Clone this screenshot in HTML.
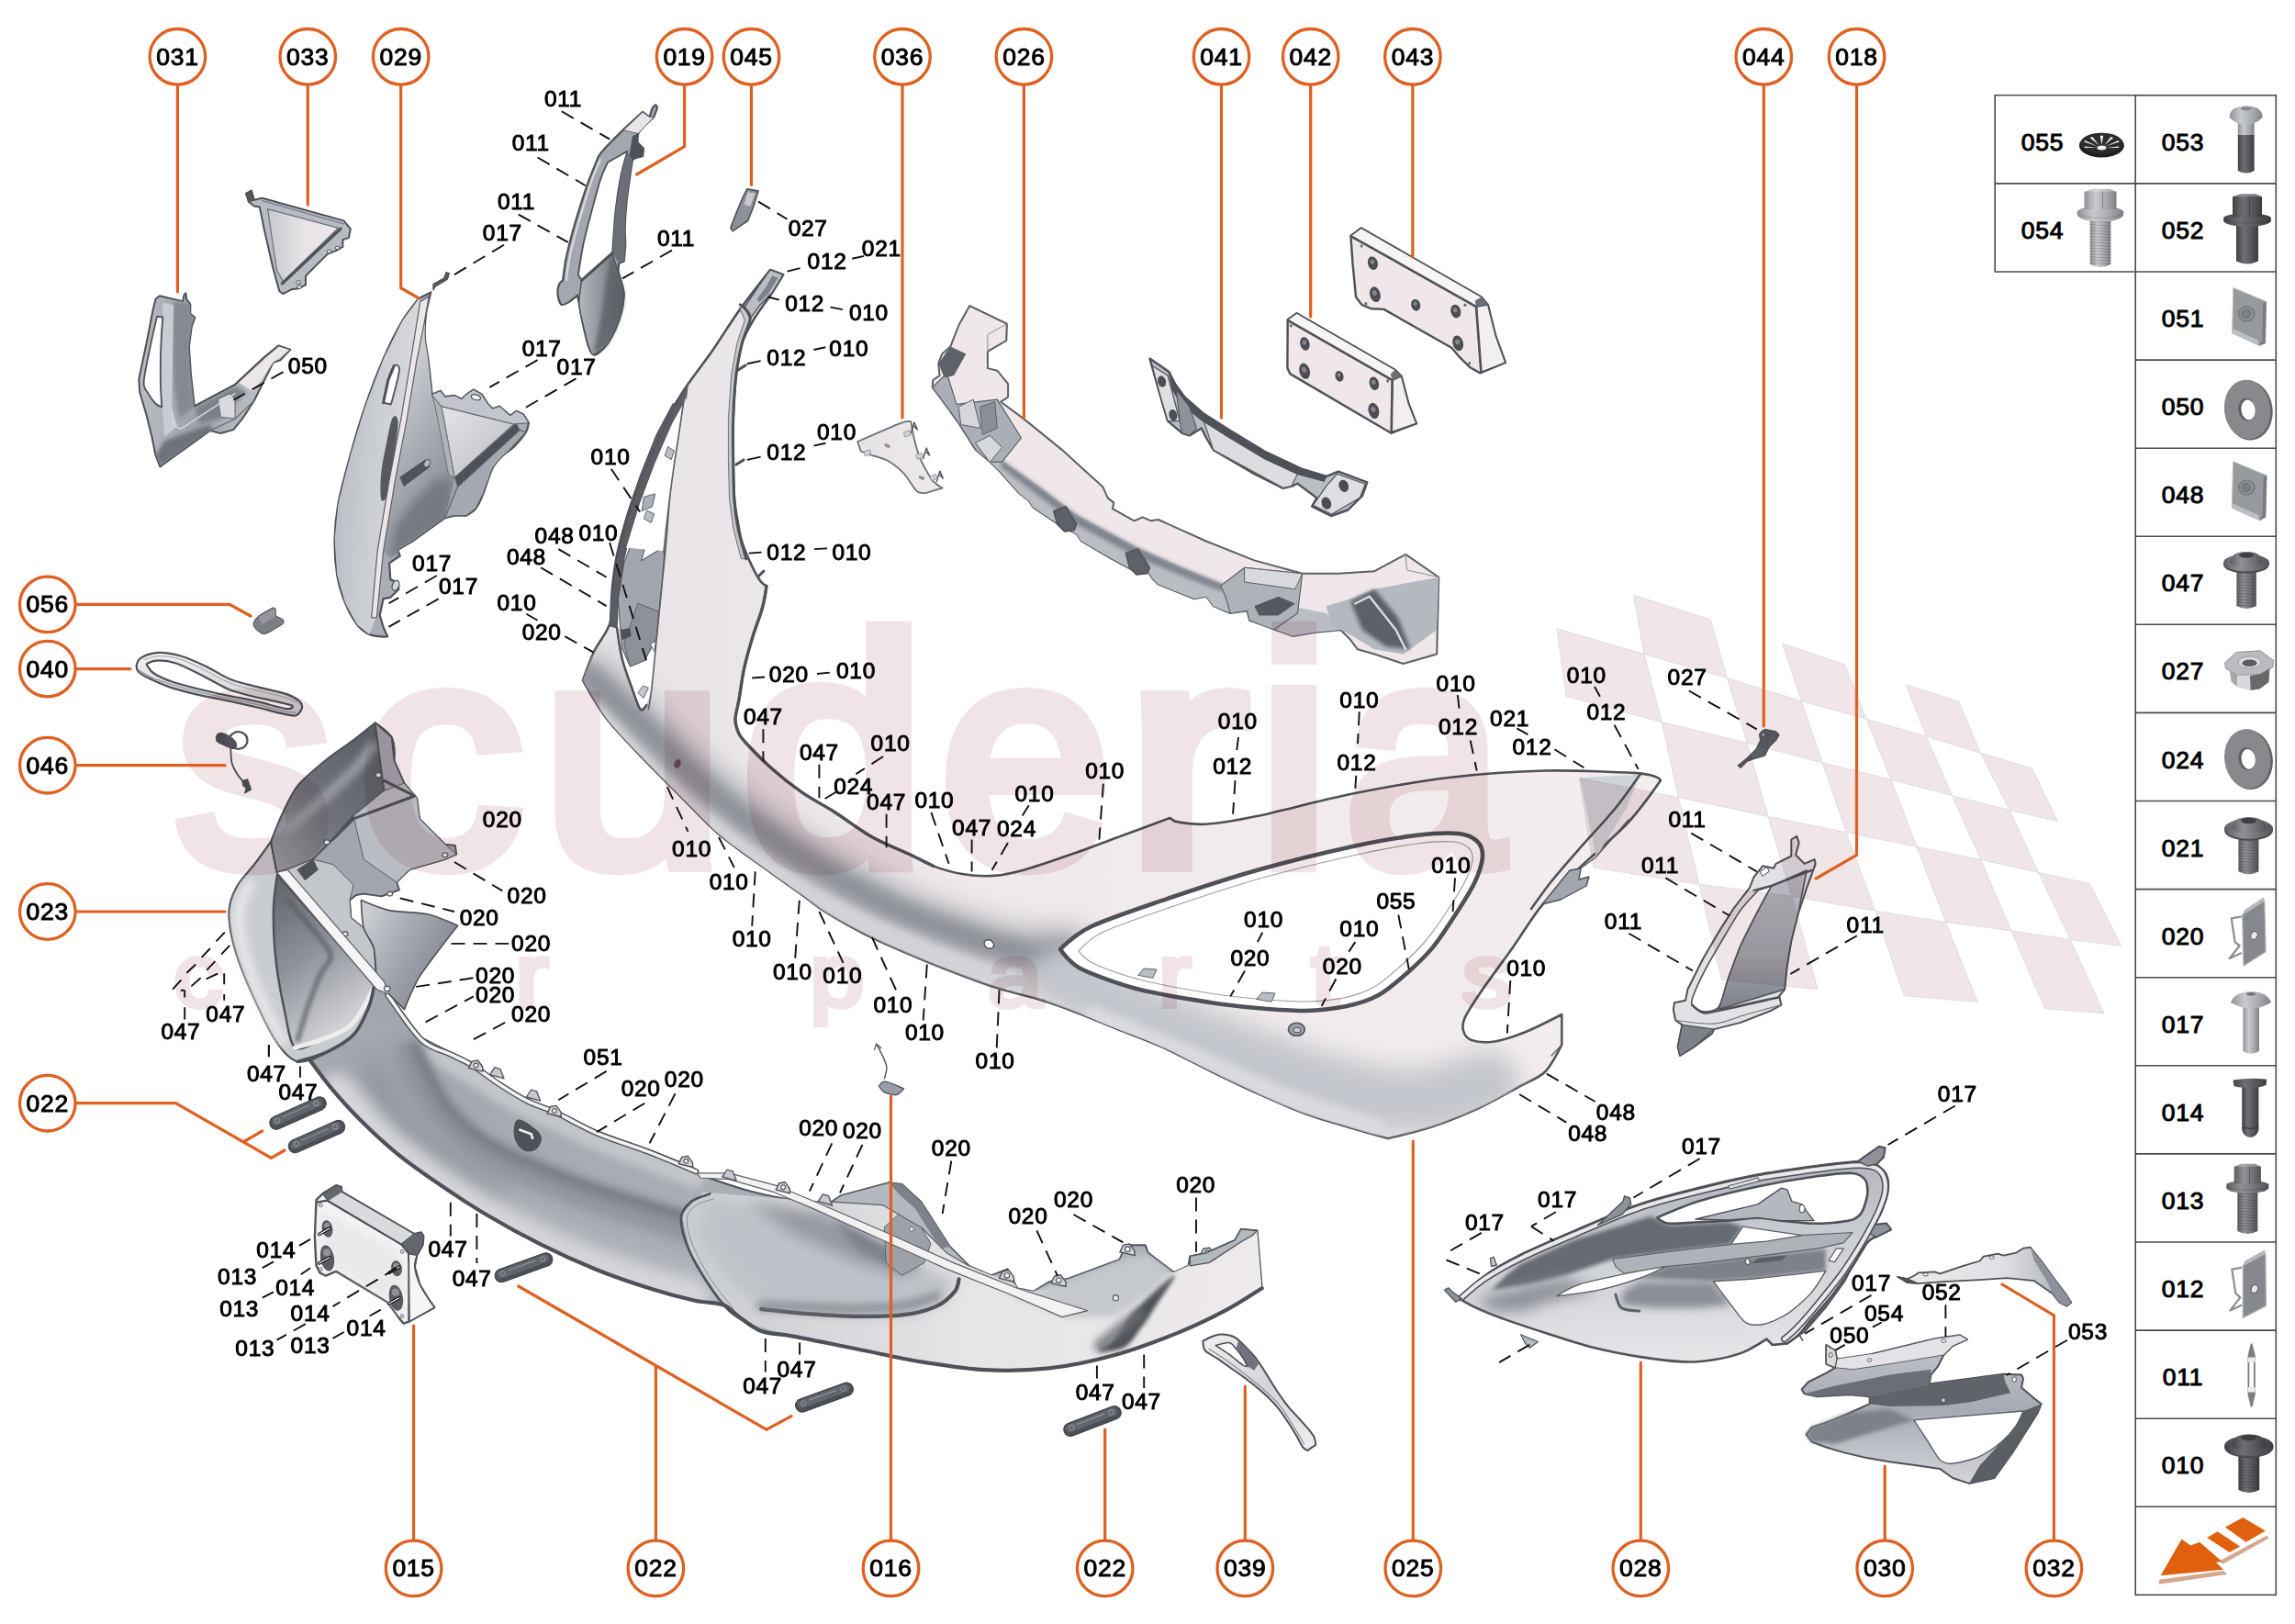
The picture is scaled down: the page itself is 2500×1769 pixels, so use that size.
<!DOCTYPE html>
<html lang="en"><head><meta charset="utf-8"><title>Front bumper parts diagram</title>
<style>
html,body{margin:0;padding:0;background:#fff}
body{width:2500px;height:1769px;overflow:hidden}
svg{display:block}
text{font-family:'Liberation Sans',sans-serif}
.ct text{font-size:25px;text-anchor:middle;fill:#000;stroke:#000;stroke-width:.95px;letter-spacing:.7px}
.lt text{font-size:24.5px;text-anchor:middle;fill:#000;stroke:#000;stroke-width:.95px;letter-spacing:.7px}
</style></head><body>
<svg width="2500" height="1769" viewBox="0 0 2500 1769">
<defs><filter id="b2" filterUnits="userSpaceOnUse" x="0" y="0" width="2500" height="1769"><feGaussianBlur stdDeviation="2"/></filter><filter id="b4" filterUnits="userSpaceOnUse" x="0" y="0" width="2500" height="1769"><feGaussianBlur stdDeviation="4"/></filter><filter id="b8" filterUnits="userSpaceOnUse" x="0" y="0" width="2500" height="1769"><feGaussianBlur stdDeviation="8"/></filter><filter id="b14" filterUnits="userSpaceOnUse" x="0" y="0" width="2500" height="1769"><feGaussianBlur stdDeviation="14"/></filter><linearGradient id="gA" x1="0" y1="0" x2="1" y2="0" gradientUnits="objectBoundingBox"><stop offset="0" stop-color="#c3c7cd"/><stop offset="0.5" stop-color="#a4a9b1"/><stop offset="1" stop-color="#8b9098"/></linearGradient><linearGradient id="gLight" x1="0" y1="0" x2="1" y2="0" gradientUnits="objectBoundingBox"><stop offset="0" stop-color="#d9dbe0"/><stop offset="1" stop-color="#efe9eb"/></linearGradient><linearGradient id="g031" x1="0" y1="0" x2="1" y2="0" gradientUnits="objectBoundingBox"><stop offset="0" stop-color="#b9bdc4"/><stop offset="0.35" stop-color="#9ea3ab"/><stop offset="0.7" stop-color="#b4b8bf"/><stop offset="1" stop-color="#c9ccd1"/></linearGradient><clipPath id="c031"><path d="M173.8 322.2 L199 328.1 L200.6 321.2 L202.5 319.3 L203.3 326.1 L207.3 331.1 L207.3 341.9 L212.4 345.9 L208.8 355.7 L205.9 377.4 L207.9 407 L211.8 442.4 L256.1 418.8 L287.7 389.2 L303.5 376.4 L316.3 380.9 L305.4 392.2 L297.5 395.1 L287.7 414.8 L276.8 436.5 L264 456.2 L254.2 468.1 L240.4 472 L228.6 469.1 L174.3 508.5 L169.4 495.7 L165.5 476 L159.6 452.3 L152.1 426.7 L151.3 412.9 L159.6 373.5 L166.5 338 L169.4 326.1Z"/></clipPath><linearGradient id="g033" x1="0" y1="0" x2="1" y2="0" gradientUnits="objectBoundingBox"><stop offset="0" stop-color="#c5c9cf"/><stop offset="0.5" stop-color="#e6e3e6"/><stop offset="1" stop-color="#efe8ea"/></linearGradient><linearGradient id="g029a" x1="0" y1="0" x2="1" y2="0.3" gradientUnits="objectBoundingBox"><stop offset="0" stop-color="#b4b8bf"/><stop offset="0.5" stop-color="#c9ccd1"/><stop offset="1" stop-color="#dcdde1"/></linearGradient><linearGradient id="g029b" x1="0.3" y1="0" x2="0.7" y2="1" gradientUnits="objectBoundingBox"><stop offset="0" stop-color="#dedfe3"/><stop offset="0.45" stop-color="#b0b4bb"/><stop offset="1" stop-color="#7c8088"/></linearGradient><linearGradient id="g029c" x1="0" y1="0" x2="1" y2="1" gradientUnits="objectBoundingBox"><stop offset="0" stop-color="#e4e4e8"/><stop offset="1" stop-color="#b9bdc4"/></linearGradient><clipPath id="c029"><path d="M456.4 324.9 C456.4 324.9 443.5 340.7 438.3 349.5 C433.1 358.3 423.1 378.1 417.6 390.9 C412.1 403.7 401.7 431.1 396.9 445.2 C392.1 459.3 385.2 483.1 381.4 496.9 C377.6 510.7 370.6 536.5 368.4 548.6 C366.2 560.7 364.8 577.1 364.6 587.4 C364.4 597.7 365.7 616.9 367.2 626.2 C368.7 635.5 373.3 650 376.2 657.2 C379.1 664.4 385.6 676 389.1 680.5 C392.6 685 398.6 689.2 402.1 690.9 C405.6 692.6 412.3 693.1 415 693.4 C417.7 693.7 422.2 693.4 422.2 693.4 C422.2 693.4 417.6 683.1 417.6 683.1 C417.6 683.1 413.7 670.2 413.7 670.2 C413.7 670.2 417.6 652.1 417.6 652.1 C417.6 652.1 425.3 650.8 425.3 650.8 C425.3 650.8 434.4 641.7 434.4 641.7 C434.4 641.7 433.1 634 433.1 634 C433.1 634 425.3 631.4 425.3 631.4 C425.3 631.4 424.1 613.3 424.1 613.3 C424.1 613.3 435.7 605.5 435.7 605.5 C435.7 605.5 433.1 599.1 433.1 599.1 C433.1 599.1 448.6 590 448.6 590 C448.6 590 484.8 564.1 484.8 564.1 C484.8 564.1 495.2 561.6 495.2 561.6 C495.2 561.6 508.1 561.6 508.1 561.6 C508.1 561.6 516 556.9 518.4 553.8 C520.8 550.7 523.8 544.2 526.2 538.3 C528.6 532.4 533.8 515.3 536.6 509.8 C539.4 504.3 543.8 500 546.9 496.9 C550 493.8 556.3 490.1 559.8 486.6 C563.3 483.1 570.7 474.5 572.8 471 C574.9 467.5 575.9 460.7 575.9 460.7 C575.9 460.7 570.2 451.6 570.2 451.6 C570.2 451.6 562.4 447.8 562.4 447.8 C562.4 447.8 555.9 452.9 555.9 452.9 C555.9 452.9 546.9 445.2 546.9 445.2 C546.9 445.2 544.3 442.6 544.3 442.6 C544.3 442.6 536.6 445.2 536.6 445.2 C536.6 445.2 531.4 440 531.4 440 C531.4 440 524.9 429.7 524.9 429.7 C524.9 429.7 515.9 424.5 515.9 424.5 C515.9 424.5 508.1 429.7 508.1 429.7 C508.1 429.7 502.9 434.8 502.9 434.8 C502.9 434.8 495.2 430.9 495.2 430.9 C495.2 430.9 484.8 432.2 484.8 432.2 C484.8 432.2 479.7 425.8 479.7 425.8 C479.7 425.8 470.6 429.7 470.6 429.7 C470.6 429.7 467.7 401.7 466.7 393.4 C465.7 385.1 463.1 374.5 462.8 367.6 C462.5 360.7 463.2 348.3 464.1 341.7 C465 335.1 469.3 318.4 469.3 318.4 C469.3 318.4 456.4 324.9 456.4 324.9Z"/></clipPath><linearGradient id="g019" x1="0" y1="0" x2="1" y2="0" gradientUnits="objectBoundingBox"><stop offset="0" stop-color="#b3b7be"/><stop offset="0.5" stop-color="#8f939b"/><stop offset="1" stop-color="#5d6168"/></linearGradient><linearGradient id="g036" x1="0" y1="0" x2="1" y2="0" gradientUnits="objectBoundingBox"><stop offset="0" stop-color="#e4e2e6"/><stop offset="1" stop-color="#f1eaec"/></linearGradient><linearGradient id="g026" x1="0" y1="0" x2="0" y2="1" gradientUnits="objectBoundingBox"><stop offset="0" stop-color="#9da1a9"/><stop offset="0.5" stop-color="#c6c9ce"/><stop offset="1" stop-color="#e6e4e7"/></linearGradient><clipPath id="c026"><path d="M1056.3 333.1 L1096.8 352.7 L1096.3 371 L1075.9 382.8 L1075.9 401.1 L1086.3 403.7 L1098.1 418.1 L1098.1 432.5 L1090.3 437.7 L1115.1 456.1 L1157 490.1 L1201.5 530.6 L1206.7 542.4 L1213.3 547.6 L1211.9 554.2 L1235.5 567.3 L1244.7 563.3 L1253.8 567.3 L1261.7 566 L1314 589.5 L1366.3 610.4 L1418.7 624.8 L1457.9 624.8 L1497.2 622.2 L1531.2 603.9 L1567.3 628.8 L1565.2 712.5 L1528.6 723 L1497.2 712.5 L1478.8 707.3 L1471 696.8 L1460.5 686.3 L1431.7 688.9 L1408.2 692.9 L1389.9 686.3 L1361.1 675.9 L1358.5 665.4 L1340.2 668 L1321.8 660.2 L1314 649.7 L1300.9 652.3 L1261.7 636.6 L1255.1 630.1 L1251.2 623.5 L1240.7 624.8 L1209.3 607.8 L1177.9 589.5 L1172.7 581.7 L1157 573.8 L1125.6 552.9 L1120.4 545 L1109.9 537.2 L1089 513.6 L1078.5 503.2 L1062.8 490.1 L1044.5 461.3 L1031.4 443 L1015.7 422 L1016.2 414.2 L1023.5 409 L1022.2 395.9 L1026.2 385.4 L1035.3 377.6 L1044.5 354Z"/></clipPath><linearGradient id="g025" x1="0" y1="0" x2="1" y2="0" gradientUnits="objectBoundingBox"><stop offset="0" stop-color="#e6e3e7"/><stop offset="0.3" stop-color="#f0e9ec"/><stop offset="1" stop-color="#f4edee"/></linearGradient><clipPath id="c025"><path d="M839 294 C839 294 853.2 299.2 853.2 299.2 C853.2 299.2 845.9 311.6 841.2 318.8 C836.5 326 826.5 339 821.6 347.2 C816.7 355.4 811.5 364.2 808.5 373.3 C805.5 382.4 803.4 395.8 801.9 408.2 C800.4 420.6 799.2 442.5 798.7 456.2 C798.2 469.9 798.5 486.7 798.7 499.8 C798.9 512.9 799.2 532.9 800 543.4 C800.8 553.9 802.7 562.9 804 570 C805.3 577.1 806.1 583.7 808.4 590.8 C810.7 597.9 816.5 611.1 819.5 617.4 C822.5 623.7 826.1 629.8 828.4 632.9 C830.7 636 835 638.4 835 638.4 C835 638.4 832.9 653.2 830.6 661.7 C828.3 670.2 822.5 685 819.5 695 C816.5 705 812.8 718.2 810.6 728.2 C808.4 738.2 806.5 753.3 805.1 761.5 C803.7 769.7 801.2 777.7 801 783 C800.8 788.3 802.5 793.3 804 797 C805.5 800.7 805.8 801.7 811 807.5 C816.2 813.3 829.4 827 838.8 835.4 C848.2 843.8 863.2 855.9 873.7 863.2 C884.2 870.5 897.1 876.9 908.6 884.2 C920.1 891.5 937.9 905 950.4 912 C962.9 919 982.3 926.5 992.2 931.2 C1002.1 935.9 1008.2 940.3 1016.6 943.4 C1025 946.5 1038.1 950.4 1048 952 C1057.9 953.6 1072.3 954.7 1082.8 953.9 C1093.3 953.1 1104.6 950.6 1117.7 946.9 C1130.8 943.2 1154.3 935 1170 929.5 C1185.7 924 1206.6 916.1 1222.3 910.3 C1238 904.5 1274.5 891 1274.5 891 C1274.5 891 1279.7 894.6 1279.7 894.6 C1279.7 894.6 1300 898.5 1313.4 897.7 C1326.8 896.9 1345 894 1369 889 C1393 884 1442.3 870.9 1473.7 864.6 C1505.1 858.3 1546.9 850.8 1578.3 847 C1609.7 843.2 1651.4 840.2 1682.8 839.5 C1714.2 838.8 1768.5 841 1787.4 842.6 C1806.3 844.2 1809 850 1809 850 C1809 850 1787.2 881.3 1773.5 896 C1759.8 910.7 1731.8 934.4 1717.7 948 C1703.6 961.6 1689.9 974 1679.4 986.6 C1668.9 999.2 1658 1017.8 1648 1031.9 C1638 1046 1620.8 1069.2 1613 1080.7 C1605.2 1092.2 1598.5 1102.3 1595.7 1108.6 C1592.9 1114.9 1593 1118.8 1594 1122.5 C1595 1126.2 1597.8 1131.2 1602.7 1133 C1607.7 1134.8 1618.1 1136 1627 1134.7 C1635.9 1133.4 1650.9 1128.5 1662 1124 C1673.1 1119.5 1701.3 1105 1701.3 1105 C1701.3 1105 1701.3 1138 1701.3 1138 C1701.3 1138 1689.7 1161 1682.8 1167.8 C1675.9 1174.6 1665.5 1177.8 1655 1183.5 C1644.5 1189.2 1627.1 1199.5 1613 1206 C1598.9 1212.5 1576 1221.9 1560.8 1227 C1545.6 1232.1 1512 1240 1512 1240 C1512 1240 1486.4 1233 1473 1229 C1459.6 1225 1438.3 1219.2 1422.9 1213.6 C1407.5 1208 1386.3 1198.5 1370.6 1191.4 C1354.9 1184.3 1334 1174.2 1318.3 1166.5 C1302.6 1158.8 1281.7 1147.5 1266 1140.4 C1250.3 1133.4 1229.4 1125.8 1213.7 1119.5 C1198 1113.2 1174 1103.3 1161.4 1098.6 C1148.8 1093.9 1140.6 1091.2 1130 1088 C1119.4 1084.8 1100.2 1080.3 1090.8 1077.6 C1081.4 1074.9 1079.5 1074.3 1067.3 1069.8 C1055.1 1065.3 1027.4 1054.9 1009.8 1047.6 C992.2 1040.3 966.2 1029.4 949.7 1021.4 C933.2 1013.4 911.4 1001 900 994 C888.6 987 885 982.9 873.7 974.8 C862.5 966.7 838.6 949.9 825 940 C811.4 930.1 795.6 919.6 783 908.6 C770.4 897.6 753.5 879.5 741 867 C728.5 854.5 711.4 837.6 699.4 825 C687.4 812.4 670.7 795.6 661 783 C651.3 770.4 635 741 635 741 C635 741 642.6 719.4 647 710 C651.4 700.6 661.6 689 664.6 678.5 C667.6 668 665.9 651 667 640 C668.1 629 669.5 617 672 605 C674.5 593 679.8 573.5 684 560 C688.2 546.5 694.8 528.5 700 515 C705.2 501.5 712.2 483.5 719 470 C725.8 456.5 736.5 438.2 745 425 C753.5 411.8 766.9 395.2 776 382 C785.1 368.8 796.5 350.2 806 337 C815.5 323.8 839 294 839 294Z"/></clipPath><linearGradient id="g023" x1="0.55" y1="0" x2="0.35" y2="1" gradientUnits="objectBoundingBox"><stop offset="0" stop-color="#9a9ea6"/><stop offset="0.5" stop-color="#a4a8b0"/><stop offset="1" stop-color="#b4b8be"/></linearGradient><linearGradient id="g023r" x1="0" y1="0" x2="1" y2="0" gradientUnits="objectBoundingBox"><stop offset="0" stop-color="#c9ccd1"/><stop offset="0.5" stop-color="#e6e5e8"/><stop offset="1" stop-color="#efeaec"/></linearGradient><clipPath id="c023"><path d="M458.1 1130 C458.1 1130 480.4 1141.2 488.6 1145.3 C496.8 1149.4 504.8 1152.5 513 1157.5 C521.2 1162.5 534.4 1172.9 543.5 1178.8 C552.6 1184.7 564.9 1192.5 574 1197.1 C583.1 1201.7 593.1 1204 604.5 1209.3 C615.9 1214.6 635.2 1225.8 650.3 1232.2 C665.4 1238.6 689.2 1245.8 705.2 1252 C721.2 1258.2 748.3 1269.3 757 1273.4 C765.7 1277.5 754 1275.8 763.1 1279.5 C772.2 1283.2 800.6 1293.2 818 1297.8 C835.4 1302.4 868.4 1308.3 879 1310 C889.6 1311.7 888.4 1309.2 888.4 1309.2 C888.4 1309.2 905.8 1309.2 905.8 1309.2 C905.8 1309.2 916.3 1302.2 916.3 1302.2 C916.3 1302.2 968.6 1288.2 968.6 1288.2 C968.6 1288.2 982.5 1290 982.5 1290 C982.5 1290 1003.4 1309.2 1003.4 1309.2 C1003.4 1309.2 1034.8 1358 1034.8 1358 C1034.8 1358 1055.7 1378.9 1055.7 1378.9 C1055.7 1378.9 1080.1 1389.3 1080.1 1389.3 C1080.1 1389.3 1097.6 1382.4 1097.6 1382.4 C1097.6 1382.4 1108 1403.3 1108 1403.3 C1108 1403.3 1125.4 1406.8 1125.4 1406.8 C1125.4 1406.8 1142.9 1396.3 1142.9 1396.3 C1142.9 1396.3 1163.8 1392.8 1163.8 1392.8 C1163.8 1392.8 1219.6 1371.9 1219.6 1371.9 C1219.6 1371.9 1226.5 1356.2 1226.5 1356.2 C1226.5 1356.2 1247.5 1356.2 1247.5 1356.2 C1247.5 1356.2 1250.9 1364.9 1250.9 1364.9 C1250.9 1364.9 1278.8 1385.8 1278.8 1385.8 C1278.8 1385.8 1294.5 1378.9 1294.5 1378.9 C1294.5 1378.9 1296.3 1368.4 1296.3 1368.4 C1296.3 1368.4 1313.7 1364.9 1313.7 1364.9 C1313.7 1364.9 1345.1 1351 1345.1 1351 C1345.1 1351 1352 1338.8 1352 1338.8 C1352 1338.8 1369.5 1340.5 1369.5 1340.5 C1369.5 1340.5 1374.7 1403.3 1374.7 1403.3 C1374.7 1403.3 1348.5 1420.4 1334.6 1427.7 C1320.7 1435 1300.6 1444.8 1282.3 1452.1 C1264 1459.4 1233.5 1470.8 1212.6 1476.5 C1191.7 1482.2 1163.8 1488 1142.9 1490.4 C1122 1492.8 1094.1 1493.2 1073.2 1492.2 C1052.3 1491.2 1024.3 1486.8 1003.4 1483.4 C982.5 1480 954.6 1473.7 933.7 1469.5 C912.8 1465.3 879.5 1458.5 864 1455.6 C848.5 1452.7 838.9 1453.4 830.2 1450.3 C821.5 1447.2 812.2 1439.3 805.8 1435 C799.4 1430.7 794.8 1424 787.5 1421.3 C780.2 1418.6 768.4 1419.2 757 1416.7 C745.6 1414.2 727.3 1409.5 711.3 1404.5 C695.3 1399.5 668.6 1390.5 650.3 1383.2 C632 1375.9 607.6 1364.9 589.3 1355.7 C571 1346.5 545.2 1332.3 528.3 1322.2 C511.4 1312.1 491 1298.7 476.4 1288.6 C461.8 1278.5 443.5 1265.6 430.7 1255.1 C417.9 1244.6 401.5 1229 391 1218.5 C380.5 1208 368.7 1194.7 360.5 1184.9 C352.3 1175.1 341.5 1157.2 336.1 1152.9 C330.7 1148.6 324.2 1156.4 324.2 1156.4 C324.2 1156.4 314.5 1151.1 310.3 1146.7 C306.1 1142.3 301.1 1135.2 296.5 1127.3 C291.9 1119.4 284.9 1104.9 279.9 1094.1 C274.9 1083.3 267.4 1066.5 263.2 1055.3 C259 1044.1 254.2 1029.3 252.2 1019.3 C250.2 1009.3 248.9 997.1 249.9 988.8 C250.9 980.5 255 971 259.1 963.9 C263.2 956.8 271.7 948.8 277.1 941.7 C282.5 934.6 295.1 916.8 295.1 916.8 C295.1 916.8 301.5 950.1 301.5 950.1 C301.5 950.1 407.3 1071.9 407.3 1071.9 C407.3 1071.9 423.9 1083 423.9 1083 C423.9 1083 458.1 1130 458.1 1130Z"/></clipPath><linearGradient id="gduct" x1="0.2" y1="0" x2="0.6" y2="1" gradientUnits="objectBoundingBox"><stop offset="0" stop-color="#63676e"/><stop offset="0.45" stop-color="#8e929a"/><stop offset="1" stop-color="#dcdde0"/></linearGradient><linearGradient id="gfin" x1="1" y1="0" x2="0" y2="1" gradientUnits="objectBoundingBox"><stop offset="0" stop-color="#54575e"/><stop offset="0.6" stop-color="#70747c"/><stop offset="1" stop-color="#9ea2aa"/></linearGradient><linearGradient id="gwing" x1="0" y1="0" x2="1" y2="0.6" gradientUnits="objectBoundingBox"><stop offset="0" stop-color="#d3d5d9"/><stop offset="0.5" stop-color="#a4a8b0"/><stop offset="1" stop-color="#7d8189"/></linearGradient><linearGradient id="g040" x1="0" y1="0" x2="0" y2="1" gradientUnits="objectBoundingBox"><stop offset="0" stop-color="#f1f1f3"/><stop offset="1" stop-color="#c9ccd1"/></linearGradient><linearGradient id="g039" x1="0" y1="0" x2="1" y2="1" gradientUnits="objectBoundingBox"><stop offset="0" stop-color="#f0f0f2"/><stop offset="0.5" stop-color="#d3d5da"/><stop offset="1" stop-color="#efeff1"/></linearGradient><linearGradient id="g028" x1="0.4" y1="0" x2="0.5" y2="1" gradientUnits="objectBoundingBox"><stop offset="0" stop-color="#a9adb5"/><stop offset="0.5" stop-color="#cdd0d5"/><stop offset="1" stop-color="#e6e6e9"/></linearGradient><clipPath id="c028"><path d="M1590.6 1415.1 C1590.6 1415.1 1608.1 1396.6 1618 1389.3 C1627.9 1382 1642.2 1374 1656.7 1366.7 C1671.2 1359.4 1695.5 1349.1 1714.8 1340.9 C1734.1 1332.7 1765.4 1318.9 1785.7 1311.9 C1806 1304.9 1830.9 1298.9 1850.2 1294.1 C1869.5 1289.3 1895.4 1283.2 1914.7 1279.6 C1934 1276 1962.8 1272.2 1979.2 1270 C1995.6 1267.8 2024.3 1265.1 2024.3 1265.1 C2024.3 1265.1 2046.9 1249 2046.9 1249 C2046.9 1249 2053.3 1250.6 2053.3 1250.6 C2053.3 1250.6 2051.7 1260.3 2051.7 1260.3 C2051.7 1260.3 2043.7 1268.3 2043.7 1268.3 C2043.7 1268.3 2053 1275.2 2054.9 1279.6 C2056.8 1284 2057.3 1291.6 2056.6 1297.4 C2055.9 1303.2 2052.3 1312.8 2050.1 1318.3 C2047.9 1323.8 2042 1334.4 2042 1334.4 C2042 1334.4 2054.9 1332.8 2054.9 1332.8 C2054.9 1332.8 2059.8 1339.3 2059.8 1339.3 C2059.8 1339.3 2043.7 1347.3 2043.7 1347.3 C2043.7 1347.3 2037.9 1349 2034 1353.8 C2030.1 1358.6 2023.7 1370.9 2017.9 1379.6 C2012.1 1388.3 2002.1 1403.1 1995.3 1411.8 C1988.5 1420.5 1978 1431.3 1972.7 1437.6 C1967.4 1443.9 1963.7 1449.8 1959.8 1453.7 C1955.9 1457.6 1946.9 1463.4 1946.9 1463.4 C1946.9 1463.4 1930.8 1465 1930.8 1465 C1930.8 1465 1924.4 1458.6 1924.4 1458.6 C1924.4 1458.6 1907.3 1469.7 1898.6 1473.1 C1889.9 1476.5 1876 1479.7 1866.3 1481.2 C1856.6 1482.7 1846.2 1483.9 1834.1 1483.4 C1822 1482.9 1800.2 1480.2 1785.7 1477.9 C1771.2 1475.6 1751.8 1471.9 1737.3 1468.3 C1722.8 1464.7 1703.5 1458.3 1689 1453.7 C1674.5 1449.1 1652.7 1441.9 1640.6 1437.6 C1628.5 1433.2 1615.9 1428.1 1608.4 1424.7 C1600.9 1421.3 1590.6 1415.1 1590.6 1415.1Z"/></clipPath><linearGradient id="g032" x1="0" y1="0" x2="1" y2="0" gradientUnits="objectBoundingBox"><stop offset="0" stop-color="#efeaec"/><stop offset="0.6" stop-color="#e0e0e4"/><stop offset="1" stop-color="#a9adb5"/></linearGradient><linearGradient id="g030" x1="0" y1="0" x2="0" y2="1" gradientUnits="objectBoundingBox"><stop offset="0" stop-color="#c3c6cc"/><stop offset="0.5" stop-color="#a6aab2"/><stop offset="1" stop-color="#d3d5da"/></linearGradient><linearGradient id="g018" x1="0" y1="0" x2="0" y2="1" gradientUnits="objectBoundingBox"><stop offset="0" stop-color="#b9bcc3"/><stop offset="0.6" stop-color="#a4a8b0"/><stop offset="1" stop-color="#7d8189"/></linearGradient><linearGradient id="iL" x1="0" y1="0" x2="1" y2="0"><stop offset="0" stop-color="#8e9196"/><stop offset="0.35" stop-color="#c9cbcf"/><stop offset="0.7" stop-color="#a6a9ae"/><stop offset="1" stop-color="#7e8186"/></linearGradient><linearGradient id="iD" x1="0" y1="0" x2="1" y2="0"><stop offset="0" stop-color="#3f4145"/><stop offset="0.35" stop-color="#6d6f74"/><stop offset="0.7" stop-color="#54565a"/><stop offset="1" stop-color="#3a3c40"/></linearGradient><linearGradient id="iM" x1="0" y1="0" x2="1" y2="0"><stop offset="0" stop-color="#5c5e62"/><stop offset="0.35" stop-color="#8f9195"/><stop offset="0.7" stop-color="#707276"/><stop offset="1" stop-color="#505256"/></linearGradient><linearGradient id="iW" x1="0" y1="0" x2="1" y2="1"><stop offset="0" stop-color="#8b8d90"/><stop offset="1" stop-color="#7b7d80"/></linearGradient></defs>
<rect width="2500" height="1769" fill="#fff"/>
<g id="parts"><path d="M173.8 322.2 L199 328.1 L200.6 321.2 L202.5 319.3 L203.3 326.1 L207.3 331.1 L207.3 341.9 L212.4 345.9 L208.8 355.7 L205.9 377.4 L207.9 407 L211.8 442.4 L256.1 418.8 L287.7 389.2 L303.5 376.4 L316.3 380.9 L305.4 392.2 L297.5 395.1 L287.7 414.8 L276.8 436.5 L264 456.2 L254.2 468.1 L240.4 472 L228.6 469.1 L174.3 508.5 L169.4 495.7 L165.5 476 L159.6 452.3 L152.1 426.7 L151.3 412.9 L159.6 373.5 L166.5 338 L169.4 326.1Z" fill="url(#g031)" stroke="#4e5157" stroke-width="2" stroke-linejoin="round" stroke-linecap="round"/>
<g clip-path="url(#c031)">
<path d="M189.1 328.1 L207.3 331.1 L212.4 345.9 L208.8 355.7 L205.9 377.4 L207.9 407 L211.8 442.4 L195 456.2 L189.1 416.8 L187.2 357.7Z" fill="#858991" filter="url(#b2)"/>
<path d="M179.3 479.9 L228.6 462.2 L232.5 469.1 L174.3 508.5 L169.4 495.7Z" fill="#6e727a" filter="url(#b2)"/>
<path d="M212.8 444.4 L256.1 420.8 L268 426.7 L240.4 456.2 L216.7 462.2Z" fill="#7d8189" filter="url(#b2)"/>
<path d="M260.1 416.8 L303.5 377.4 L315.3 381.3 L297.5 395.1 L275.9 426.7Z" fill="#ebe6e8"/>
<path d="M177.3 330.1 L189.1 332.1 L187.2 446.4 L193.1 464.1 L179.3 476 L176.3 443.4 L174.9 416.8 L177.3 345.5Z" fill="#c9ccd2"/>
<path d="M237.4 434.6 L250.2 428.6 L256.1 434.6 L256.1 456.2 L240.4 454.3Z" fill="#d9dadf" stroke="#6c7078" stroke-width="1.2" stroke-linejoin="round" stroke-linecap="round"/>
<path d="M187.2 446.4 L189.1 464.1 L197 467.1 L256.1 428.6" fill="none" stroke="#d4d6da" stroke-width="1.6" stroke-linejoin="round" stroke-linecap="round"/>
</g>
<path d="M171 344.9 C171 344.9 177.3 345.5 177.3 345.5 C177.3 345.5 175.7 365.5 175.3 377.4 C174.9 389.3 174.7 405.8 174.9 416.8 C175.1 427.8 176.3 443.4 176.3 443.4 C176.3 443.4 171.9 442 169.4 439.5 C166.9 437 163.6 432.4 161.5 428.6 C159.4 424.8 156.4 424.4 156.6 416.8 C156.8 409.2 160.1 395.3 162.5 383.3 C164.9 371.3 171 344.9 171 344.9Z" fill="#fff" stroke="#4e5157" stroke-width="1.8" stroke-linejoin="round" stroke-linecap="round"/>
<path d="M211.8 442.4 L256.1 418.8 L287.7 389.2 L303.5 376.4" fill="none" stroke="#4e5157" stroke-width="1.6" stroke-linejoin="round" stroke-linecap="round"/>
<path d="M228.6 469.1 L256.1 456.2 L276.8 436.5" fill="none" stroke="#6c7078" stroke-width="1.2" stroke-linejoin="round" stroke-linecap="round"/>
<path d="M268 210.8 L273.9 207.5 L276.8 217.7 L285.7 215.8 L374.4 240.4 L381.9 249.3 L379.9 259.1 L373.4 261.1 L373.4 269 L366.5 272.9 L356.7 276.9 L333 300.5 L333 310.4 L325.1 314.3 L317.3 315.3 L308.4 320.2 L304.4 317.3 L297.5 292.6 L287.7 249.3 L282.8 225.6 L276.8 224.6 L270.9 219.7Z" fill="#b7bbc2" stroke="#4e5157" stroke-width="2" stroke-linejoin="round" stroke-linecap="round"/>
<path d="M268 210.8 L273.9 207.5 L276.8 217.7 L270.9 219.7Z" fill="#55585e" stroke="#4e5157" stroke-width="1.5" stroke-linejoin="round" stroke-linecap="round"/>
<path d="M291.6 227.6 L368.5 248.3 L308.4 306.4 L301.5 294.6Z" fill="url(#g033)" stroke="#6c7078" stroke-width="1.2" stroke-linejoin="round" stroke-linecap="round"/>
<path d="M370.9 249.3 L307.4 308.8" fill="none" stroke="#4e5157" stroke-width="3.2" stroke-linejoin="round" stroke-linecap="round"/>
<path d="M285.7 218.7 L374.4 243.8" fill="none" stroke="#7a7e86" stroke-width="1.2" stroke-linejoin="round" stroke-linecap="round"/>
<ellipse cx="358.6" cy="273.9" rx="2.4" ry="1.8" fill="#e8e8ea" stroke="#4e5157" stroke-width="1"/>
<ellipse cx="367.5" cy="270" rx="2.4" ry="1.8" fill="#e8e8ea" stroke="#4e5157" stroke-width="1"/>
<ellipse cx="325.1" cy="307.4" rx="2.4" ry="1.8" fill="#e8e8ea" stroke="#4e5157" stroke-width="1"/>
<ellipse cx="326.1" cy="312.7" rx="2.4" ry="1.8" fill="#e8e8ea" stroke="#4e5157" stroke-width="1"/>
<path d="M456.4 324.9 C456.4 324.9 443.5 340.7 438.3 349.5 C433.1 358.3 423.1 378.1 417.6 390.9 C412.1 403.7 401.7 431.1 396.9 445.2 C392.1 459.3 385.2 483.1 381.4 496.9 C377.6 510.7 370.6 536.5 368.4 548.6 C366.2 560.7 364.8 577.1 364.6 587.4 C364.4 597.7 365.7 616.9 367.2 626.2 C368.7 635.5 373.3 650 376.2 657.2 C379.1 664.4 385.6 676 389.1 680.5 C392.6 685 398.6 689.2 402.1 690.9 C405.6 692.6 412.3 693.1 415 693.4 C417.7 693.7 422.2 693.4 422.2 693.4 C422.2 693.4 417.6 683.1 417.6 683.1 C417.6 683.1 413.7 670.2 413.7 670.2 C413.7 670.2 417.6 652.1 417.6 652.1 C417.6 652.1 425.3 650.8 425.3 650.8 C425.3 650.8 434.4 641.7 434.4 641.7 C434.4 641.7 433.1 634 433.1 634 C433.1 634 425.3 631.4 425.3 631.4 C425.3 631.4 424.1 613.3 424.1 613.3 C424.1 613.3 435.7 605.5 435.7 605.5 C435.7 605.5 433.1 599.1 433.1 599.1 C433.1 599.1 448.6 590 448.6 590 C448.6 590 484.8 564.1 484.8 564.1 C484.8 564.1 495.2 561.6 495.2 561.6 C495.2 561.6 508.1 561.6 508.1 561.6 C508.1 561.6 516 556.9 518.4 553.8 C520.8 550.7 523.8 544.2 526.2 538.3 C528.6 532.4 533.8 515.3 536.6 509.8 C539.4 504.3 543.8 500 546.9 496.9 C550 493.8 556.3 490.1 559.8 486.6 C563.3 483.1 570.7 474.5 572.8 471 C574.9 467.5 575.9 460.7 575.9 460.7 C575.9 460.7 570.2 451.6 570.2 451.6 C570.2 451.6 562.4 447.8 562.4 447.8 C562.4 447.8 555.9 452.9 555.9 452.9 C555.9 452.9 546.9 445.2 546.9 445.2 C546.9 445.2 544.3 442.6 544.3 442.6 C544.3 442.6 536.6 445.2 536.6 445.2 C536.6 445.2 531.4 440 531.4 440 C531.4 440 524.9 429.7 524.9 429.7 C524.9 429.7 515.9 424.5 515.9 424.5 C515.9 424.5 508.1 429.7 508.1 429.7 C508.1 429.7 502.9 434.8 502.9 434.8 C502.9 434.8 495.2 430.9 495.2 430.9 C495.2 430.9 484.8 432.2 484.8 432.2 C484.8 432.2 479.7 425.8 479.7 425.8 C479.7 425.8 470.6 429.7 470.6 429.7 C470.6 429.7 467.7 401.7 466.7 393.4 C465.7 385.1 463.1 374.5 462.8 367.6 C462.5 360.7 463.2 348.3 464.1 341.7 C465 335.1 469.3 318.4 469.3 318.4 C469.3 318.4 456.4 324.9 456.4 324.9Z" fill="#a9adb5" stroke="#4e5157" stroke-width="2.2" stroke-linejoin="round" stroke-linecap="round"/>
<g clip-path="url(#c029)">
<path d="M456.4 324.9 L438.3 349.5 L417.6 390.9 L396.9 445.2 L381.4 496.9 L368.4 548.6 L364.6 587.4 L367.2 626.2 L376.2 657.2 L389.1 680.5 L402.1 690.9 L409.8 672.8 L417.6 600.3 L430.5 522.8 L443.4 455.5 L453.8 393.4 L461.6 341.7Z" fill="url(#g029a)"/>
<path d="M461.6 341.7 L466.7 393.4 L470.6 429.7 L480.9 442.6 L495.2 520.2 L484.8 564.1 L448.6 590 L425.3 608.1 L417.6 600.3 L430.5 522.8 L443.4 455.5 L453.8 393.4Z" fill="url(#g029b)"/>
<path d="M430.5 574.5 L448.6 548.6 L474.5 522.8 L492.6 522.8 L484.8 564.1 L448.6 590 L425.3 608.1Z" fill="#6f737b" filter="url(#b4)" opacity="0.8"/>
<path d="M427.4 455.5 C429.6 451 433.3 452.5 433.6 459.4 C433.9 466.3 430.9 484.2 429.2 496.9 C427.5 509.6 425.6 527.7 423.3 535.7 C421 543.7 416.9 547.7 415.5 544.7 C414.1 541.7 414.2 527.3 415 517.6 C415.8 507.9 418.1 497 420.2 486.6 C422.3 476.2 425.2 460 427.4 455.5Z" fill="#565960"/>
<path d="M480.9 442.6 L559.8 462 L495.2 520.2Z" fill="url(#g029c)" stroke="#6c7078" stroke-width="1.2" stroke-linejoin="round" stroke-linecap="round"/>
<path d="M470.6 429.7 L480.9 442.6 L495.2 520.2 L488.7 517.6 L474.5 445.2Z" fill="#aeb2b9" stroke="#6c7078" stroke-width="1" stroke-linejoin="round" stroke-linecap="round"/>
<path d="M495.2 520.2 L562.4 460.7 L566.3 468.4 L498.3 530.5Z" fill="#4e5157"/>
<path d="M498.3 530.5 L566.3 468.4 L572.8 471 L536.6 509.8 L526.2 538.3 L518.4 553.8 L508.1 561.6 L495.2 561.6 L484.8 564.1Z" fill="#a4a8b0" stroke="#5c6066" stroke-width="1.2" stroke-linejoin="round" stroke-linecap="round"/>
<path d="M470.6 429.7 L479.7 425.8 L484.8 432.2 L495.2 430.9 L502.9 434.8 L508.1 429.7 L515.9 424.5 L524.9 429.7 L531.4 440 L536.6 445.2 L544.3 442.6 L555.9 452.9 L562.4 447.8 L570.2 451.6 L575.9 460.7 L559.8 462 L480.9 442.6Z" fill="#c2c5cb" stroke="#5c6066" stroke-width="1" stroke-linejoin="round" stroke-linecap="round"/>
</g>
<ellipse cx="518.4" cy="432.8" rx="5.2" ry="2.8" fill="#f4f4f6" stroke="#4e5157" stroke-width="1.2" transform="rotate(15 518.4 432.8)"/>
<path d="M457.7 328.8 L467.2 323.1 L461.6 354.7 L453.8 393.4 L443.4 455.5 L430.5 522.8 L417.6 600.3 L410.3 672.8 L404.7 672.8 L411.1 600.3 L424.1 522.8 L437 455.5 L447.3 393.4Z" fill="#ece6e8" stroke="#5c6066" stroke-width="1.2" stroke-linejoin="round" stroke-linecap="round"/>
<path d="M429.2 398.6 C431.2 396.9 435.4 396.8 434.9 403.8 C434.3 410.8 425.9 440.5 425.9 440.5 C425.9 440.5 417.6 438.7 417.6 438.7 C417.6 438.7 420.9 420.8 422.8 414.1 C424.7 407.4 427.2 400.3 429.2 398.6Z" fill="#fff" stroke="#4e5157" stroke-width="1.8" stroke-linejoin="round" stroke-linecap="round"/>
<path d="M417.6 438.7 L422.8 414.1 L429.2 398.6" fill="none" stroke="#4e5157" stroke-width="3" stroke-linejoin="round" stroke-linecap="round"/>
<path d="M436.2 519.7 L463.6 500.8 L468 508.5 L440.3 529.2Z" fill="#50535a" stroke="#4e5157" stroke-width="1" stroke-linejoin="round" stroke-linecap="round"/>
<ellipse cx="465.2" cy="504.7" rx="3.1" ry="4.4" fill="#b9bcc2" stroke="#4e5157" stroke-width="1" transform="rotate(25 465.2 504.7)"/>
<path d="M471.9 309.4 L483.5 302.9 L486.1 296.5 L489.5 297.8 L487.4 304.2 L474.5 312 L471.9 315.9Z" fill="#55585e" stroke="#4e5157" stroke-width="1.2" stroke-linejoin="round" stroke-linecap="round"/>
<ellipse cx="431" cy="637.8" rx="3.6" ry="5.7" fill="#d5d7db" stroke="#4e5157" stroke-width="1.3" transform="rotate(20 431 637.8)"/>
<path d="M700.1 121.8 C700.1 121.8 707.5 127.7 707.5 127.7 C707.5 127.7 710.2 118.5 710.2 118.5 C710.2 118.5 713.2 114.5 713.9 114.4 C714.6 114.3 716 115.7 715.8 117.5 C715.6 119.3 712.1 127.7 712.1 127.7 C712.1 127.7 701.9 136.9 701.9 136.9 C701.9 136.9 696.4 142.8 695.4 145.3 C694.4 147.8 694.5 155.4 694.5 155.4 C694.5 155.4 701 161.9 701 161.9 C701 161.9 700.1 170.2 700.1 170.2 C700.1 170.2 692.7 172 692.7 172 C692.7 172 689 173.9 689 173.9 C689 173.9 687.1 186.2 686.2 192.4 C685.3 198.6 683.2 212.7 682.5 220.1 C681.8 227.5 680.9 241.7 680.7 247.8 C680.5 253.9 681.3 261.3 681.2 266.2 C681.1 271.1 679.7 284.7 679.7 284.7 C679.7 284.7 674.2 286.6 674.2 286.6 C674.2 286.6 673.3 295.8 673.3 295.8 C673.3 295.8 677 307.1 677.9 310.6 C678.8 314.1 679.8 317.8 679.7 321.7 C679.6 325.6 678.2 335.2 677 340.1 C675.8 345 672.6 353.9 670.5 358.6 C668.4 363.3 663.8 371.7 661.3 375.2 C658.8 378.7 654 383 652 384.5 C650 386 648 387.3 646.5 386.3 C645 385.3 642.5 381.3 641 377.1 C639.5 372.9 636.8 361.1 635.4 354.9 C634 348.7 631.7 335.3 630.8 330.9 C629.9 326.5 629 321.7 629 321.7 C629 321.7 622 327.8 619.7 329.1 C617.4 330.4 613 332.8 611.4 331.8 C609.8 330.8 608.1 324.5 607.7 321.7 C607.3 318.9 607.9 312.8 608.6 310.6 C609.3 308.4 613.2 305 613.2 305 C613.2 305 614.8 291.1 616 284.7 C617.2 278.3 620.4 264.9 622.5 257 C624.6 249.1 629.2 233.5 631.7 225.6 C634.2 217.7 638.3 205.3 641 197.9 C643.7 190.5 652 170.2 652 170.2 C652 170.2 655.7 164.9 659.4 161 C663.1 157.1 674.3 145.8 679.7 140.6 C685.1 135.4 700.1 121.8 700.1 121.8Z" fill="#a3a7af" stroke="#4e5157" stroke-width="2.2" stroke-linejoin="round" stroke-linecap="round"/>
<path d="M679.7 141.6 L700.1 122.2 L707.5 127.7 L712.1 127.7 L695.4 145.3Z" fill="#e9e4e7" stroke="#6c7078" stroke-width="1" stroke-linejoin="round" stroke-linecap="round"/>
<path d="M689 148 L695.4 145.3 L694.5 155.4 L701 161.9 L700.1 170.2 L692.7 172 L689 173.9 L685.3 170.2Z" fill="#4e5157"/>
<path d="M633.6 306 C633.6 306 666.8 276.4 666.8 276.4 C666.8 276.4 671.8 291.2 673.3 295.8 C674.8 300.4 677 307.1 677.9 310.6 C678.8 314.1 679.8 317.8 679.7 321.7 C679.6 325.6 678.2 335.2 677 340.1 C675.8 345 672.6 353.9 670.5 358.6 C668.4 363.3 664.5 371.5 661.3 375.2 C658.1 378.9 649.2 386 646.5 386.3 C643.8 386.6 642.5 381.3 641 377.1 C639.5 372.9 636.8 361.1 635.4 354.9 C634 348.7 631 337.4 630.8 330.9 C630.6 324.4 633.6 306 633.6 306Z" fill="url(#g019)" stroke="#4e5157" stroke-width="1.5" stroke-linejoin="round" stroke-linecap="round"/>
<path d="M666.8 276.4 L659.4 312.4 L653.9 349.4 L646.5 386.3 L661.3 375.2 L670.5 358.6 L677 340.1 L679.7 321.7 L673.3 295.8Z" fill="#5a5e65" filter="url(#b2)" opacity="0.75"/>
<path d="M662.2 176.7 C662.2 176.7 683.4 164.7 683.4 164.7 C683.4 164.7 677.8 183.8 676.1 192.4 C674.4 201 671.6 219.5 670.5 229.3 C669.4 239.1 668.2 260 667.7 266.2 C667.2 272.4 666.8 275.5 666.8 275.5 C666.8 275.5 633.6 305 633.6 305 C633.6 305 629.9 299.5 629.9 299.5 C629.9 299.5 633.4 275.6 635.4 266.2 C637.4 256.8 642.2 238.6 644.7 229.3 C647.2 220 651.6 203.1 653.9 196.1 C656.2 189.1 662.2 176.7 662.2 176.7Z" fill="#fff" stroke="#4e5157" stroke-width="1.8" stroke-linejoin="round" stroke-linecap="round"/>
<path d="M683.4 164.7 L689 173.9 L686.2 192.4 L682.5 220.1 L680.7 247.8 L681.2 266.2 L679.7 284.7 L674.2 286.6 L666.8 275.5 L667.7 266.2 L670.5 229.3 L676.1 192.4Z" fill="#6a6e76"/>
<path d="M653.9 173.9 C652.4 177.6 647.8 187.5 644.7 196.1 C641.6 204.7 638.5 215.4 635.4 225.6 C632.3 235.8 628.8 247.2 626.2 257 C623.6 266.9 621.2 276.7 619.7 284.7 C618.2 292.7 617.4 301.6 616.9 305" fill="none" stroke="#d8dade" stroke-width="2.2" stroke-linejoin="round" stroke-linecap="round"/>
<path d="M633.6 305.4 L666.8 275.9" fill="none" stroke="#4e5157" stroke-width="3" stroke-linejoin="round" stroke-linecap="round"/>
<path d="M813.9 205.7 L826.1 208.1 L820.2 226.6 L814.6 240.5 L798.3 251.7 L795.8 248.2 L802.8 230.1 L808.7 216.1Z" fill="#8d9199" stroke="#4e5157" stroke-width="1.6" stroke-linejoin="round" stroke-linecap="round"/>
<path d="M814.6 209.2 L822.7 210.5 L817.4 224.8 L810.5 223.1Z" fill="#c6c9cf"/>
<path d="M934.2 481 C934.2 481 973.5 463.7 981.3 460.8 C989.1 457.9 992.4 459.4 992.4 459.4 C992.4 459.4 994.6 473 995.9 478.3 C997.2 483.6 999.6 493.3 1002.2 499.2 C1004.8 505.1 1012.1 518.6 1015.4 522.9 C1018.7 527.2 1026.6 531.6 1026.6 531.6 C1026.6 531.6 1009.2 536.8 1009.2 536.8 C1009.2 536.8 1002 537.9 998.7 535.1 C995.4 532.3 988.9 520.3 984.7 515.9 C980.5 511.5 972.4 504.8 967.3 502 C962.2 499.2 950.3 496.4 946.4 495 C942.5 493.6 937.7 491.5 937.7 491.5 C937.7 491.5 934.2 481 934.2 481Z" fill="url(#g036)" stroke="#6c7078" stroke-width="1.8" stroke-linejoin="round" stroke-linecap="round"/>
<path d="M992.4 471.6 L995.9 460.1 L999.4 468.1 L995.9 464.7" fill="none" stroke="#4e5157" stroke-width="1.4" stroke-linejoin="round" stroke-linecap="round"/>
<path d="M1005.7 499.5 L1009.2 488 L1012.6 496 L1009.2 492.5" fill="none" stroke="#4e5157" stroke-width="1.4" stroke-linejoin="round" stroke-linecap="round"/>
<path d="M1020.3 524.6 L1023.8 513.1 L1027.3 521.1 L1023.8 517.6" fill="none" stroke="#4e5157" stroke-width="1.4" stroke-linejoin="round" stroke-linecap="round"/>
<path d="M984.7 470.9 L991 468.8 L992.4 473.7 L986.1 475.8Z" fill="#d0d2d7" stroke="#8a8e96" stroke-width="0.8" stroke-linejoin="round" stroke-linecap="round"/>
<path d="M998 495.3 L1004.3 493.2 L1005.7 498.1 L999.4 500.2Z" fill="#d0d2d7" stroke="#8a8e96" stroke-width="0.8" stroke-linejoin="round" stroke-linecap="round"/>
<path d="M1013.3 518.7 L1019.6 516.6 L1021 521.5 L1014.7 523.6Z" fill="#d0d2d7" stroke="#8a8e96" stroke-width="0.8" stroke-linejoin="round" stroke-linecap="round"/>
<path d="M941.2 491.9 L947.5 489.8 L948.8 494.6 L942.6 496.7Z" fill="#d0d2d7" stroke="#8a8e96" stroke-width="0.8" stroke-linejoin="round" stroke-linecap="round"/>
<ellipse cx="966.6" cy="485.6" rx="3.5" ry="1.7" fill="#8a8e96" transform="rotate(25 966.6 485.6)"/>
<ellipse cx="1003.9" cy="520.4" rx="3.5" ry="1.7" fill="#8a8e96" transform="rotate(25 1003.9 520.4)"/>
<path d="M1056.3 333.1 L1096.8 352.7 L1096.3 371 L1075.9 382.8 L1075.9 401.1 L1086.3 403.7 L1098.1 418.1 L1098.1 432.5 L1090.3 437.7 L1115.1 456.1 L1157 490.1 L1201.5 530.6 L1206.7 542.4 L1213.3 547.6 L1211.9 554.2 L1235.5 567.3 L1244.7 563.3 L1253.8 567.3 L1261.7 566 L1314 589.5 L1366.3 610.4 L1418.7 624.8 L1457.9 624.8 L1497.2 622.2 L1531.2 603.9 L1567.3 628.8 L1565.2 712.5 L1528.6 723 L1497.2 712.5 L1478.8 707.3 L1471 696.8 L1460.5 686.3 L1431.7 688.9 L1408.2 692.9 L1389.9 686.3 L1361.1 675.9 L1358.5 665.4 L1340.2 668 L1321.8 660.2 L1314 649.7 L1300.9 652.3 L1261.7 636.6 L1255.1 630.1 L1251.2 623.5 L1240.7 624.8 L1209.3 607.8 L1177.9 589.5 L1172.7 581.7 L1157 573.8 L1125.6 552.9 L1120.4 545 L1109.9 537.2 L1089 513.6 L1078.5 503.2 L1062.8 490.1 L1044.5 461.3 L1031.4 443 L1015.7 422 L1016.2 414.2 L1023.5 409 L1022.2 395.9 L1026.2 385.4 L1035.3 377.6 L1044.5 354Z" fill="#efe7e9" stroke="#5c6066" stroke-width="2" stroke-linejoin="round" stroke-linecap="round"/>
<g clip-path="url(#c026)">
<path d="M1078.5 487.5 L1090.3 500.5 L1130.8 529.3 L1172.7 560.7 L1235.5 594.7 L1287.8 618.3 L1332.3 636.6 L1392.5 657.5 L1444.8 668 L1460.5 686.3 L1431.7 688.9 L1408.2 692.9 L1389.9 686.3 L1361.1 675.9 L1340.2 668 L1321.8 660.2 L1300.9 652.3 L1261.7 636.6 L1240.7 624.8 L1209.3 607.8 L1177.9 589.5 L1157 573.8 L1125.6 552.9 L1109.9 537.2 L1089 513.6 L1062.8 490.1Z" fill="#babdc4"/>
<path d="M1090.3 500.5 L1130.8 529.3 L1172.7 560.7 L1235.5 594.7 L1287.8 618.3 L1332.3 636.6 L1332.3 644.5 L1287.8 627.5 L1235.5 605.2 L1172.7 571.2 L1130.8 539.8 L1090.3 508.4Z" fill="#7f838b" filter="url(#b2)"/>
<path d="M1015.7 422 L1031.4 406.3 L1041.9 440.4 L1086.3 435.1 L1112.5 477 L1091.6 503.2 L1078.5 503.2 L1062.8 490.1 L1044.5 461.3 L1031.4 443Z" fill="#aaaeb6" stroke="#5c6066" stroke-width="1.2" stroke-linejoin="round" stroke-linecap="round"/>
<path d="M1044.5 443 L1060.2 435.1 L1068 466.5 L1047.1 462.6Z" fill="#d5d7db" stroke="#5c6066" stroke-width="1" stroke-linejoin="round" stroke-linecap="round"/>
<path d="M1068 443 L1083.7 437.7 L1086.3 466.5 L1070.6 473.1Z" fill="#8b8f97" stroke="#5c6066" stroke-width="1" stroke-linejoin="round" stroke-linecap="round"/>
<path d="M1062.8 482.2 L1078.5 474.4 L1091.6 487.5 L1078.5 503.2Z" fill="#d5d7db" stroke="#5c6066" stroke-width="1" stroke-linejoin="round" stroke-linecap="round"/>
<path d="M1022.2 395.9 L1035.3 377.6 L1052.3 385.4 L1039.2 409 L1028.8 411.6Z" fill="#5d6168"/>
<path d="M1329.7 637.9 L1355.9 618.3 L1418.7 624.8 L1413.4 668 L1387.3 686.3 L1361.1 675.9 L1358.5 665.4 L1340.2 668 L1334.9 649.7Z" fill="#aeb2b9" stroke="#5c6066" stroke-width="1.2" stroke-linejoin="round" stroke-linecap="round"/>
<path d="M1355.9 618.3 L1418.7 624.8 L1410.8 641.8 L1355.9 634Z" fill="#d7d9dd" stroke="#5c6066" stroke-width="1" stroke-linejoin="round" stroke-linecap="round"/>
<path d="M1366.3 660.2 L1392.5 649.7 L1410.8 657.5 L1392.5 670.6 L1371.6 670.6Z" fill="#55585e"/>
<path d="M1444.8 660.2 L1471 652.3 L1497.2 641.8 L1567.3 628.8 L1565.2 686.3 L1528.6 712.5 L1497.2 707.3 L1471 691.6 L1450.1 681.1Z" fill="#b4b8bf"/>
<path d="M1471 654.9 L1497.2 641.8 L1523.3 673.2 L1536.4 707.3 L1510.2 704.6 L1484.1 686.3Z" fill="#5d6168" filter="url(#b2)"/>
<path d="M1476.2 657.5 L1491.9 649.7 L1520.7 686.3 L1531.2 707.3" fill="none" stroke="#d9dadf" stroke-width="2.5" stroke-linejoin="round" stroke-linecap="round"/>
</g>
<path d="M1147.8 556.8 L1160.9 551.6 L1172.7 571.2 L1170.1 577.7 L1159.6 579 L1151.8 571.2Z" fill="#5d6168" stroke="#4e5157" stroke-width="1.5" stroke-linejoin="round" stroke-linecap="round"/>
<path d="M1226.3 602.6 L1239.4 597.9 L1252.5 618.3 L1249.9 624.8 L1238.1 626.1 L1230.3 618.3Z" fill="#5d6168" stroke="#4e5157" stroke-width="1.5" stroke-linejoin="round" stroke-linecap="round"/>
<path d="M1056.3 333.1 L1096.8 352.7 L1096.3 371 L1075.9 382.8" fill="none" stroke="#5c6066" stroke-width="1.2" stroke-linejoin="round" stroke-linecap="round"/>
<path d="M1096.8 352.7 L1075.9 364.5 L1075.9 382.8" fill="none" stroke="#8a8e96" stroke-width="1" stroke-linejoin="round" stroke-linecap="round"/>
<path d="M1531.2 603.9 L1532.5 620.9 L1567.3 628.8" fill="none" stroke="#8a8e96" stroke-width="1" stroke-linejoin="round" stroke-linecap="round"/>
<path d="M1252.5 390.6 L1273.4 405 L1280 418.1 L1290.4 432.5 L1311.4 450.8 L1340.2 469.1 L1379.4 492.7 L1418.7 511 L1444.8 518.9 L1457.9 513.6 L1489.3 525.4 L1484.1 539.8 L1468.4 555.5 L1450.1 562 L1429.1 551.6 L1434.4 542.4 L1413.4 526.7 L1408.2 529.3 L1397.7 531.9 L1366.3 516.2 L1321.8 490.1 L1314 477 L1308.8 466.5 L1295.7 474.4 L1287.8 471.8 L1272.1 458.7 L1264.3 432.5Z" fill="#b9bdc4" stroke="#4e5157" stroke-width="2.4" stroke-linejoin="round" stroke-linecap="round"/>
<path d="M1311.4 458.7 L1413.4 516.2 L1406.9 529.3 L1397.7 531.4 L1321.8 490.1Z" fill="#dcdde1" stroke="#5c6066" stroke-width="1.2" stroke-linejoin="round" stroke-linecap="round"/>
<path d="M1273.4 405 L1280 418.1 L1290.4 432.5 L1311.4 450.8 L1340.2 469.1 L1379.4 492.7 L1418.7 511 L1444.8 518.9 L1442.2 524.1 L1413.4 516.2 L1376.8 499.2 L1337.5 475.7 L1308.8 457.4 L1286.5 439.1 L1277.4 424.7Z" fill="#4e5157" stroke="#4e5157" stroke-width="1.5" stroke-linejoin="round" stroke-linecap="round"/>
<path d="M1255.1 398.5 L1272.1 409 L1285.2 458.7 L1272.1 458.7 L1264.3 432.5Z" fill="#dedfe3" stroke="#4e5157" stroke-width="1.2" stroke-linejoin="round" stroke-linecap="round"/>
<path d="M1285.2 458.7 L1281.3 424.7 L1295.7 443 L1303.5 466.5 L1295.7 474.4 L1287.8 471.8Z" fill="#8d9199" stroke="#4e5157" stroke-width="1" stroke-linejoin="round" stroke-linecap="round"/>
<path d="M1456.6 516.2 L1487.2 527.2 L1481.5 541.9 L1450.6 560.2 L1430.4 550.3 L1444.8 529.3Z" fill="#dedfe3" stroke="#4e5157" stroke-width="1.2" stroke-linejoin="round" stroke-linecap="round"/>
<ellipse cx="1265.6" cy="415.5" rx="4.4" ry="6.3" fill="#4a4d53" transform="rotate(-15 1265.6 415.5)"/>
<ellipse cx="1277.9" cy="452.1" rx="4.4" ry="6.3" fill="#4a4d53" transform="rotate(-15 1277.9 452.1)"/>
<ellipse cx="1463.7" cy="529.3" rx="5.2" ry="6.8" fill="#4a4d53" transform="rotate(-20 1463.7 529.3)"/>
<ellipse cx="1444.8" cy="548.2" rx="5.2" ry="6.8" fill="#4a4d53" transform="rotate(-20 1444.8 548.2)"/>
<path d="M1471.4 256.9 L1482.7 248.4 L1613.7 323.5 L1620.8 332 L1629.3 366 L1639.9 395 L1612.3 406.4 L1601 400 L1589.7 388.7 L1581.2 378.7 L1507.5 336.9 L1493.3 336.2 L1483.4 332 L1477 323.5 L1473.5 286.7Z" fill="#efe7e9" stroke="#4e5157" stroke-width="2.4" stroke-linejoin="round" stroke-linecap="round"/>
<path d="M1471.4 256.9 L1482.7 248.4 L1613.7 323.5 L1620.8 332 L1608.1 334.1 L1473.5 258.3Z" fill="#f7f4f5" stroke="#4e5157" stroke-width="1.2" stroke-linejoin="round" stroke-linecap="round"/>
<path d="M1608.1 334.1 L1620.8 332 L1629.3 366 L1639.9 395 L1613.4 405.4Z" fill="#f3eff0" stroke="#4e5157" stroke-width="1.6" stroke-linejoin="round" stroke-linecap="round"/>
<path d="M1473.5 258.3 L1608.1 334.1 L1613.4 405.4" fill="none" stroke="#4e5157" stroke-width="2.6" stroke-linejoin="round" stroke-linecap="round"/>
<ellipse cx="1495.4" cy="286.7" rx="5.4" ry="7.4" fill="#4a4d53" transform="rotate(-15 1495.4 286.7)"/>
<ellipse cx="1494.9" cy="285.2" rx="2.4" ry="2.6" fill="#83878f" transform="rotate(-15 1494.9 285.2)"/>
<ellipse cx="1497.9" cy="320.7" rx="5.7" ry="8.5" fill="#4a4d53" transform="rotate(-15 1497.9 320.7)"/>
<ellipse cx="1497.3" cy="319.2" rx="2.5" ry="3" fill="#83878f" transform="rotate(-15 1497.3 319.2)"/>
<ellipse cx="1542.2" cy="332.3" rx="5" ry="6.4" fill="#4a4d53" transform="rotate(-15 1542.2 332.3)"/>
<ellipse cx="1541.6" cy="330.9" rx="2.2" ry="2.2" fill="#83878f" transform="rotate(-15 1541.6 330.9)"/>
<ellipse cx="1585.8" cy="339.1" rx="5.4" ry="7.4" fill="#4a4d53" transform="rotate(-15 1585.8 339.1)"/>
<ellipse cx="1585.3" cy="337.7" rx="2.4" ry="2.6" fill="#83878f" transform="rotate(-15 1585.3 337.7)"/>
<ellipse cx="1588.2" cy="373.8" rx="5.7" ry="8.5" fill="#4a4d53" transform="rotate(-15 1588.2 373.8)"/>
<ellipse cx="1587.7" cy="372.4" rx="2.5" ry="3" fill="#83878f" transform="rotate(-15 1587.7 372.4)"/>
<ellipse cx="1483.1" cy="268" rx="1.6" ry="1.8" fill="#6c7078"/>
<ellipse cx="1487.9" cy="330.9" rx="1.6" ry="1.8" fill="#6c7078"/>
<ellipse cx="1596" cy="332.3" rx="1.6" ry="1.8" fill="#6c7078"/>
<ellipse cx="1600.6" cy="395.7" rx="1.6" ry="1.8" fill="#6c7078"/>
<path d="M1606.6 327.7 L1613.7 323.5 L1620.8 332 L1608.3 334.4Z" fill="#6a6e76"/>
<path d="M1402.7 348.3 L1412.6 341.2 L1519.5 402.8 L1526.6 409.9 L1534.4 439.7 L1542.9 461.3 L1515.4 471.8 L1405.2 407.1 L1402.4 400.7Z" fill="#efe7e9" stroke="#4e5157" stroke-width="2.4" stroke-linejoin="round" stroke-linecap="round"/>
<path d="M1402.7 348.3 L1412.6 341.2 L1519.5 402.8 L1526.6 409.9 L1516.7 414.2 L1404.1 349.7Z" fill="#f7f4f5" stroke="#4e5157" stroke-width="1.2" stroke-linejoin="round" stroke-linecap="round"/>
<path d="M1516.7 414.2 L1526.6 409.9 L1534.4 439.7 L1542.9 461.3 L1515.7 470.8Z" fill="#f3eff0" stroke="#4e5157" stroke-width="1.6" stroke-linejoin="round" stroke-linecap="round"/>
<path d="M1404.1 349.7 L1516.7 414.2 L1515.7 470.8" fill="none" stroke="#4e5157" stroke-width="2.6" stroke-linejoin="round" stroke-linecap="round"/>
<ellipse cx="1421.4" cy="374.5" rx="5.1" ry="7.4" fill="#4a4d53" transform="rotate(-15 1421.4 374.5)"/>
<ellipse cx="1420.8" cy="373.1" rx="2.3" ry="2.6" fill="#83878f" transform="rotate(-15 1420.8 373.1)"/>
<ellipse cx="1421.1" cy="404.2" rx="5.7" ry="8.8" fill="#4a4d53" transform="rotate(-15 1421.1 404.2)"/>
<ellipse cx="1420.5" cy="402.8" rx="2.5" ry="3.1" fill="#83878f" transform="rotate(-15 1420.5 402.8)"/>
<ellipse cx="1459" cy="409.9" rx="4.5" ry="5.9" fill="#4a4d53" transform="rotate(-15 1459 409.9)"/>
<ellipse cx="1458.5" cy="408.5" rx="2" ry="2.1" fill="#83878f" transform="rotate(-15 1458.5 408.5)"/>
<ellipse cx="1496.9" cy="417.7" rx="5.1" ry="7.4" fill="#4a4d53" transform="rotate(-15 1496.9 417.7)"/>
<ellipse cx="1496.3" cy="416.3" rx="2.3" ry="2.6" fill="#83878f" transform="rotate(-15 1496.3 416.3)"/>
<ellipse cx="1496.4" cy="447.4" rx="5.7" ry="8.8" fill="#4a4d53" transform="rotate(-15 1496.4 447.4)"/>
<ellipse cx="1495.9" cy="446" rx="2.5" ry="3.1" fill="#83878f" transform="rotate(-15 1495.9 446)"/>
<ellipse cx="1406.3" cy="354.7" rx="1.6" ry="1.8" fill="#6c7078"/>
<ellipse cx="1511.7" cy="414.9" rx="1.6" ry="1.8" fill="#6c7078"/>
<path d="M1514.6 407.8 L1519.5 402.8 L1526.6 409.9 L1517.1 414.2Z" fill="#6a6e76"/>
<path d="M839 294 C839 294 853.2 299.2 853.2 299.2 C853.2 299.2 845.9 311.6 841.2 318.8 C836.5 326 826.5 339 821.6 347.2 C816.7 355.4 811.5 364.2 808.5 373.3 C805.5 382.4 803.4 395.8 801.9 408.2 C800.4 420.6 799.2 442.5 798.7 456.2 C798.2 469.9 798.5 486.7 798.7 499.8 C798.9 512.9 799.2 532.9 800 543.4 C800.8 553.9 802.7 562.9 804 570 C805.3 577.1 806.1 583.7 808.4 590.8 C810.7 597.9 816.5 611.1 819.5 617.4 C822.5 623.7 826.1 629.8 828.4 632.9 C830.7 636 835 638.4 835 638.4 C835 638.4 832.9 653.2 830.6 661.7 C828.3 670.2 822.5 685 819.5 695 C816.5 705 812.8 718.2 810.6 728.2 C808.4 738.2 806.5 753.3 805.1 761.5 C803.7 769.7 801.2 777.7 801 783 C800.8 788.3 802.5 793.3 804 797 C805.5 800.7 805.8 801.7 811 807.5 C816.2 813.3 829.4 827 838.8 835.4 C848.2 843.8 863.2 855.9 873.7 863.2 C884.2 870.5 897.1 876.9 908.6 884.2 C920.1 891.5 937.9 905 950.4 912 C962.9 919 982.3 926.5 992.2 931.2 C1002.1 935.9 1008.2 940.3 1016.6 943.4 C1025 946.5 1038.1 950.4 1048 952 C1057.9 953.6 1072.3 954.7 1082.8 953.9 C1093.3 953.1 1104.6 950.6 1117.7 946.9 C1130.8 943.2 1154.3 935 1170 929.5 C1185.7 924 1206.6 916.1 1222.3 910.3 C1238 904.5 1274.5 891 1274.5 891 C1274.5 891 1279.7 894.6 1279.7 894.6 C1279.7 894.6 1300 898.5 1313.4 897.7 C1326.8 896.9 1345 894 1369 889 C1393 884 1442.3 870.9 1473.7 864.6 C1505.1 858.3 1546.9 850.8 1578.3 847 C1609.7 843.2 1651.4 840.2 1682.8 839.5 C1714.2 838.8 1768.5 841 1787.4 842.6 C1806.3 844.2 1809 850 1809 850 C1809 850 1787.2 881.3 1773.5 896 C1759.8 910.7 1731.8 934.4 1717.7 948 C1703.6 961.6 1689.9 974 1679.4 986.6 C1668.9 999.2 1658 1017.8 1648 1031.9 C1638 1046 1620.8 1069.2 1613 1080.7 C1605.2 1092.2 1598.5 1102.3 1595.7 1108.6 C1592.9 1114.9 1593 1118.8 1594 1122.5 C1595 1126.2 1597.8 1131.2 1602.7 1133 C1607.7 1134.8 1618.1 1136 1627 1134.7 C1635.9 1133.4 1650.9 1128.5 1662 1124 C1673.1 1119.5 1701.3 1105 1701.3 1105 C1701.3 1105 1701.3 1138 1701.3 1138 C1701.3 1138 1689.7 1161 1682.8 1167.8 C1675.9 1174.6 1665.5 1177.8 1655 1183.5 C1644.5 1189.2 1627.1 1199.5 1613 1206 C1598.9 1212.5 1576 1221.9 1560.8 1227 C1545.6 1232.1 1512 1240 1512 1240 C1512 1240 1486.4 1233 1473 1229 C1459.6 1225 1438.3 1219.2 1422.9 1213.6 C1407.5 1208 1386.3 1198.5 1370.6 1191.4 C1354.9 1184.3 1334 1174.2 1318.3 1166.5 C1302.6 1158.8 1281.7 1147.5 1266 1140.4 C1250.3 1133.4 1229.4 1125.8 1213.7 1119.5 C1198 1113.2 1174 1103.3 1161.4 1098.6 C1148.8 1093.9 1140.6 1091.2 1130 1088 C1119.4 1084.8 1100.2 1080.3 1090.8 1077.6 C1081.4 1074.9 1079.5 1074.3 1067.3 1069.8 C1055.1 1065.3 1027.4 1054.9 1009.8 1047.6 C992.2 1040.3 966.2 1029.4 949.7 1021.4 C933.2 1013.4 911.4 1001 900 994 C888.6 987 885 982.9 873.7 974.8 C862.5 966.7 838.6 949.9 825 940 C811.4 930.1 795.6 919.6 783 908.6 C770.4 897.6 753.5 879.5 741 867 C728.5 854.5 711.4 837.6 699.4 825 C687.4 812.4 670.7 795.6 661 783 C651.3 770.4 635 741 635 741 C635 741 642.6 719.4 647 710 C651.4 700.6 661.6 689 664.6 678.5 C667.6 668 665.9 651 667 640 C668.1 629 669.5 617 672 605 C674.5 593 679.8 573.5 684 560 C688.2 546.5 694.8 528.5 700 515 C705.2 501.5 712.2 483.5 719 470 C725.8 456.5 736.5 438.2 745 425 C753.5 411.8 766.9 395.2 776 382 C785.1 368.8 796.5 350.2 806 337 C815.5 323.8 839 294 839 294Z" fill="url(#g025)" stroke="#4e5157" stroke-width="2.6" stroke-linejoin="round" stroke-linecap="round"/>
<g clip-path="url(#c025)">
<path d="M645 745 C654.2 754.2 680.8 781.2 700 800 C719.2 818.8 738.3 839.3 760 858 C781.7 876.7 806.7 895.5 830 912 C853.3 928.5 875 942.7 900 957 C925 971.3 953.3 986.2 980 998 C1006.7 1009.8 1036.7 1020.7 1060 1028 C1083.3 1035.3 1103.3 1040 1120 1042 C1136.7 1044 1153.3 1040.3 1160 1040" fill="none" stroke="#aeb1b8" stroke-width="64" stroke-linejoin="round" stroke-linecap="round" filter="url(#b14)" opacity="0.85"/>
<path d="M640 735 C650 744.2 680 770.8 700 790 C720 809.2 738.3 830.8 760 850 C781.7 869.2 806.7 888.3 830 905 C853.3 921.7 875 935.5 900 950 C925 964.5 953.3 980 980 992 C1006.7 1004 1036.7 1014.3 1060 1022 C1083.3 1029.7 1104 1035.7 1120 1038 C1136 1040.3 1150 1036.3 1156 1036" fill="none" stroke="#858991" stroke-width="26" stroke-linejoin="round" stroke-linecap="round" filter="url(#b8)" opacity="0.85"/>
<path d="M648 775 C660 787.5 694.7 826.2 720 850 C745.3 873.8 773.3 897.7 800 918 C826.7 938.3 853.3 956.2 880 972 C906.7 987.8 933.3 1000.7 960 1013 C986.7 1025.3 1015 1036.5 1040 1046 C1065 1055.5 1098.3 1066 1110 1070" fill="none" stroke="#d2d4d9" stroke-width="18" stroke-linejoin="round" stroke-linecap="round" filter="url(#b4)"/>
<path d="M1160 1065 C1175 1072.5 1218.3 1095.8 1250 1110 C1281.7 1124.2 1316.7 1137.5 1350 1150 C1383.3 1162.5 1418.3 1176.7 1450 1185 C1481.7 1193.3 1511.7 1200.8 1540 1200 C1568.3 1199.2 1606.7 1183.3 1620 1180" fill="none" stroke="#c3c6cc" stroke-width="70" stroke-linejoin="round" stroke-linecap="round" filter="url(#b14)"/>
<path d="M1190 1105 C1208.3 1112.5 1265 1135 1300 1150 C1335 1165 1366.7 1182 1400 1195 C1433.3 1208 1483.3 1222.5 1500 1228" fill="none" stroke="#d9dbdf" stroke-width="18" stroke-linejoin="round" stroke-linecap="round" filter="url(#b4)"/>
</g>
<path d="M743 440 L737.5 484.3 L730.8 528.7 L725.3 595.2 L720.8 639.6 L715.3 695 L709.8 750.4 L704.2 768.2 L697.6 772.6 L688.7 750.4 L677.6 717.2 L672.1 683.9 L673.2 652.9 L679.8 608.5 L693.1 555.3 L706.4 517.6 L724.2 473.3 L741.9 440Z" fill="#fff"/>
<path d="M695.3 573 L706.4 581.9 L698.7 610.7 L724.2 595.2 L720.8 639.6 L715.3 695 L702 719.4 L686.5 726 L677.6 706.1 L673.2 652.9 L679.8 612.9Z" fill="#a2a6ae" stroke="#5c6066" stroke-width="1.2" stroke-linejoin="round" stroke-linecap="round"/>
<path d="M695.3 657.3 L717.5 666.2 L715.3 695 L702 719.4 L686.5 726 L679.8 701.6Z" fill="#8d9199" stroke="#5c6066" stroke-width="1" stroke-linejoin="round" stroke-linecap="round"/>
<path d="M675.4 686.1 L686.5 683.9 L687.6 692.8 L677.6 697.2Z" fill="#4e5157"/>
<path d="M724.2 487.7 L733 492.1 L729.7 501 L722 496.5Z" fill="#b9bdc4" stroke="#5c6066" stroke-width="1" stroke-linejoin="round" stroke-linecap="round"/>
<path d="M704.2 555.3 L713.1 559.7 L709.8 569.7 L700.9 565.3Z" fill="#b9bdc4" stroke="#5c6066" stroke-width="1" stroke-linejoin="round" stroke-linecap="round"/>
<path d="M700.9 747.1 L706.4 749.3 L700.9 760.4 L695.3 754.9Z" fill="#c6c9cf" stroke="#5c6066" stroke-width="1" stroke-linejoin="round" stroke-linecap="round"/>
<path d="M708.6 701.6 L714.2 698.3 L713.1 709.4Z" fill="#fff" stroke="#5c6066" stroke-width="1" stroke-linejoin="round" stroke-linecap="round"/>
<path d="M733 440 L715.3 473.3 L697.6 517.6 L682 564.2 L671 612.9 L665.4 652.9 L664.3 681.7 L672.1 683.9 L673.2 652.9 L679.8 608.5 L693.1 555.3 L706.4 517.6 L724.2 473.3 L741.9 440Z" fill="#5a5d64" stroke="#4e5157" stroke-width="1.2" stroke-linejoin="round" stroke-linecap="round"/>
<path d="M744.1 440 C743 447.4 739.7 469.5 737.5 484.3 C735.3 499.1 732.8 510.2 730.8 528.7 C728.8 547.2 727 576.7 725.3 595.2 C723.6 613.7 722.5 623 720.8 639.6 C719.1 656.2 717.1 676.5 715.3 695 C713.5 713.5 711.3 737.5 709.8 750.4 C708.3 763.3 707 768.9 706.4 772.6" fill="none" stroke="#5c6066" stroke-width="1.6" stroke-linejoin="round" stroke-linecap="round"/>
<path d="M672.1 683.9 C673 689.5 674.8 706.1 677.6 717.2 C680.4 728.3 685.4 741.2 688.7 750.4 C692 759.6 695 769.6 697.6 772.6 C700.2 775.6 703.1 768.9 704.2 768.2" fill="none" stroke="#4e5157" stroke-width="2.6" stroke-linejoin="round" stroke-linecap="round"/>
<path d="M839 293.8 L853.2 299.2 L841.2 318.8 L828.1 331.9 L817.2 347.2 L810.7 335.2 L825.9 312.3Z" fill="#b9bdc4" stroke="#4e5157" stroke-width="1.4" stroke-linejoin="round" stroke-linecap="round"/>
<path d="M841.2 300.3 L847.7 302.5 L836.8 319.9 L827 329.7 L824.8 325.4 L834.6 312.3Z" fill="#7d8189"/>
<path d="M805.9 335.2 L810.7 335.2 L817.2 347.2 L808.5 373.3 L801.9 408.2 L798.7 456.2 L798.7 499.8 L799.8 543.3 L804.1 576 L812.8 608.7 L807.4 608.7 L798.9 576 L794.5 543.3 L793.4 499.8 L793.4 456.2 L796.7 408.2 L803 373.3 L811.1 349.4Z" fill="#c3c6cc" stroke="#6c7078" stroke-width="1" stroke-linejoin="round" stroke-linecap="round"/>
<path d="M806.3 331.9 C807 332.4 808.9 332.6 810.7 335.2 C812.5 337.8 817.6 340.8 817.2 347.2 C816.8 353.6 811 363.1 808.5 373.3 C806 383.5 803.5 394.4 801.9 408.2 C800.3 422 799.2 440.9 798.7 456.2 C798.2 471.5 798.5 485.3 798.7 499.8 C798.9 514.3 798.9 530.6 799.8 543.3 C800.7 556 801.9 565.1 804.1 576 C806.3 586.9 811.3 603.2 812.8 608.7" fill="none" stroke="#4e5157" stroke-width="3" stroke-linejoin="round" stroke-linecap="round"/>
<path d="M749.6 416.9 C749.6 416.9 734.7 442.4 727.8 456.2 C720.9 470 714.4 485.3 708.2 499.8 C702 514.3 696.2 527.7 690.8 543.3 C685.3 558.9 675.5 593.5 675.5 593.5 C675.5 593.5 682.1 596.7 682.1 596.7 C682.1 596.7 692 563.1 697.3 547.7 C702.6 532.3 707.9 518.5 713.7 504.1 C719.5 489.8 726.6 473.2 732.2 461.6 C737.8 450 747.4 434.4 747.4 434.4 C747.4 434.4 749.6 416.9 749.6 416.9Z" fill="#5a5d64" stroke="#4e5157" stroke-width="1" stroke-linejoin="round" stroke-linecap="round"/>
<path d="M747.4 434.4 L732.2 461.6 L713.7 504.1 L697.3 547.7 L682.1 596.7 L722.4 600 L725.6 576 L732.2 521.6 L738.7 478 L745.3 434.4Z" fill="#fff"/>
<path d="M749.6 416.9 C748.9 419.8 747.1 424.2 745.3 434.4 C743.5 444.6 740.9 463.5 738.7 478 C736.5 492.5 734.4 505.3 732.2 521.6 C730 537.9 727.1 562.6 725.6 576 C724.1 589.4 723.4 597.8 723 602.2" fill="none" stroke="#5c6066" stroke-width="1.6" stroke-linejoin="round" stroke-linecap="round"/>
<path d="M727.8 486.7 L734.4 491 L731.1 500.8 L724.6 496.5Z" fill="#b9bdc4" stroke="#5c6066" stroke-width="1" stroke-linejoin="round" stroke-linecap="round"/>
<path d="M701.7 541.2 L713.7 537.9 L710.4 552.1 L699.5 556.4Z" fill="#aaaeb6" stroke="#5c6066" stroke-width="1" stroke-linejoin="round" stroke-linecap="round"/>
<path d="M704.9 556.4 L712.6 559.7 L709.3 569.5 L701.7 565.1Z" fill="#b9bdc4" stroke="#5c6066" stroke-width="1" stroke-linejoin="round" stroke-linecap="round"/>
<path d="M804 403 L812 398" fill="none" stroke="#4e5157" stroke-width="3.2" stroke-linejoin="round" stroke-linecap="round"/>
<path d="M802 506 L810 501" fill="none" stroke="#4e5157" stroke-width="3.2" stroke-linejoin="round" stroke-linecap="round"/>
<path d="M826 628 L832 622" fill="none" stroke="#4e5157" stroke-width="3" stroke-linejoin="round" stroke-linecap="round"/>
<path d="M835 638.4 C834.3 642.3 833.2 652.3 830.6 661.7 C828 671.1 822.8 683.9 819.5 695 C816.2 706.1 813 717.1 810.6 728.2 C808.2 739.3 806.7 752.4 805.1 761.5 C803.5 770.6 801.2 777.1 801 783 C800.8 788.9 802.3 792.9 804 797 C805.7 801.1 805.2 801.1 811 807.5 C816.8 813.9 828.3 826.1 838.8 835.4 C849.2 844.7 862.1 855.1 873.7 863.2 C885.3 871.3 895.8 876.1 908.6 884.2 C921.4 892.3 936.5 904.2 950.4 912 C964.3 919.8 981.2 926 992.2 931.2 C1003.2 936.4 1012.5 941.4 1016.6 943.4" fill="none" stroke="#4e5157" stroke-width="3.4" stroke-linejoin="round" stroke-linecap="round"/>
<path d="M1155 1034 C1155 1034 1170.9 1017.7 1187.6 1009.7 C1204.2 1001.7 1238.8 990.2 1266 980.9 C1293.2 971.6 1337.8 956.8 1369 948 C1400.2 939.2 1447.5 927.7 1473.7 922 C1499.9 916.3 1526.2 912 1543.4 909.9 C1560.7 907.8 1578.8 907 1588.7 908 C1598.6 909 1605.7 913 1609.6 916.9 C1613.5 920.8 1615.4 927.2 1614.9 934 C1614.4 940.8 1610.5 952.5 1606 962 C1601.5 971.5 1591.8 986.5 1585 997 C1578.2 1007.5 1568.6 1022.5 1560.8 1031.9 C1553 1041.3 1541.9 1051.9 1533 1059.7 C1524.1 1067.5 1511.5 1078.6 1501.6 1084 C1491.7 1089.4 1478.7 1093.5 1466.7 1096 C1454.7 1098.5 1436.1 1100.7 1421.4 1101 C1406.7 1101.3 1384.5 1099.3 1369 1098 C1353.5 1096.7 1337.7 1095.1 1318.3 1092 C1298.9 1088.9 1261.1 1083.1 1239.9 1077.6 C1218.7 1072 1189.7 1061.5 1177 1055 C1164.3 1048.5 1155 1034 1155 1034Z" fill="#fff" stroke="#4e5157" stroke-width="4.6" stroke-linejoin="round" stroke-linecap="round"/>
<path d="M1175 1036 C1175 1036 1185.8 1022.9 1200 1016 C1214.2 1009.1 1244.7 998.7 1270 990 C1295.3 981.3 1338.4 966.7 1369 958 C1399.6 949.3 1447.5 937.9 1473.7 932 C1499.9 926.1 1526.9 921.2 1543.4 919 C1559.9 916.8 1575.5 916.2 1584 917 C1592.5 917.8 1597 921 1600 924 C1603 927 1604.6 931.6 1604 937 C1603.4 942.4 1600.2 951.6 1596 960 C1591.8 968.4 1582.6 983.1 1576 993 C1569.4 1002.9 1559.5 1017.1 1552 1026 C1544.5 1034.8 1534.2 1044.7 1526 1052 C1517.8 1059.3 1506.3 1069.8 1497 1075 C1487.7 1080.2 1475.3 1084.6 1464 1087 C1452.7 1089.4 1435.7 1090.8 1421.4 1091 C1407.2 1091.2 1384.5 1089.3 1369 1088 C1353.5 1086.7 1336.9 1085 1318.3 1082 C1299.7 1079 1263.9 1072.8 1245 1068 C1226.1 1063.2 1202.5 1054.8 1192 1050 C1181.5 1045.2 1175 1036 1175 1036Z" fill="none" stroke="#9a9ea6" stroke-width="1.2" stroke-linejoin="round" stroke-linecap="round"/>
<path d="M1240 1062 L1246 1055 L1260 1056 L1256 1065Z" fill="#b9bdc4" stroke="#5c6066" stroke-width="1" stroke-linejoin="round" stroke-linecap="round"/>
<path d="M1369 1088 L1375 1081 L1389 1082 L1385 1091Z" fill="#b9bdc4" stroke="#5c6066" stroke-width="1" stroke-linejoin="round" stroke-linecap="round"/>
<path d="M1721 847 L1787 843.6 L1772 880 L1738.6 934Z" fill="#d0d4d9"/>
<path d="M1787.4 842.6 C1782.8 848.8 1771.2 866.3 1760 880 C1748.8 893.7 1731.7 911.7 1720 925 C1708.3 938.3 1698.7 949.2 1690 960 C1681.3 970.8 1671.7 985 1668 990" fill="none" stroke="#4e5157" stroke-width="2.6" stroke-linejoin="round" stroke-linecap="round"/>
<path d="M1774 893 L1738 934 L1700 962" fill="none" stroke="#5c6066" stroke-width="1.4" stroke-linejoin="round" stroke-linecap="round"/>
<path d="M1710 948 L1722 946 L1720 958 L1731 955 L1728 965 L1700 980 L1680 985Z" fill="#a2a6ae" stroke="#4e5157" stroke-width="1.4" stroke-linejoin="round" stroke-linecap="round"/>
<path d="M1662 1124 L1701.3 1105 L1701.3 1138 L1690 1150" fill="none" stroke="#5c6066" stroke-width="1.2" stroke-linejoin="round" stroke-linecap="round"/>
<ellipse cx="1077.3" cy="1028.5" rx="5.5" ry="4.5" fill="#fff" stroke="#4e5157" stroke-width="1.4" transform="rotate(30 1077.3 1028.5)"/>
<ellipse cx="1412.4" cy="1121.3" rx="9" ry="7" fill="#9a9ea6" stroke="#4e5157" stroke-width="1.6"/>
<ellipse cx="1413" cy="1122" rx="4" ry="3" fill="#c9ccd1" stroke="#4e5157" stroke-width="1"/>
<ellipse cx="738" cy="832" rx="3.5" ry="5" fill="#6a4a50" transform="rotate(20 738 832)"/>
<path d="M458.1 1130 C458.1 1130 480.4 1141.2 488.6 1145.3 C496.8 1149.4 504.8 1152.5 513 1157.5 C521.2 1162.5 534.4 1172.9 543.5 1178.8 C552.6 1184.7 564.9 1192.5 574 1197.1 C583.1 1201.7 593.1 1204 604.5 1209.3 C615.9 1214.6 635.2 1225.8 650.3 1232.2 C665.4 1238.6 689.2 1245.8 705.2 1252 C721.2 1258.2 748.3 1269.3 757 1273.4 C765.7 1277.5 754 1275.8 763.1 1279.5 C772.2 1283.2 800.6 1293.2 818 1297.8 C835.4 1302.4 868.4 1308.3 879 1310 C889.6 1311.7 888.4 1309.2 888.4 1309.2 C888.4 1309.2 905.8 1309.2 905.8 1309.2 C905.8 1309.2 916.3 1302.2 916.3 1302.2 C916.3 1302.2 968.6 1288.2 968.6 1288.2 C968.6 1288.2 982.5 1290 982.5 1290 C982.5 1290 1003.4 1309.2 1003.4 1309.2 C1003.4 1309.2 1034.8 1358 1034.8 1358 C1034.8 1358 1055.7 1378.9 1055.7 1378.9 C1055.7 1378.9 1080.1 1389.3 1080.1 1389.3 C1080.1 1389.3 1097.6 1382.4 1097.6 1382.4 C1097.6 1382.4 1108 1403.3 1108 1403.3 C1108 1403.3 1125.4 1406.8 1125.4 1406.8 C1125.4 1406.8 1142.9 1396.3 1142.9 1396.3 C1142.9 1396.3 1163.8 1392.8 1163.8 1392.8 C1163.8 1392.8 1219.6 1371.9 1219.6 1371.9 C1219.6 1371.9 1226.5 1356.2 1226.5 1356.2 C1226.5 1356.2 1247.5 1356.2 1247.5 1356.2 C1247.5 1356.2 1250.9 1364.9 1250.9 1364.9 C1250.9 1364.9 1278.8 1385.8 1278.8 1385.8 C1278.8 1385.8 1294.5 1378.9 1294.5 1378.9 C1294.5 1378.9 1296.3 1368.4 1296.3 1368.4 C1296.3 1368.4 1313.7 1364.9 1313.7 1364.9 C1313.7 1364.9 1345.1 1351 1345.1 1351 C1345.1 1351 1352 1338.8 1352 1338.8 C1352 1338.8 1369.5 1340.5 1369.5 1340.5 C1369.5 1340.5 1374.7 1403.3 1374.7 1403.3 C1374.7 1403.3 1348.5 1420.4 1334.6 1427.7 C1320.7 1435 1300.6 1444.8 1282.3 1452.1 C1264 1459.4 1233.5 1470.8 1212.6 1476.5 C1191.7 1482.2 1163.8 1488 1142.9 1490.4 C1122 1492.8 1094.1 1493.2 1073.2 1492.2 C1052.3 1491.2 1024.3 1486.8 1003.4 1483.4 C982.5 1480 954.6 1473.7 933.7 1469.5 C912.8 1465.3 879.5 1458.5 864 1455.6 C848.5 1452.7 838.9 1453.4 830.2 1450.3 C821.5 1447.2 812.2 1439.3 805.8 1435 C799.4 1430.7 794.8 1424 787.5 1421.3 C780.2 1418.6 768.4 1419.2 757 1416.7 C745.6 1414.2 727.3 1409.5 711.3 1404.5 C695.3 1399.5 668.6 1390.5 650.3 1383.2 C632 1375.9 607.6 1364.9 589.3 1355.7 C571 1346.5 545.2 1332.3 528.3 1322.2 C511.4 1312.1 491 1298.7 476.4 1288.6 C461.8 1278.5 443.5 1265.6 430.7 1255.1 C417.9 1244.6 401.5 1229 391 1218.5 C380.5 1208 368.7 1194.7 360.5 1184.9 C352.3 1175.1 341.5 1157.2 336.1 1152.9 C330.7 1148.6 324.2 1156.4 324.2 1156.4 C324.2 1156.4 314.5 1151.1 310.3 1146.7 C306.1 1142.3 301.1 1135.2 296.5 1127.3 C291.9 1119.4 284.9 1104.9 279.9 1094.1 C274.9 1083.3 267.4 1066.5 263.2 1055.3 C259 1044.1 254.2 1029.3 252.2 1019.3 C250.2 1009.3 248.9 997.1 249.9 988.8 C250.9 980.5 255 971 259.1 963.9 C263.2 956.8 271.7 948.8 277.1 941.7 C282.5 934.6 295.1 916.8 295.1 916.8 C295.1 916.8 301.5 950.1 301.5 950.1 C301.5 950.1 407.3 1071.9 407.3 1071.9 C407.3 1071.9 423.9 1083 423.9 1083 C423.9 1083 458.1 1130 458.1 1130Z" fill="url(#g023)" stroke="#4e5157" stroke-width="2" stroke-linejoin="round" stroke-linecap="round"/>
<g clip-path="url(#c023)">
<path d="M464.2 1142.2 C469.3 1145.2 484.5 1154.4 494.7 1160.5 C504.9 1166.6 514 1171.9 525.2 1178.8 C536.4 1185.7 548.6 1194.6 561.8 1201.7 C575 1208.8 589.8 1214.6 604.5 1221.5 C619.2 1228.4 633.5 1235.8 650.3 1242.9 C667.1 1250 687.4 1257.4 705.2 1264.2 C723 1271 748.4 1280.7 757 1284" fill="none" stroke="#c3c6cb" stroke-width="20" stroke-linejoin="round" stroke-linecap="round" filter="url(#b4)"/>
<path d="M452 1142.2 C454 1146.8 458.1 1158.5 464.2 1169.7 C470.3 1180.9 478.4 1197.1 488.6 1209.3 C498.8 1221.5 511 1233.2 525.2 1242.9 C539.4 1252.6 555.7 1259.2 574 1267.3 C592.3 1275.4 614.7 1284.3 635 1291.7 C655.3 1299.1 676.7 1305.4 696 1311.5 C715.3 1317.6 741.8 1325.5 750.9 1328.3" fill="none" stroke="#676b73" stroke-width="13" stroke-linejoin="round" stroke-linecap="round" filter="url(#b4)"/>
<path d="M445.9 1148.3 C448.4 1154.4 454.1 1172.7 461.2 1184.9 C468.3 1197.1 477.4 1209.8 488.6 1221.5 C499.8 1233.2 513 1245.4 528.3 1255.1 C543.5 1264.8 561.3 1271.4 580.1 1279.5 C598.9 1287.6 620.8 1296.5 641.1 1303.9 C661.4 1311.3 683.8 1317.6 702.1 1323.7 C720.4 1329.8 742.8 1337.7 750.9 1340.5" fill="none" stroke="#8a8e96" stroke-width="30" stroke-linejoin="round" stroke-linecap="round" filter="url(#b8)" opacity="0.8"/>
<path d="M406.3 1175.8 C410.4 1183.4 419 1206.8 430.7 1221.5 C442.4 1236.2 460.1 1251 476.4 1264.2 C492.7 1277.4 519.6 1294.7 528.3 1300.8" fill="none" stroke="#8d9199" stroke-width="40" stroke-linejoin="round" stroke-linecap="round" filter="url(#b14)" opacity="0.7"/>
<path d="M366.6 1191 C373.7 1199.1 394.1 1225 409.3 1239.8 C424.6 1254.5 440.8 1266.8 458.1 1279.5 C475.4 1292.2 493.7 1304.4 513 1316.1 C532.3 1327.8 553.7 1339.4 574 1349.6 C594.3 1359.8 614.7 1369 635 1377.1 C655.3 1385.2 676.7 1392.3 696 1398.4 C715.3 1404.5 741.8 1411.2 750.9 1413.7" fill="none" stroke="#d4d6da" stroke-width="44" stroke-linejoin="round" stroke-linecap="round" filter="url(#b8)"/>
<path d="M766.4 1298.7 L742 1323.1 L752.5 1364.9 L783.8 1413.7 L815.2 1441.6 L864 1455.6 L933.7 1469.5 L1003.4 1483.4 L1073.2 1492.2 L1142.9 1490.4 L1212.6 1476.5 L1282.3 1452.1 L1334.6 1427.7 L1374.7 1403.3 L1369.5 1340.5 L1278.8 1385.8 L1125.4 1406.8 L1055.7 1378.9 L1003.4 1309.2 L968.6 1288.2 L898.9 1309.2Z" fill="url(#g023r)"/>
<path d="M773.4 1305.7 L898.9 1323.1 L968.6 1364.9 L1041.8 1392.8 L1031.3 1413.7 L996.5 1431.2 L933.7 1432.9 L829.2 1424.2 L794.3 1396.3 L759.4 1344Z" fill="#bfc2c8" filter="url(#b8)"/>
<path d="M815.2 1309.2 L898.9 1323.1 L968.6 1358 L1003.4 1378.9 L982.5 1389.3 L933.7 1375.4 L864 1344Z" fill="#969aa2" filter="url(#b8)"/>
<path d="M905.8 1326.6 L968.6 1359.7 L1000 1378.9 L982.5 1384.1 L933.7 1361.4Z" fill="#7d8189" filter="url(#b4)"/>
<path d="M829.2 1425.9 C837.9 1426.8 864 1429.9 881.4 1431.2 C898.8 1432.5 916.3 1433.8 933.7 1433.9 C951.1 1434 971.5 1433.8 986 1431.9 C1000.5 1430 1011.9 1426.6 1020.9 1422.4 C1029.9 1418.2 1036 1411.6 1040 1406.8 C1044 1402 1043.8 1395.7 1044.6 1393.5" fill="none" stroke="#4e5157" stroke-width="4.2" stroke-linejoin="round" stroke-linecap="round"/>
<path d="M829.2 1422.4 C837.9 1422.7 864 1423.6 881.4 1424.2 C898.8 1424.8 916.3 1426.2 933.7 1425.9 C951.1 1425.6 971.5 1424.7 986 1422.4 C1000.5 1420.1 1015.1 1413.7 1020.9 1412" fill="none" stroke="#7d8189" stroke-width="10" stroke-linejoin="round" stroke-linecap="round" filter="url(#b4)" opacity="0.8"/>
<path d="M1279.9 1389.3 C1279.3 1387 1265.6 1398 1257.9 1405 C1250.2 1412 1241 1422.2 1233.5 1431.2 C1226 1440.2 1218.7 1452.3 1212.6 1459 C1206.5 1465.7 1194.9 1469.7 1196.9 1471.2 C1198.9 1472.7 1217 1472.2 1224.8 1467.8 C1232.6 1463.4 1237.9 1453.2 1244 1445.1 C1250.1 1437 1255.4 1428.3 1261.4 1419 C1267.4 1409.7 1280.5 1391.6 1279.9 1389.3Z" fill="#4e5157" filter="url(#b2)"/>
<path d="M1198.6 1466 C1202.1 1463.1 1212.6 1454.4 1219.6 1448.6 C1226.6 1442.8 1237 1434.1 1240.5 1431.2" fill="none" stroke="#6a6e76" stroke-width="14" stroke-linejoin="round" stroke-linecap="round" filter="url(#b4)" opacity="0.8"/>
<path d="M1055.7 1378.9 L1125.4 1406.8 L1163.8 1392.8 L1219.6 1371.9 L1250.9 1364.9 L1278.8 1385.8 L1247.5 1413.7 L1212.6 1434.6 L1163.8 1434.6 L1108 1413.7Z" fill="#c5c8cd" filter="url(#b4)"/>
</g>
<path d="M773.4 1300.4 C769.9 1301.9 757.7 1304.8 752.5 1309.2 C747.3 1313.6 742.6 1318.5 742 1326.6 C741.4 1334.7 744.4 1346.4 749 1358 C753.6 1369.6 762.4 1384.7 769.9 1396.3 C777.4 1407.9 786.2 1419.8 794.3 1427.7 C802.4 1435.6 814.6 1440.8 818.7 1443.4" fill="none" stroke="#4e5157" stroke-width="2.6" stroke-linejoin="round" stroke-linecap="round"/>
<path d="M777.6 1305.7 C774.3 1307 762.6 1309.5 757.7 1313.3 C752.8 1317.1 748.7 1320.8 748.3 1328.3 C747.9 1335.8 750.8 1347 755.3 1358 C759.8 1369 767.9 1383.4 775.1 1394.6 C782.3 1405.8 794.6 1419.9 798.5 1424.9" fill="none" stroke="#8a8e96" stroke-width="1" stroke-linejoin="round" stroke-linecap="round"/>
<path d="M336.1 1152.9 C340.2 1158.2 351.4 1174 360.5 1184.9 C369.6 1195.8 379.3 1206.8 391 1218.5 C402.7 1230.2 416.5 1243.4 430.7 1255.1 C444.9 1266.8 460.1 1277.4 476.4 1288.6 C492.7 1299.8 509.5 1311 528.3 1322.2 C547.1 1333.4 569 1345.5 589.3 1355.7 C609.6 1365.9 630 1375.1 650.3 1383.2 C670.6 1391.3 693.5 1398.9 711.3 1404.5 C729.1 1410.1 744.3 1413.9 757 1416.7 C769.7 1419.5 779.4 1418.2 787.5 1421.3 C795.6 1424.3 798.7 1430.2 805.8 1435 C812.9 1439.8 820.5 1446.9 830.2 1450.3 C839.9 1453.7 846.8 1452.4 864 1455.6 C881.2 1458.8 910.5 1464.9 933.7 1469.5 C956.9 1474.1 980.1 1479.6 1003.4 1483.4 C1026.7 1487.2 1050 1491 1073.2 1492.2 C1096.5 1493.4 1119.7 1493 1142.9 1490.4 C1166.1 1487.8 1189.4 1482.9 1212.6 1476.5 C1235.8 1470.1 1262 1460.2 1282.3 1452.1 C1302.6 1444 1319.2 1435.8 1334.6 1427.7 C1350 1419.6 1368 1407.4 1374.7 1403.3" fill="none" stroke="#4e5157" stroke-width="4.2" stroke-linejoin="round" stroke-linecap="round"/>
<path d="M905.8 1309.2 L916.3 1302.2 L968.6 1288.2 L982.5 1290 L1003.4 1309.2 L1034.8 1358 L1055.7 1378.9 L1031.3 1364.9 L1003.4 1337 L979 1323.1 L961.6 1312.6Z" fill="#b4b8bf" stroke="#5c6066" stroke-width="1.2" stroke-linejoin="round" stroke-linecap="round"/>
<path d="M968.6 1288.2 L982.5 1290 L1003.4 1309.2 L1034.8 1358 L1024.4 1359.7 L996.5 1316.1 L979 1300.4Z" fill="#7d8189"/>
<path d="M979 1323.1 L1003.4 1337 L1013.9 1354.5 L1006.9 1375.4 L982.5 1389.3 L965.1 1375.4 L963.4 1337Z" fill="#9da1a9" stroke="#5c6066" stroke-width="1" stroke-linejoin="round" stroke-linecap="round"/>
<path d="M759.4 1277.8 L794.3 1277.8 L846.6 1291.7 L888.4 1309.2 L968.6 1344 L1038.3 1375.4 L1108 1403.3 L1184.7 1427.7 L1156.8 1434.6 L1101 1410.2 L1031.3 1382.4 L961.6 1351 L884.9 1316.1 L843.1 1298.7 L794.3 1284.7 L762.9 1283Z" fill="#f4f1f2" stroke="#5c6066" stroke-width="1.2" stroke-linejoin="round" stroke-linecap="round"/>
<path d="M422.5 1084.1 C428.6 1092.2 447.9 1122 459.1 1132.6 C470.3 1143.2 480.5 1143.3 489.6 1147.9 C498.8 1152.5 504.9 1154.5 514 1160.1 C523.1 1165.7 534.3 1174.8 544.5 1181.4 C554.7 1188 564.8 1194.6 575 1199.7 C585.2 1204.8 592.8 1206.1 605.5 1211.9 C618.2 1217.8 634.5 1227.7 651.3 1234.8 C668.1 1241.9 688.4 1247.7 706.2 1254.6 C724 1261.5 749.4 1272.4 758 1276" fill="none" stroke="#4e5157" stroke-width="6.4" stroke-linejoin="round" stroke-linecap="round"/>
<path d="M422.5 1084.1 C428.6 1092.2 447.9 1122 459.1 1132.6 C470.3 1143.2 480.5 1143.3 489.6 1147.9 C498.8 1152.5 504.9 1154.5 514 1160.1 C523.1 1165.7 534.3 1174.8 544.5 1181.4 C554.7 1188 564.8 1194.6 575 1199.7 C585.2 1204.8 592.8 1206.1 605.5 1211.9 C618.2 1217.8 634.5 1227.7 651.3 1234.8 C668.1 1241.9 688.4 1247.7 706.2 1254.6 C724 1261.5 749.4 1272.4 758 1276" fill="none" stroke="#f3f2f4" stroke-width="3.6" stroke-linejoin="round" stroke-linecap="round"/>
<path d="M510.6 1163.4 L514.1 1156.1 L520.5 1155 L525.6 1162 L526 1167.1Z" fill="#d3d5da" stroke="#4e5157" stroke-width="1.4" stroke-linejoin="round" stroke-linecap="round"/>
<ellipse cx="518.5" cy="1160.5" rx="2.4" ry="2.4" fill="#f2f2f4" stroke="#4e5157" stroke-width="1.1"/>
<path d="M596 1212.8 L599.5 1205.5 L605.9 1204.4 L611 1211.4 L611.4 1216.5Z" fill="#d3d5da" stroke="#4e5157" stroke-width="1.4" stroke-linejoin="round" stroke-linecap="round"/>
<ellipse cx="603.9" cy="1209.9" rx="2.4" ry="2.4" fill="#f2f2f4" stroke="#4e5157" stroke-width="1.1"/>
<path d="M739.3 1267.7 L742.9 1260.4 L749.2 1259.3 L754.4 1266.3 L754.8 1271.4Z" fill="#d3d5da" stroke="#4e5157" stroke-width="1.4" stroke-linejoin="round" stroke-linecap="round"/>
<ellipse cx="747.3" cy="1264.8" rx="2.4" ry="2.4" fill="#f2f2f4" stroke="#4e5157" stroke-width="1.1"/>
<path d="M845.2 1296.1 L848.7 1288.8 L855.1 1287.7 L860.2 1294.6 L860.6 1299.8Z" fill="#d3d5da" stroke="#4e5157" stroke-width="1.4" stroke-linejoin="round" stroke-linecap="round"/>
<ellipse cx="853.1" cy="1293.2" rx="2.4" ry="2.4" fill="#f2f2f4" stroke="#4e5157" stroke-width="1.1"/>
<path d="M533.7 1170.6 L538.9 1162.6 L545 1164.5 L549 1174.8Z" fill="#c6c9cf" stroke="#4e5157" stroke-width="1.3" stroke-linejoin="round" stroke-linecap="round"/>
<path d="M573.4 1195 L578.6 1187 L584.7 1188.9 L588.6 1199.2Z" fill="#c6c9cf" stroke="#4e5157" stroke-width="1.3" stroke-linejoin="round" stroke-linecap="round"/>
<path d="M786.9 1281.9 L792.1 1274 L798.2 1275.8 L802.2 1286.2Z" fill="#c6c9cf" stroke="#4e5157" stroke-width="1.3" stroke-linejoin="round" stroke-linecap="round"/>
<path d="M891.2 1308.7 L896.4 1300.8 L902.5 1302.6 L906.5 1313Z" fill="#c6c9cf" stroke="#4e5157" stroke-width="1.3" stroke-linejoin="round" stroke-linecap="round"/>
<path d="M1088.5 1392.4 L1092.3 1384.7 L1099 1383.6 L1104.4 1390.9 L1104.8 1396.2Z" fill="#d3d5da" stroke="#4e5157" stroke-width="1.4" stroke-linejoin="round" stroke-linecap="round"/>
<ellipse cx="1096.9" cy="1389.3" rx="2.8" ry="2.8" fill="#f2f2f4" stroke="#4e5157" stroke-width="1.1"/>
<path d="M1145 1397.6 L1148.7 1390 L1155.4 1388.8 L1160.9 1396.1 L1161.3 1401.5Z" fill="#d3d5da" stroke="#4e5157" stroke-width="1.4" stroke-linejoin="round" stroke-linecap="round"/>
<ellipse cx="1153.3" cy="1394.6" rx="2.8" ry="2.8" fill="#f2f2f4" stroke="#4e5157" stroke-width="1.1"/>
<path d="M1219.9 1363.8 L1223.7 1356.1 L1230.4 1355 L1235.8 1362.3 L1236.2 1367.6Z" fill="#d3d5da" stroke="#4e5157" stroke-width="1.4" stroke-linejoin="round" stroke-linecap="round"/>
<ellipse cx="1228.3" cy="1360.7" rx="2.8" ry="2.8" fill="#f2f2f4" stroke="#4e5157" stroke-width="1.1"/>
<path d="M1307.1 1368 L1310.8 1360.3 L1317.5 1359.2 L1323 1366.5 L1323.4 1371.8Z" fill="#d3d5da" stroke="#4e5157" stroke-width="1.4" stroke-linejoin="round" stroke-linecap="round"/>
<ellipse cx="1315.4" cy="1364.9" rx="2.8" ry="2.8" fill="#f2f2f4" stroke="#4e5157" stroke-width="1.1"/>
<ellipse cx="1215.4" cy="1413.7" rx="3.1" ry="3.1" fill="#e8e8ea" stroke="#4e5157" stroke-width="1.1"/>
<ellipse cx="993" cy="1338.8" rx="2.4" ry="2.4" fill="#e8e8ea" stroke="#6c7078" stroke-width="1"/>
<path d="M564.9 1220 C568.7 1219.5 579.1 1227.4 583.2 1230.7 C587.3 1234 589 1236.5 589.3 1239.8 C589.5 1243.1 587.2 1248.2 584.7 1250.5 C582.2 1252.8 577.3 1254 574 1253.5 C570.7 1253 567.2 1250.7 564.9 1247.4 C562.6 1244.1 560.3 1238.3 560.3 1233.7 C560.3 1229.1 561.1 1220.5 564.9 1220Z" fill="#4e5157" stroke="#4e5157" stroke-width="1.4" stroke-linejoin="round" stroke-linecap="round"/>
<path d="M566.4 1230.7 L578.6 1235.2 L580.1 1239.8" fill="none" stroke="#f2f2f4" stroke-width="2.6" stroke-linejoin="round" stroke-linecap="round"/>
<path d="M1296.3 1368.4 L1313.7 1364.9 L1345.1 1351 L1352 1338.8 L1369.5 1340.5 L1364.2 1345.8 L1352 1352.7 L1317.2 1375.4 L1296.3 1378.9Z" fill="#b4b8bf" stroke="#4e5157" stroke-width="1.3" stroke-linejoin="round" stroke-linecap="round"/>
<path d="M295.1 916.8 C295.1 916.8 282.5 934.6 277.1 941.7 C271.7 948.8 263.2 956.8 259.1 963.9 C255 971 250.9 980.5 249.9 988.8 C248.9 997.1 250.2 1009.3 252.2 1019.3 C254.2 1029.3 259 1044.1 263.2 1055.3 C267.4 1066.5 274.9 1083.3 279.9 1094.1 C284.9 1104.9 291.9 1119.4 296.5 1127.3 C301.1 1135.2 306.1 1142.3 310.3 1146.7 C314.5 1151.1 319.6 1155.4 324.2 1156.4 C328.8 1157.5 336.2 1155.2 340.8 1153.7 C345.4 1152.2 348.1 1150.7 354.7 1146.7 C361.3 1142.7 378.1 1134.8 385.1 1127.3 C392.2 1119.8 398.4 1104.8 401.7 1096.9 C405 1089 407.3 1074.7 407.3 1074.7 C407.3 1074.7 301.5 950.1 301.5 950.1 C301.5 950.1 295.1 916.8 295.1 916.8Z" fill="#c9ccd1" stroke="#4e5157" stroke-width="2" stroke-linejoin="round" stroke-linecap="round"/>
<path d="M271.6 963.9 C269.8 968.5 262 981.5 260.5 991.6 C259 1001.8 260.4 1012.8 262.7 1024.8 C265 1036.8 269.6 1050.7 274.3 1063.6 C279 1076.5 285.3 1090.9 290.9 1102.4 C296.4 1114 304.8 1127.8 307.6 1132.9" fill="none" stroke="#e6e6e9" stroke-width="12" stroke-linejoin="round" stroke-linecap="round" filter="url(#b4)"/>
<path d="M302 952.8 C302 952.8 407.3 1071.9 407.3 1071.9 C407.3 1071.9 400.4 1089.8 396.2 1096.9 C392 1104 386.7 1113.6 379.6 1119 C372.5 1124.4 357.8 1129.6 349.1 1132.9 C340.4 1136.2 327.2 1145.8 321.4 1141.2 C315.6 1136.6 313.4 1116.5 310.3 1102.4 C307.2 1088.3 302.5 1063.6 300.6 1047 C298.7 1030.4 297.7 1005.7 297.9 991.6 C298.1 977.5 302 952.8 302 952.8Z" fill="url(#gduct)" stroke="#4e5157" stroke-width="2.4" stroke-linejoin="round" stroke-linecap="round"/>
<path d="M313.1 980.5 C318.6 987 338.5 1009.1 346.3 1019.3 C354.1 1029.5 359.7 1034.6 360.2 1041.5 C360.7 1048.4 353.2 1051.7 349.1 1060.9 C345 1070.1 339.5 1084.9 335.3 1096.9 C331.1 1108.9 326.1 1126.9 324.2 1132.9" fill="none" stroke="#5a5e65" stroke-width="5" stroke-linejoin="round" stroke-linecap="round" filter="url(#b2)" opacity="0.8"/>
<path d="M321.4 1141.2 C326 1139.8 339.4 1136.6 349.1 1132.9 C358.8 1129.2 371.8 1125 379.6 1119 C387.5 1113 391.6 1104.3 396.2 1096.9 C400.8 1089.5 405.4 1078.4 407.3 1074.7" fill="none" stroke="#efecee" stroke-width="5" stroke-linejoin="round" stroke-linecap="round"/>
<path d="M324.2 1156.4 C329.3 1154.8 344.5 1151.6 354.7 1146.7 C364.9 1141.8 377.3 1135.6 385.1 1127.3 C392.9 1119 398 1105.7 401.7 1096.9 C405.4 1088.1 406.4 1078.4 407.3 1074.7" fill="none" stroke="#4e5157" stroke-width="3.6" stroke-linejoin="round" stroke-linecap="round"/>
<path d="M408.7 787.2 C408.7 787.2 392.3 800.5 385.1 806 C377.9 811.5 362.8 821.5 354.7 828.2 C346.6 834.9 330.5 848.2 324.2 855.9 C317.9 863.6 311.5 878.2 307.6 886.3 C303.7 894.4 295.1 916.8 295.1 916.8 C295.1 916.8 301.5 950.1 301.5 950.1 C301.5 950.1 313.1 947.3 313.1 947.3 C313.1 947.3 334.1 940.6 340.8 936.2 C347.5 931.8 357.1 920.3 363 914 C368.9 907.7 377.7 896.1 385.1 889.1 C392.5 882.1 412.5 869.5 418.4 861.4 C424.3 853.3 428.3 836 429.4 828.2 C430.5 820.4 429.5 808.7 426.7 803.2 C423.9 797.7 408.7 787.2 408.7 787.2Z" fill="url(#gfin)" stroke="#4e5157" stroke-width="2" stroke-linejoin="round" stroke-linecap="round"/>
<path d="M313.1 903 C318.6 898.4 334.3 885.9 346.3 875.3 C358.3 864.7 374.9 849.9 385.1 839.3 C395.3 828.7 403.6 816.2 407.3 811.6" fill="none" stroke="#9ea2aa" stroke-width="10" stroke-linejoin="round" stroke-linecap="round" filter="url(#b4)"/>
<path d="M408.7 787.2 L426.7 803.2 L429.4 828.2 L440.5 853.1 L454.4 869.7 L457.1 891.9 L484.8 919.6 L495.9 921 L497.3 930.7 L484.8 936.2 L446.1 947.3 L432.2 961.1 L435 969.4 L415.6 976.4 L396.2 973.6 L387.9 975 L381 980.5 L382.4 999.9 L396.2 1011 L407.3 1033.2 L410.1 1071.9 L313.1 947.3 L340.8 936.2 L363 914 L385.1 889.1 L418.4 861.4Z" fill="#a2a6ae" stroke="#4e5157" stroke-width="1.8" stroke-linejoin="round" stroke-linecap="round"/>
<path d="M418.4 861.4 L440.5 853.1 L454.4 869.7 L457.1 891.9 L484.8 919.6 L497.3 930.7 L484.8 936.2 L446.1 947.3 L432.2 961.1 L396.2 936.2 L385.1 889.1Z" fill="#b9bcc3" stroke="#5c6066" stroke-width="1" stroke-linejoin="round" stroke-linecap="round"/>
<path d="M418.4 850.3 L451.6 867 L385.1 891.9 L363 914" fill="none" stroke="#4e5157" stroke-width="3" stroke-linejoin="round" stroke-linecap="round"/>
<path d="M340.8 936.2 L363 941.7 L385.1 963.9 L381 980.5 L382.4 999.9 L396.2 1011 L407.3 1033.2 L410.1 1071.9 L313.1 947.3Z" fill="#c3c6cb" stroke="#5c6066" stroke-width="1" stroke-linejoin="round" stroke-linecap="round"/>
<ellipse cx="412.3" cy="844.2" rx="3" ry="2.5" fill="#e8e8ea" stroke="#4e5157" stroke-width="1.1"/>
<ellipse cx="356" cy="917.4" rx="3" ry="2.5" fill="#e8e8ea" stroke="#4e5157" stroke-width="1.1"/>
<ellipse cx="484.8" cy="931.2" rx="3" ry="2.5" fill="#e8e8ea" stroke="#4e5157" stroke-width="1.1"/>
<ellipse cx="424.7" cy="973.6" rx="3" ry="2.5" fill="#e8e8ea" stroke="#4e5157" stroke-width="1.1"/>
<ellipse cx="376" cy="1017.4" rx="3" ry="2.5" fill="#e8e8ea" stroke="#4e5157" stroke-width="1.1"/>
<path d="M324.2 947.3 L340.8 936.2 L346.3 947.3 L332.5 958.4Z" fill="#4e5157" stroke="#4e5157" stroke-width="1" stroke-linejoin="round" stroke-linecap="round"/>
<path d="M393.4 980.5 C393.4 980.5 414.3 989.6 423.9 991.6 C433.5 993.6 455.5 993.6 465.5 995.8 C475.5 998 498.7 1008.2 498.7 1008.2 C498.7 1008.2 484.8 1025.8 479.3 1033.2 C473.8 1040.6 461.5 1056.6 457.1 1063.6 C452.7 1070.6 448.3 1081 446.1 1085.8 C443.9 1090.6 440.5 1099.6 440.5 1099.6 C440.5 1099.6 423.9 1083 423.9 1083 C423.9 1083 410.1 1071.9 410.1 1071.9 C410.1 1071.9 409.2 1041.3 407.3 1033.2 C405.4 1025.1 398.1 1018 396.2 1011 C394.3 1004 393.4 980.5 393.4 980.5Z" fill="url(#gwing)" stroke="#4e5157" stroke-width="1.6" stroke-linejoin="round" stroke-linecap="round"/>
<path d="M301.5 950.1 L313.1 947.3 L418.4 1069.2 L423.9 1083 L410.1 1077.5Z" fill="#f6f4f5" stroke="#5c6066" stroke-width="1.2" stroke-linejoin="round" stroke-linecap="round"/>
<ellipse cx="421.7" cy="1076.9" rx="3.3" ry="2.8" fill="#e8e8ea" stroke="#4e5157" stroke-width="1.1"/>
<path d="M276.1 679.2 C276.6 677.5 278.8 673.5 281.7 671.2 C284.6 668.9 297.7 661.9 297.7 661.9 C297.7 661.9 300.1 663.2 300.1 663.2 C300.1 663.2 300.6 671.2 300.6 671.2 C300.6 671.2 306.3 673.3 307.3 674.4 C308.3 675.5 310.4 677.1 308.1 679.2 C305.8 681.3 293 688.8 289.7 690.1 C286.4 691.4 284.9 689.6 283.3 688.8 C281.7 688 278.7 685.3 277.7 684 C276.7 682.7 275.6 680.9 276.1 679.2Z" fill="#7b7e84" stroke="#5c6066" stroke-width="1.2" stroke-linejoin="round" stroke-linecap="round"/>
<path d="M281.7 672 L297.7 662.9 L299.6 664 L299.9 671.5 L284.9 680.5Z" fill="#94979d"/>
<path d="M148.8 724.1 C149.3 721.7 150.8 718.1 154.4 716.1 C158 714.1 166.4 711.1 172.8 710.9 C179.2 710.7 189.1 712.3 196.8 714.5 C204.5 716.7 215.9 721.9 224.1 725.7 C232.3 729.5 242.9 736.7 251.3 740.1 C259.7 743.5 271 745.7 280.1 748.1 C289.2 750.5 305.1 753.7 312.1 756.1 C319.1 758.5 324 761.8 326.5 764.1 C329 766.4 329.5 769 328.9 771.3 C328.3 773.6 325.5 778.3 322.5 779.3 C319.5 780.3 315.3 779 308.9 777.7 C302.5 776.4 289.2 772.7 280.1 770.5 C271 768.3 257.7 765.3 248.1 763.3 C238.5 761.3 225.7 759.2 216.1 756.9 C206.5 754.6 192.2 750.9 184 748.1 C175.8 745.3 166.5 740.9 161.6 738.5 C156.7 736.1 153.1 734.3 151.2 732.1 C149.3 729.9 148.3 726.5 148.8 724.1Z M160.8 722.5 C162.6 721.5 168.1 719.3 172.8 719.3 C177.5 719.3 185 720.1 192 722.5 C199 724.9 210.9 731.1 219.3 735.3 C227.7 739.5 240.2 747.1 248.1 750.5 C256 753.9 263.7 755.5 272.1 757.7 C280.5 759.9 297.1 763.2 304.1 764.9 C311.1 766.6 317.3 767.8 318.5 768.9 C319.7 770 317.9 772.8 312.1 772.1 C306.3 771.4 289.7 766.3 280.1 764.1 C270.5 761.9 257.7 759.7 248.1 757.7 C238.5 755.7 225.2 752.8 216.1 750.5 C207 748.2 194.4 745 187.2 742.5 C180 740 172 736.2 168 733.7 C164 731.2 161.9 727.4 160.8 725.7 C159.7 724 159 723.5 160.8 722.5Z" fill="url(#g040)" fill-rule="evenodd" stroke="#4e5157" stroke-width="2.2" stroke-linejoin="round"/>
<path d="M152 730.5 C154.1 731.7 158.9 735.2 164.8 737.7 C170.7 740.2 178.6 743 187.2 745.7 C195.8 748.4 205.9 751.2 216.1 753.7 C226.2 756.2 237.4 758.3 248.1 760.6 C258.8 762.9 270 765 280.1 767.3 C290.2 769.6 302 773 308.9 774.5 C315.8 776 319.6 775.8 321.7 776.1" fill="none" stroke="#8a8e96" stroke-width="1.2" stroke-linejoin="round" stroke-linecap="round"/>
<path d="M156.8 718.5 C159.5 717.9 166.4 714.9 172.8 714.8 C179.2 714.7 186.9 715.2 195.2 717.7 C203.5 720.2 213.3 725.3 222.5 729.7 C231.7 734.1 240.9 740.4 250.5 744.1 C260.1 747.8 269.8 749.4 280.1 752.1 C290.4 754.8 304.6 757.7 312.1 760.1 C319.6 762.5 322.8 765.4 324.9 766.5" fill="none" stroke="#9a9ea6" stroke-width="1" stroke-linejoin="round" stroke-linecap="round"/>
<path d="M236.1 800.9 C237 799.4 238.9 798 241.7 798.5 C244.5 799 250.2 801.8 252.9 804.1 C255.6 806.4 257.7 810.2 257.7 812.1 C257.7 814 255.6 815.6 252.9 815.3 C250.2 815 244.5 811.8 241.7 810.5 C238.9 809.2 237 808.9 236.1 807.3 C235.2 805.7 235.2 802.4 236.1 800.9Z" fill="#4e5157" stroke="#4e5157" stroke-width="1.2" stroke-linejoin="round" stroke-linecap="round"/>
<ellipse cx="259.6" cy="806.5" rx="9.9" ry="9.3" fill="none" stroke="#4e5157" stroke-width="2.2"/>
<path d="M251.3 814.5 C251.5 817.3 251.3 826.4 252.6 831.3 C253.9 836.2 256.8 840.6 259 844.1 C261.2 847.6 264.6 850.8 265.7 852.1" fill="none" stroke="#4e5157" stroke-width="1.8" stroke-linejoin="round" stroke-linecap="round"/>
<path d="M264.1 850.5 L269.7 848.6 L273.7 860.1 L266.5 864.1 L268.1 858.5 L264.9 856.1Z" fill="#4e5157" stroke="#4e5157" stroke-width="1" stroke-linejoin="round" stroke-linecap="round"/>
<g transform="translate(324.5 1212.5) rotate(-24)">
<rect x="-33" y="-7.2" width="66" height="14.5" rx="7.2" fill="#4b4e54" stroke="#3f4247" stroke-width="1"/>
<rect x="-30.5" y="-6" width="60" height="9" rx="4.5" fill="#62656b"/>
<path d="M-17 -2.8H15" stroke="#9a9da3" stroke-width="1" fill="none"/>
<circle cx="-23.5" cy="-1.6" r="2.6" fill="none" stroke="#9a9da3" stroke-width="0.9"/>
<circle cx="22.5" cy="-1.6" r="2.6" fill="none" stroke="#9a9da3" stroke-width="0.9"/>
</g>
<g transform="translate(345 1238) rotate(-24)">
<rect x="-33" y="-7.2" width="66" height="14.5" rx="7.2" fill="#4b4e54" stroke="#3f4247" stroke-width="1"/>
<rect x="-30.5" y="-6" width="60" height="9" rx="4.5" fill="#62656b"/>
<path d="M-17 -2.8H15" stroke="#9a9da3" stroke-width="1" fill="none"/>
<circle cx="-23.5" cy="-1.6" r="2.6" fill="none" stroke="#9a9da3" stroke-width="0.9"/>
<circle cx="22.5" cy="-1.6" r="2.6" fill="none" stroke="#9a9da3" stroke-width="0.9"/>
</g>
<g transform="translate(570.5 1380.7) rotate(-20)">
<rect x="-33" y="-7.2" width="66" height="14.5" rx="7.2" fill="#4b4e54" stroke="#3f4247" stroke-width="1"/>
<rect x="-30.5" y="-6" width="60" height="9" rx="4.5" fill="#62656b"/>
<path d="M-17 -2.8H15" stroke="#9a9da3" stroke-width="1" fill="none"/>
<circle cx="-23.5" cy="-1.6" r="2.6" fill="none" stroke="#9a9da3" stroke-width="0.9"/>
<circle cx="22.5" cy="-1.6" r="2.6" fill="none" stroke="#9a9da3" stroke-width="0.9"/>
</g>
<g transform="translate(898 1522) rotate(-20)">
<rect x="-33" y="-7.2" width="66" height="14.5" rx="7.2" fill="#4b4e54" stroke="#3f4247" stroke-width="1"/>
<rect x="-30.5" y="-6" width="60" height="9" rx="4.5" fill="#62656b"/>
<path d="M-17 -2.8H15" stroke="#9a9da3" stroke-width="1" fill="none"/>
<circle cx="-23.5" cy="-1.6" r="2.6" fill="none" stroke="#9a9da3" stroke-width="0.9"/>
<circle cx="22.5" cy="-1.6" r="2.6" fill="none" stroke="#9a9da3" stroke-width="0.9"/>
</g>
<g transform="translate(1190 1548) rotate(-21)">
<rect x="-33" y="-7.2" width="66" height="14.5" rx="7.2" fill="#4b4e54" stroke="#3f4247" stroke-width="1"/>
<rect x="-30.5" y="-6" width="60" height="9" rx="4.5" fill="#62656b"/>
<path d="M-17 -2.8H15" stroke="#9a9da3" stroke-width="1" fill="none"/>
<circle cx="-23.5" cy="-1.6" r="2.6" fill="none" stroke="#9a9da3" stroke-width="0.9"/>
<circle cx="22.5" cy="-1.6" r="2.6" fill="none" stroke="#9a9da3" stroke-width="0.9"/>
</g>
<path d="M344.5 1307.2 L351.7 1300 L366.1 1291.2 L371.7 1292.8 L372.5 1298.4 L450.9 1344.1 L458.9 1342.5 L461.3 1346.5 L460.5 1356.1 L454.1 1367.3 L451.7 1380.1 L457.3 1399.3 L466.9 1415.3 L473.3 1424.1 L446.1 1439.3 L439.7 1441.7 L434.9 1436.1 L422.1 1418.5 L366.1 1384.9 L354.9 1389.7 L348.5 1386.5 L344.5 1378.5 L342.9 1348.1Z" fill="#f3f3f5" stroke="#4e5157" stroke-width="2.4" stroke-linejoin="round" stroke-linecap="round"/>
<path d="M351.7 1300.8 L366.1 1292 L371.7 1293.6 L372.5 1298.4 L450.9 1344.1 L438.1 1356.1 L358.1 1308.8Z" fill="#d9dbdf" stroke="#4e5157" stroke-width="1.2" stroke-linejoin="round" stroke-linecap="round"/>
<path d="M351.7 1300.8 L366.1 1292 L371.7 1293.6 L372.5 1298.4 L358.1 1307.7Z" fill="#63676e"/>
<path d="M436.5 1355.3 L450.9 1344.1 L458.9 1342.5 L461.3 1346.5 L460.5 1356.1 L454.1 1367.3 L445.3 1364.9Z" fill="#63676e" stroke="#4e5157" stroke-width="1" stroke-linejoin="round" stroke-linecap="round"/>
<path d="M345.3 1309.6 L356.5 1307.7 L438.1 1356.1 L445.3 1365.7 L445.3 1437.7" fill="none" stroke="#4e5157" stroke-width="2.2" stroke-linejoin="round" stroke-linecap="round"/>
<path d="M445.3 1365.7 C445.3 1365.7 454.1 1367.3 454.1 1367.3 C454.1 1367.3 451.3 1375.8 451.7 1380.1 C452.1 1384.4 455.3 1394.6 457.3 1399.3 C459.3 1404 464.8 1412 466.9 1415.3 C469 1418.6 473.3 1424.1 473.3 1424.1 C473.3 1424.1 446.1 1439.3 446.1 1439.3 C446.1 1439.3 445.3 1365.7 445.3 1365.7Z" fill="#f6f6f7" stroke="#4e5157" stroke-width="1.4" stroke-linejoin="round" stroke-linecap="round"/>
<path d="M348.5 1319.3 L351.7 1364.1 L366.1 1380.1 L422.1 1415.3 L438.1 1434.5 L441.3 1380.1 L430.1 1360.9Z" fill="#e4e5e8" filter="url(#b4)" opacity="0.7"/>
<ellipse cx="356.5" cy="1338.5" rx="5.3" ry="8.8" fill="#5a5d64" stroke="#4e5157" stroke-width="1" transform="rotate(-10 356.5 1338.5)"/>
<ellipse cx="356" cy="1334.5" rx="3.2" ry="2.6" fill="#8d9199" transform="rotate(-10 356 1334.5)"/>
<ellipse cx="356.5" cy="1370.5" rx="6.9" ry="13.6" fill="#5a5d64" stroke="#4e5157" stroke-width="1" transform="rotate(-10 356.5 1370.5)"/>
<ellipse cx="356" cy="1364.4" rx="4.1" ry="4.1" fill="#8d9199" transform="rotate(-10 356 1364.4)"/>
<ellipse cx="432" cy="1381.7" rx="5.3" ry="8" fill="#5a5d64" stroke="#4e5157" stroke-width="1" transform="rotate(-10 432 1381.7)"/>
<ellipse cx="431.5" cy="1378.1" rx="3.2" ry="2.4" fill="#8d9199" transform="rotate(-10 431.5 1378.1)"/>
<ellipse cx="431.4" cy="1413.7" rx="6.9" ry="13.6" fill="#5a5d64" stroke="#4e5157" stroke-width="1" transform="rotate(-10 431.4 1413.7)"/>
<ellipse cx="430.9" cy="1407.6" rx="4.1" ry="4.1" fill="#8d9199" transform="rotate(-10 430.9 1407.6)"/>
<ellipse cx="349.3" cy="1312.8" rx="1.9" ry="1.9" fill="#d9dbdf" stroke="#6c7078" stroke-width="1"/>
<ellipse cx="438.1" cy="1363.3" rx="1.9" ry="1.9" fill="#d9dbdf" stroke="#6c7078" stroke-width="1"/>
<ellipse cx="349.3" cy="1382.5" rx="1.9" ry="1.9" fill="#d9dbdf" stroke="#6c7078" stroke-width="1"/>
<ellipse cx="438.1" cy="1433.7" rx="1.9" ry="1.9" fill="#d9dbdf" stroke="#6c7078" stroke-width="1"/>
<path d="M347.7 1344.5 L358.9 1338.1" fill="none" stroke="#111" stroke-width="3.4" stroke-linejoin="round" stroke-linecap="round"/>
<path d="M347.7 1344.5 L358.9 1338.1" fill="none" stroke="#fff" stroke-width="1.2" stroke-linejoin="round" stroke-linecap="round"/>
<path d="M347.7 1376.1 L358.9 1369.7" fill="none" stroke="#111" stroke-width="3.4" stroke-linejoin="round" stroke-linecap="round"/>
<path d="M347.7 1376.1 L358.9 1369.7" fill="none" stroke="#fff" stroke-width="1.2" stroke-linejoin="round" stroke-linecap="round"/>
<path d="M423.7 1386.5 L434.9 1380.1" fill="none" stroke="#111" stroke-width="3.4" stroke-linejoin="round" stroke-linecap="round"/>
<path d="M423.7 1386.5 L434.9 1380.1" fill="none" stroke="#fff" stroke-width="1.2" stroke-linejoin="round" stroke-linecap="round"/>
<path d="M423.7 1420.1 L434.9 1413.7" fill="none" stroke="#111" stroke-width="3.4" stroke-linejoin="round" stroke-linecap="round"/>
<path d="M423.7 1420.1 L434.9 1413.7" fill="none" stroke="#fff" stroke-width="1.2" stroke-linejoin="round" stroke-linecap="round"/>
<path d="M1310.5 1460.6 C1310.5 1460.6 1317.8 1456.8 1320.6 1455.7 C1323.4 1454.6 1326.5 1453.7 1329.3 1453.5 C1332.1 1453.3 1336.5 1453.9 1339.1 1454.5 C1341.7 1455.1 1343.9 1455.8 1346.5 1457.6 C1349.1 1459.4 1353.1 1463.4 1356.4 1466.8 C1359.7 1470.2 1365.4 1476.1 1368.7 1480.3 C1372 1484.5 1375.2 1489.9 1378.5 1495.1 C1381.8 1500.3 1387.1 1509.2 1390.8 1514.8 C1394.5 1520.3 1399.5 1527.5 1403.2 1532.1 C1406.9 1536.7 1412.2 1541.9 1415.5 1545.6 C1418.8 1549.3 1422.9 1553.7 1425.3 1556.7 C1427.7 1559.7 1430.3 1562.7 1431.5 1565.3 C1432.7 1567.9 1433.3 1573.9 1433.3 1573.9 C1433.3 1573.9 1424.1 1580.1 1424.1 1580.1 C1424.1 1580.1 1420.9 1578.6 1419.2 1576.4 C1417.5 1574.2 1415.4 1569.4 1413 1565.3 C1410.6 1561.2 1406.5 1554.3 1403.2 1549.3 C1399.9 1544.3 1394.9 1536.9 1390.8 1532.1 C1386.7 1527.3 1381.3 1521.9 1376.1 1517.3 C1370.9 1512.7 1362 1505.5 1356.4 1501.3 C1350.9 1497.1 1343.5 1492.2 1339.1 1489 C1334.7 1485.8 1330.7 1482.9 1326.8 1480.3 C1322.9 1477.7 1315.7 1473.9 1313.3 1471.7 C1310.9 1469.5 1311.2 1467.3 1310.8 1465.6 C1310.4 1463.9 1310.5 1460.6 1310.5 1460.6Z" fill="url(#g039)" stroke="#4e5157" stroke-width="2" stroke-linejoin="round" stroke-linecap="round"/>
<path d="M1346.5 1469.3 L1349 1460.6 L1358.8 1469.3 L1371.1 1485.3 L1366.2 1492.7 L1358.8 1488.3 L1353.9 1479.1Z" fill="#70747c"/>
<path d="M1324.3 1465.6 C1324.3 1465.6 1336.1 1462 1339.1 1462.5 C1342.1 1463 1344.5 1467.1 1346.5 1469.3 C1348.5 1471.5 1352.3 1476.6 1353.9 1479.1 C1355.5 1481.6 1358.8 1488.3 1358.8 1488.3 C1358.8 1488.3 1356.5 1488.8 1353.9 1487.1 C1351.3 1485.4 1343 1478.3 1339.1 1475.4 C1335.2 1472.5 1324.3 1465.6 1324.3 1465.6Z" fill="#fff" stroke="#4e5157" stroke-width="1.6" stroke-linejoin="round" stroke-linecap="round"/>
<path d="M1316.9 1469.3 C1320.6 1471.8 1330.9 1478 1339.1 1484 C1347.3 1490 1357.6 1497.8 1366.2 1505 C1374.8 1512.2 1384.2 1519.9 1390.8 1527.1 C1397.4 1534.3 1400.7 1540.5 1405.6 1548.1 C1410.5 1555.7 1417.9 1568.6 1420.4 1572.7" fill="none" stroke="#8a8e96" stroke-width="1.2" stroke-linejoin="round" stroke-linecap="round"/>
<path d="M954.6 1137.6 C955.5 1139.2 958 1143 959.9 1147.1 C961.8 1151.2 965.2 1157.4 965.8 1162 C966.4 1166.6 963.8 1172.8 963.4 1174.9" fill="none" stroke="#4e5157" stroke-width="1.4" stroke-linejoin="round" stroke-linecap="round"/>
<path d="M952.5 1143.6 L954.6 1136.9 L959.9 1141.8" fill="none" stroke="#4e5157" stroke-width="1.2" stroke-linejoin="round" stroke-linecap="round"/>
<path d="M957.4 1183 C957.4 1183 960.8 1177.7 964.4 1178.1 C968 1178.5 984.6 1185.8 984.6 1185.8 C984.6 1185.8 979.1 1192.2 976.3 1192.7 C973.5 1193.2 965.9 1191.2 963.4 1189.9 C960.9 1188.6 957.4 1183 957.4 1183Z" fill="#9a9ea6" stroke="#4e5157" stroke-width="1.3" stroke-linejoin="round" stroke-linecap="round"/>
<path d="M1590.6 1415.1 C1590.6 1415.1 1608.1 1396.6 1618 1389.3 C1627.9 1382 1642.2 1374 1656.7 1366.7 C1671.2 1359.4 1695.5 1349.1 1714.8 1340.9 C1734.1 1332.7 1765.4 1318.9 1785.7 1311.9 C1806 1304.9 1830.9 1298.9 1850.2 1294.1 C1869.5 1289.3 1895.4 1283.2 1914.7 1279.6 C1934 1276 1962.8 1272.2 1979.2 1270 C1995.6 1267.8 2024.3 1265.1 2024.3 1265.1 C2024.3 1265.1 2046.9 1249 2046.9 1249 C2046.9 1249 2053.3 1250.6 2053.3 1250.6 C2053.3 1250.6 2051.7 1260.3 2051.7 1260.3 C2051.7 1260.3 2043.7 1268.3 2043.7 1268.3 C2043.7 1268.3 2053 1275.2 2054.9 1279.6 C2056.8 1284 2057.3 1291.6 2056.6 1297.4 C2055.9 1303.2 2052.3 1312.8 2050.1 1318.3 C2047.9 1323.8 2042 1334.4 2042 1334.4 C2042 1334.4 2054.9 1332.8 2054.9 1332.8 C2054.9 1332.8 2059.8 1339.3 2059.8 1339.3 C2059.8 1339.3 2043.7 1347.3 2043.7 1347.3 C2043.7 1347.3 2037.9 1349 2034 1353.8 C2030.1 1358.6 2023.7 1370.9 2017.9 1379.6 C2012.1 1388.3 2002.1 1403.1 1995.3 1411.8 C1988.5 1420.5 1978 1431.3 1972.7 1437.6 C1967.4 1443.9 1963.7 1449.8 1959.8 1453.7 C1955.9 1457.6 1946.9 1463.4 1946.9 1463.4 C1946.9 1463.4 1930.8 1465 1930.8 1465 C1930.8 1465 1924.4 1458.6 1924.4 1458.6 C1924.4 1458.6 1907.3 1469.7 1898.6 1473.1 C1889.9 1476.5 1876 1479.7 1866.3 1481.2 C1856.6 1482.7 1846.2 1483.9 1834.1 1483.4 C1822 1482.9 1800.2 1480.2 1785.7 1477.9 C1771.2 1475.6 1751.8 1471.9 1737.3 1468.3 C1722.8 1464.7 1703.5 1458.3 1689 1453.7 C1674.5 1449.1 1652.7 1441.9 1640.6 1437.6 C1628.5 1433.2 1615.9 1428.1 1608.4 1424.7 C1600.9 1421.3 1590.6 1415.1 1590.6 1415.1Z" fill="url(#g028)" stroke="#4e5157" stroke-width="2.6" stroke-linejoin="round" stroke-linecap="round"/>
<g clip-path="url(#c028)">
<path d="M1624.5 1405.4 L1640.6 1389.3 L1656.7 1376.4 L1714.8 1350.6 L1798.6 1324.8 L1818 1334.4 L1882.4 1331.2 L1898.6 1336.1 L1885.7 1355.4 L1818 1363.5 L1756.7 1371.5 L1705.1 1389.3 L1666.4 1398.9Z" fill="#666a72" filter="url(#b2)"/>
<path d="M1608.4 1415.1 L1666.4 1400.5 L1705.1 1392.5 L1740.6 1405.4 L1695.4 1415.1 L1656.7 1428 L1624.5 1428Z" fill="#8a8e96" filter="url(#b8)"/>
<path d="M1814.7 1379.6 L1914.7 1368.3 L1988.8 1360.2 L1988.8 1384.4 L1914.7 1392.5 L1866.3 1395.7 L1785.7 1392.5Z" fill="#7d8189" filter="url(#b2)"/>
<path d="M1766.4 1408.6 L1785.7 1395.7 L1866.3 1395.7 L1885.7 1421.5 L1850.2 1424.7 L1801.8 1424.7 L1766.4 1421.5Z" fill="#8a8e96" filter="url(#b4)"/>
<path d="M1759.9 1410.2 C1761 1412.6 1762.1 1421.7 1766.4 1424.7 C1770.7 1427.7 1782.5 1427.5 1785.7 1428" fill="none" stroke="#5c6066" stroke-width="3" stroke-linejoin="round" stroke-linecap="round"/>
<path d="M1756.7 1371.5 L1818 1363.5 L1885.7 1355.4 L1963.1 1345.7 L2017.9 1342.5 L2008.2 1353.8 L1979.2 1360.2 L1914.7 1368.3 L1850.2 1376.4 L1814.7 1379.6 L1769.6 1387.6 L1759.9 1379.6Z" fill="#aeb2b9" stroke="#5c6066" stroke-width="1.2" stroke-linejoin="round" stroke-linecap="round"/>
<path d="M1908.2 1376.4 L1914.7 1370.6 L1946.9 1367.3 L1940.5 1373.1Z" fill="#5c6066"/>
</g>
<path d="M1592.2 1413.4 C1596.5 1409.9 1607.2 1399.6 1618 1392.5 C1628.8 1385.4 1640.6 1378.5 1656.7 1370.6 C1672.8 1362.6 1693.3 1353.9 1714.8 1344.8 C1736.3 1335.7 1763.1 1323.5 1785.7 1315.7 C1808.3 1307.9 1828.7 1303.4 1850.2 1298 C1871.7 1292.6 1893.2 1287.5 1914.7 1283.5 C1936.2 1279.5 1960.9 1276.2 1979.2 1273.8 C1997.5 1271.4 2013.5 1269.5 2024.3 1269.3 C2035 1269.1 2039 1270.2 2043.7 1272.5 C2048.4 1274.8 2050.8 1278.5 2052.4 1282.9 C2054 1287.3 2054.2 1293.1 2053.3 1299 C2052.4 1304.9 2049.6 1311.8 2046.9 1318.3 C2044.2 1324.8 2041 1330.7 2037.2 1337.7 C2033.4 1344.7 2029.7 1351.6 2024.3 1360.2 C2018.9 1368.8 2012.5 1379.1 2005 1389.3 C1997.5 1399.5 1987.3 1411.8 1979.2 1421.5 C1971.1 1431.2 1962.5 1441.1 1956.6 1447.3 C1950.7 1453.5 1945.8 1456.7 1943.7 1458.6" fill="none" stroke="#4e5157" stroke-width="7.4" stroke-linejoin="round" stroke-linecap="round"/>
<path d="M1592.2 1413.4 C1596.5 1409.9 1607.2 1399.6 1618 1392.5 C1628.8 1385.4 1640.6 1378.5 1656.7 1370.6 C1672.8 1362.6 1693.3 1353.9 1714.8 1344.8 C1736.3 1335.7 1763.1 1323.5 1785.7 1315.7 C1808.3 1307.9 1828.7 1303.4 1850.2 1298 C1871.7 1292.6 1893.2 1287.5 1914.7 1283.5 C1936.2 1279.5 1960.9 1276.2 1979.2 1273.8 C1997.5 1271.4 2013.5 1269.5 2024.3 1269.3 C2035 1269.1 2039 1270.2 2043.7 1272.5 C2048.4 1274.8 2050.8 1278.5 2052.4 1282.9 C2054 1287.3 2054.2 1293.1 2053.3 1299 C2052.4 1304.9 2049.6 1311.8 2046.9 1318.3 C2044.2 1324.8 2041 1330.7 2037.2 1337.7 C2033.4 1344.7 2029.7 1351.6 2024.3 1360.2 C2018.9 1368.8 2012.5 1379.1 2005 1389.3 C1997.5 1399.5 1987.3 1411.8 1979.2 1421.5 C1971.1 1431.2 1962.5 1441.1 1956.6 1447.3 C1950.7 1453.5 1945.8 1456.7 1943.7 1458.6" fill="none" stroke="#e9e8eb" stroke-width="4.2" stroke-linejoin="round" stroke-linecap="round"/>
<path d="M1805.1 1326.4 C1805.1 1326.4 1835.6 1313.1 1850.2 1308.6 C1864.8 1304.1 1897.5 1296.2 1914.7 1292.5 C1931.9 1288.8 1965.4 1283.1 1979.2 1281.2 C1993 1279.3 2010.8 1277.3 2017.9 1278 C2025 1278.7 2030.3 1282.9 2032.4 1286.1 C2034.5 1289.3 2034.7 1297.5 2034 1302.2 C2033.3 1306.9 2030.1 1317.8 2027.5 1321.5 C2024.9 1325.2 2021 1328.1 2014.6 1329.6 C2008.2 1331.1 1989.1 1332.8 1979.2 1332.8 C1969.3 1332.8 1949.1 1330.5 1940.5 1329.6 C1931.9 1328.7 1922.4 1326.4 1914.7 1326.4 C1907 1326.4 1891 1329 1882.4 1329.6 C1873.8 1330.2 1858.8 1330.8 1850.2 1331.2 C1841.6 1331.6 1824 1333.4 1818 1332.8 C1812 1332.2 1805.1 1326.4 1805.1 1326.4Z" fill="#fff" stroke="#4e5157" stroke-width="2.6" stroke-linejoin="round" stroke-linecap="round"/>
<path d="M1847 1328 L1914.7 1311.9 L1940.5 1294.1 L1946.9 1295.8 L1951.8 1308.6 L1963.1 1311.9 L1969.5 1321.5 L1975.9 1329.6 L1940.5 1329.6 L1914.7 1326.4 L1882.4 1329Z" fill="#b4b8bf" stroke="#4e5157" stroke-width="1.3" stroke-linejoin="round" stroke-linecap="round"/>
<ellipse cx="1963.1" cy="1316.7" rx="2.9" ry="4.2" fill="#fff" stroke="#4e5157" stroke-width="1.1"/>
<path d="M1885.7 1355.4 L1898.6 1336.1 L1930.8 1340.9 L1963.1 1345.7 L1924.4 1352.2Z" fill="#fff" stroke="#5c6066" stroke-width="1.2" stroke-linejoin="round" stroke-linecap="round"/>
<path d="M1695.4 1411.8 C1695.4 1411.8 1711.3 1402.1 1721.2 1398.9 C1731.1 1395.7 1757.1 1390.2 1769.6 1387.6 C1782.1 1385 1814.7 1379.6 1814.7 1379.6 C1814.7 1379.6 1795.6 1389.1 1785.7 1392.5 C1775.8 1395.9 1752.6 1402.8 1740.6 1405.4 C1728.6 1408 1695.4 1411.8 1695.4 1411.8Z" fill="#fff" stroke="#5c6066" stroke-width="1.4" stroke-linejoin="round" stroke-linecap="round"/>
<path d="M1866.3 1395.7 C1866.3 1395.7 1898.4 1394 1914.7 1392.5 C1931 1391 1988.8 1384.4 1988.8 1384.4 C1988.8 1384.4 1978.3 1402.4 1972.7 1408.6 C1967.1 1414.8 1953.8 1426.7 1946.9 1431.2 C1940 1435.7 1927.1 1441.2 1921.1 1442.5 C1915.1 1443.8 1906.5 1443.6 1901.8 1440.8 C1897.1 1438 1890.4 1427.5 1885.7 1421.5 C1881 1415.5 1866.3 1395.7 1866.3 1395.7Z" fill="#fff" stroke="#5c6066" stroke-width="1.4" stroke-linejoin="round" stroke-linecap="round"/>
<path d="M1992.1 1373.1 L2000.1 1360.2 L2008.2 1360.2 L1998.5 1374.7Z" fill="#fff" stroke="#5c6066" stroke-width="1.2" stroke-linejoin="round" stroke-linecap="round"/>
<path d="M2024.3 1265.1 L2046.9 1249 L2053.3 1250.6 L2051.7 1260.3 L2043.7 1268.3 L2034 1270Z" fill="#8d9199" stroke="#4e5157" stroke-width="1.4" stroke-linejoin="round" stroke-linecap="round"/>
<path d="M2042 1334.4 L2054.9 1332.8 L2059.8 1339.3 L2043.7 1347.3 L2037.2 1344.1Z" fill="#8d9199" stroke="#4e5157" stroke-width="1.4" stroke-linejoin="round" stroke-linecap="round"/>
<path d="M1740.6 1334.4 L1768 1308.6 L1769.6 1302.8 L1775.4 1304.8 L1776.7 1311.9 L1766.4 1323.2Z" fill="#8d9199" stroke="#4e5157" stroke-width="1.4" stroke-linejoin="round" stroke-linecap="round"/>
<path d="M1914.7 1282.9 L1882.4 1291.9 L1884.1 1295.1 L1916.3 1286.7Z" fill="#d9dbdf" stroke="#4e5157" stroke-width="1" stroke-linejoin="round" stroke-linecap="round"/>
<path d="M1624.5 1379.6 L1623.5 1370.6 L1627.1 1369.3 L1630.3 1378Z" fill="#c6c9cf" stroke="#4e5157" stroke-width="1.3" stroke-linejoin="round" stroke-linecap="round"/>
<path d="M1573.5 1405.4 L1577.7 1402.8 L1583.2 1408 L1592.2 1414.4 L1585.8 1418.3Z" fill="#8d9199" stroke="#4e5157" stroke-width="1.3" stroke-linejoin="round" stroke-linecap="round"/>
<path d="M1656.7 1453.7 L1675.4 1461.5 L1666.4 1468.3 L1661.6 1463.4Z" fill="#b4b8bf" stroke="#4e5157" stroke-width="1.2" stroke-linejoin="round" stroke-linecap="round"/>
<ellipse cx="1903.7" cy="1374.4" rx="2.3" ry="3.2" fill="#fff" stroke="#4e5157" stroke-width="1.1" transform="rotate(-20 1903.7 1374.4)"/>
<path d="M1946.9 1463.4 L1959.8 1453.7 L1972.7 1437.6 L1995.3 1411.8 L2017.9 1379.6 L2009.8 1395.7 L1988.8 1424.7 L1966.3 1450.5Z" fill="#5c6066" stroke="#4e5157" stroke-width="1.2" stroke-linejoin="round" stroke-linecap="round"/>
<path d="M1959.8 1453.7 L1963.7 1460.2" fill="none" stroke="#4e5157" stroke-width="1.6" stroke-linejoin="round" stroke-linecap="round"/>
<path d="M2067.1 1390.8 L2077.9 1393.2 L2085.8 1389.3 L2089.8 1386.3 L2107.5 1385.3 L2113.4 1387.3 L2137 1379.4 L2156.7 1373.5 L2160.7 1368.6 L2176.5 1365.6 L2182.4 1367.6 L2196.2 1364.6 L2204 1359.7 L2211.9 1358.7 L2223.7 1373.5 L2239.5 1395.2 L2251.3 1410.9 L2256.3 1418.8 L2251.3 1422.8 L2243.4 1418.8 L2235.6 1409 L2215.9 1395.2 L2186.3 1392.2 L2156.7 1394.2 L2117.3 1396.2 L2089.8 1398.1 L2077.9 1397.1Z" fill="url(#g032)" stroke="#4e5157" stroke-width="1.8" stroke-linejoin="round" stroke-linecap="round"/>
<path d="M2067.1 1390.8 L2077.9 1393.2 L2089.8 1398.1 L2077.9 1397.1Z" fill="#4e5157" stroke="#4e5157" stroke-width="1.4" stroke-linejoin="round" stroke-linecap="round"/>
<path d="M2211.9 1358.7 L2223.7 1373.5 L2239.5 1395.2 L2251.3 1410.9 L2256.3 1418.8 L2251.3 1422.8 L2243.4 1418.8 L2235.6 1409 L2229.7 1395.2 L2215.9 1373.5Z" fill="#8d9199"/>
<ellipse cx="2097.6" cy="1388.3" rx="2.8" ry="1.6" fill="#fff" stroke="#4e5157" stroke-width="1"/>
<ellipse cx="2169.6" cy="1369.6" rx="2.8" ry="1.6" fill="#fff" stroke="#4e5157" stroke-width="1"/>
<path d="M1989.3 1465.1 L1999.1 1471 L2001.1 1479.9 L2012.9 1480.9 L2028.7 1477.9 L2042.5 1474 L2107.5 1458.2 L2135.1 1454.3 L2143 1459.2 L2127.2 1466.1 L2117.3 1476 L2111.4 1487.8 L2103.5 1497.6 L2101.6 1507.5 L2182.4 1496.7 L2202.1 1497.6 L2204 1501.6 L2202.1 1511.4 L2215.9 1523.3 L2223.7 1529.2 L2219.8 1539 L2206 1560.7 L2192.2 1582.4 L2172.5 1610 L2144.9 1615.9 L2127.2 1610 L2113.4 1600.1 L2087.8 1596.2 L2058.2 1592.2 L2034.6 1588.3 L2009 1582.4 L1989.3 1576.5 L1973.5 1570.5 L1967.6 1562.7 L1973.5 1554.8 L1991.2 1548.9 L2014.9 1539 L2036.6 1529.2 L2036.6 1521.3 L2014.9 1519.3 L1979.4 1521.3 L1965.6 1518.3 L1962.7 1513.4 L1969.6 1505.5 L1989.3 1495.7 L1999.1 1489.8 L1989.3 1485.8Z" fill="url(#g030)" stroke="#4e5157" stroke-width="2" stroke-linejoin="round" stroke-linecap="round"/>
<path d="M1965.6 1518.3 L1999.1 1509.5 L2058.2 1497.6 L2103.5 1491.7 L2101.6 1507.5 L2036.6 1521.3 L2014.9 1519.3 L1979.4 1521.3Z" fill="#6a6e76"/>
<path d="M2001.1 1479.9 L2042.5 1474 L2107.5 1458.2 L2135.1 1454.3 L2143 1459.2 L2127.2 1466.1 L2117.3 1476 L2058.2 1485.8 L2018.8 1491.7 L1999.1 1489.8Z" fill="#e4e2e6" stroke="#5c6066" stroke-width="1" stroke-linejoin="round" stroke-linecap="round"/>
<path d="M2036.6 1521.3 L2101.6 1507.5 L2182.4 1496.7 L2184.3 1505.5 L2190.2 1517.3 L2146.9 1527.2 L2117.3 1531.1 L2058.2 1532.1 L2036.6 1529.2Z" fill="#5f636a"/>
<path d="M2204 1537 L2223.7 1529.2 L2219.8 1539 L2206 1560.7 L2192.2 1582.4 L2172.5 1610 L2144.9 1615.9 L2156.7 1596.2 L2180.4 1570.5 L2196.2 1552.8Z" fill="#5a5e65"/>
<path d="M1973.5 1554.8 L2014.9 1539 L2058.2 1535.1 L2084.8 1546.9 L2038.5 1560.7 L1999.1 1572.5 L1973.5 1570.5 L1967.6 1562.7Z" fill="#7d8189" filter="url(#b2)"/>
<path d="M2084.8 1546.9 C2084.8 1546.9 2204 1537 2204 1537 C2204 1537 2199.3 1548.3 2196.2 1552.8 C2193.1 1557.3 2185.7 1566 2180.4 1570.5 C2175.1 1575 2163.8 1583.1 2156.7 1586.3 C2149.6 1589.5 2133 1593.7 2127.2 1594.2 C2121.4 1594.7 2116.8 1593.1 2113.4 1590.2 C2110 1587.3 2105.4 1578.3 2101.6 1572.5 C2097.8 1566.7 2084.8 1546.9 2084.8 1546.9Z" fill="#fff" stroke="#5c6066" stroke-width="1.4" stroke-linejoin="round" stroke-linecap="round"/>
<path d="M1989.3 1465.1 L1999.1 1471 L2001.1 1479.9 L1999.1 1489.8 L1989.3 1485.8Z" fill="#d9dbdf" stroke="#4e5157" stroke-width="1.3" stroke-linejoin="round" stroke-linecap="round"/>
<ellipse cx="1994.2" cy="1476" rx="1.8" ry="2.6" fill="#fff" stroke="#4e5157" stroke-width="1"/>
<ellipse cx="2116.9" cy="1525.2" rx="2.6" ry="2.6" fill="#c6c9cf" stroke="#4e5157" stroke-width="1.2"/>
<ellipse cx="2117.3" cy="1460.6" rx="2.4" ry="1.8" fill="#fff" stroke="#4e5157" stroke-width="1"/>
<ellipse cx="2036.6" cy="1481.5" rx="2.4" ry="1.6" fill="#fff" stroke="#4e5157" stroke-width="1"/>
<ellipse cx="2194.2" cy="1502.6" rx="2.2" ry="2.8" fill="#fff" stroke="#4e5157" stroke-width="1"/>
<path d="M1951.3 914.5 L1957.3 910.9 L1959.7 918.1 L1956.1 931.3 L1965.7 940.9 L1976.5 936.1 L1977.7 940.9 L1968.1 967.3 L1958.5 996.2 L1951.3 1025 L1946.5 1053.8 L1944.1 1077.8 L1938.1 1085 L1940.5 1094.7 L1929.7 1100.7 L1896.1 1113.9 L1867.3 1121.1 L1864.9 1125.9 L1845.6 1140.3 L1830 1149.9 L1827.6 1140.3 L1832.4 1116.3 L1825.2 1111.5 L1822.8 1099.5 L1824 1092.2 L1836 1089.8 L1838.4 1077.8 L1855.2 1044.2 L1872.1 1015.4 L1888.9 989 L1905.7 967.3 L1910.5 955.3 L1920.1 943.3 L1932.1 945.7 L1934.5 940.9 L1951.3 932.5Z" fill="#e2e2e6" stroke="#4e5157" stroke-width="2" stroke-linejoin="round" stroke-linecap="round"/>
<path d="M1929.7 964.9 C1929.7 964.9 1968.1 948.1 1968.1 948.1 C1968.1 948.1 1960.7 985.9 1958.5 996.2 C1956.3 1006.5 1952.9 1017.3 1951.3 1025 C1949.7 1032.7 1947.5 1046.8 1946.5 1053.8 C1945.5 1060.8 1944.1 1077.8 1944.1 1077.8 C1944.1 1077.8 1872.1 1099.5 1872.1 1099.5 C1872.1 1099.5 1878.5 1077.5 1881.7 1068.2 C1884.9 1058.9 1891.6 1040 1896.1 1029.8 C1900.6 1019.6 1910.8 1000.1 1915.3 991.4 C1919.8 982.7 1929.7 964.9 1929.7 964.9Z" fill="url(#g018)" stroke="#4e5157" stroke-width="1.6" stroke-linejoin="round" stroke-linecap="round"/>
<path d="M1915.3 969.8 C1915.3 969.8 1929.7 964.9 1929.7 964.9 C1929.7 964.9 1919.8 982.7 1915.3 991.4 C1910.8 1000.1 1900.6 1019.6 1896.1 1029.8 C1891.6 1040 1884.9 1059.2 1881.7 1068.2 C1878.5 1077.2 1875.6 1092.6 1872.1 1097.1 C1868.6 1101.6 1859.1 1102.2 1855.2 1101.9 C1851.3 1101.6 1844.6 1097 1843.2 1094.7 C1841.8 1092.4 1842.5 1090.1 1844.4 1085 C1846.3 1079.9 1853.3 1064.5 1857.6 1056.2 C1861.9 1047.9 1871.8 1031.2 1876.9 1022.6 C1882 1014 1891 998.4 1896.1 991.4 C1901.2 984.4 1915.3 969.8 1915.3 969.8Z" fill="#fff" stroke="#4e5157" stroke-width="1.6" stroke-linejoin="round" stroke-linecap="round"/>
<path d="M1832.4 1116.3 L1867.3 1121.1 L1845.6 1140.3 L1830 1149.9 L1827.6 1140.3Z" fill="#7d8189" stroke="#4e5157" stroke-width="1.2" stroke-linejoin="round" stroke-linecap="round"/>
<path d="M1843.2 1094.7 C1845.2 1096.1 1850.4 1102.1 1855.2 1103.1 C1860 1104.1 1858.3 1103.5 1872.1 1100.7 C1885.9 1097.9 1927.1 1088.6 1938.1 1086.2" fill="none" stroke="#4e5157" stroke-width="2.6" stroke-linejoin="round" stroke-linecap="round"/>
<path d="M1825.2 1111.5 C1832.2 1112.1 1854.7 1116.1 1867.3 1115.1 C1879.9 1114.1 1888.7 1108.9 1900.9 1105.5 C1913.1 1102.1 1933.9 1096.5 1940.5 1094.7" fill="none" stroke="#6c7078" stroke-width="1.2" stroke-linejoin="round" stroke-linecap="round"/>
<path d="M1910.5 969.8 L1929.7 964.9 L1972.9 948.1" fill="none" stroke="#4e5157" stroke-width="2.4" stroke-linejoin="round" stroke-linecap="round"/>
<path d="M1917.7 949.3 L1924.9 944.5 L1927.3 949.3 L1920.1 954.1Z" fill="#fff" stroke="#4e5157" stroke-width="1" stroke-linejoin="round" stroke-linecap="round"/>
<path d="M1918.9 796.8 L1922.5 794.4 L1934.5 796.8 L1938.1 800.4 L1934.5 806.4 L1927.3 813.6 L1922.5 823.2 L1910.5 826.8 L1903.3 829.2 L1896.1 836.4 L1893.2 834 L1903.3 825.6 L1912.9 816 L1917.7 806.4 L1916.5 800.4Z" fill="#5a5e65" stroke="#4e5157" stroke-width="1.2" stroke-linejoin="round" stroke-linecap="round"/>
<ellipse cx="1920.6" cy="800.4" rx="1.7" ry="1.9" fill="#c6c9cf" stroke="#4e5157" stroke-width="1"/></g>
<g id="table"><g fill="none" stroke="#4b4b4d" stroke-width="1.6">
<rect x="2326.2" y="103.8" width="153.1" height="1633.5"/>
<path d="M2326.2 103.8 H2173.2 V296 H2326.2"/>
<path d="M2173.2 199.9H2479.3M2326.2 296H2479.3M2326.2 392.1H2479.3M2326.2 488.2H2479.3M2326.2 584.2H2479.3M2326.2 680.3H2479.3M2326.2 776.4H2479.3M2326.2 872.5H2479.3M2326.2 968.6H2479.3M2326.2 1064.7H2479.3M2326.2 1160.8H2479.3M2326.2 1256.9H2479.3M2326.2 1353H2479.3M2326.2 1449.1H2479.3M2326.2 1545.2H2479.3M2326.2 1641.2H2479.3"/>
</g>
<g class="ct">
<text transform="translate(2378 163.8) scale(1.06 1)">053</text>
<text transform="translate(2378 259.9) scale(1.06 1)">052</text>
<text transform="translate(2378 356) scale(1.06 1)">051</text>
<text transform="translate(2378 452.1) scale(1.06 1)">050</text>
<text transform="translate(2378 548.2) scale(1.06 1)">048</text>
<text transform="translate(2378 644.3) scale(1.06 1)">047</text>
<text transform="translate(2378 740.4) scale(1.06 1)">027</text>
<text transform="translate(2378 836.5) scale(1.06 1)">024</text>
<text transform="translate(2378 932.6) scale(1.06 1)">021</text>
<text transform="translate(2378 1028.7) scale(1.06 1)">020</text>
<text transform="translate(2378 1124.7) scale(1.06 1)">017</text>
<text transform="translate(2378 1220.8) scale(1.06 1)">014</text>
<text transform="translate(2378 1316.9) scale(1.06 1)">013</text>
<text transform="translate(2378 1413) scale(1.06 1)">012</text>
<text transform="translate(2378 1509.1) scale(1.06 1)">011</text>
<text transform="translate(2378 1605.2) scale(1.06 1)">010</text>
<text transform="translate(2225 163.8) scale(1.06 1)">055</text>
<text transform="translate(2225 259.9) scale(1.06 1)">054</text>
</g><ellipse cx="2289.4" cy="158.5" rx="24.5" ry="13" fill="#1e1f21" />
<ellipse cx="2289.4" cy="156" rx="23" ry="11.3" fill="#2b2c2f" />
<path d="M2284.7 159.2L2270.1 154.6L2271.3 153ZM2286.5 158.2L2276.5 149.9L2279.4 148.9ZM2289.4 157.8L2287.6 147.7L2291.2 147.7ZM2292.3 158.2L2299.4 148.9L2302.3 149.9ZM2294.1 159.2L2307.5 153L2308.7 154.6ZM2294.1 160.8L2308.7 159.4L2307.5 161ZM2284.7 160.8L2271.3 161L2270.1 159.4Z" fill="#f2f2f3" />
<ellipse cx="2289.4" cy="161" rx="5" ry="2.4" fill="#f2f2f3" />
<rect x="2437.8" y="132" width="17.8" height="15.5" rx="0" fill="url(#iL)" />
<path d="M2437.8 147V186Q2446.7 191 2455.6 186V147Z" fill="url(#iD)" />
<path d="M2428.6 128Q2428.6 116 2446.7 115.3Q2464.6 116 2464.6 128Q2456 136 2446.7 136Q2437 136 2428.6 128Z" fill="url(#iL)" />
<ellipse cx="2446.7" cy="118.3" rx="6" ry="2.2" fill="#85888d" />
<path d="M2276.7 237.5V288Q2288 294 2299.3 288V237.5Z" fill="url(#iL)" />
<path d="M2276.7 241.5L2299.3 242.7M2276.7 244.7L2299.3 245.9M2276.7 247.9L2299.3 249.1M2276.7 251.1L2299.3 252.3M2276.7 254.3L2299.3 255.5M2276.7 257.5L2299.3 258.7M2276.7 260.7L2299.3 261.9M2276.7 263.9L2299.3 265.1M2276.7 267.1L2299.3 268.3M2276.7 270.3L2299.3 271.5M2276.7 273.5L2299.3 274.7M2276.7 276.7L2299.3 277.9M2276.7 279.9L2299.3 281.1M2276.7 283.1L2299.3 284.3M2276.7 286.3L2299.3 287.5" stroke="#00000030" stroke-width="1" fill="none"/>
<ellipse cx="2288" cy="233.8" rx="25.2" ry="7.8" fill="url(#iL)" />
<ellipse cx="2288" cy="231.2" rx="25.2" ry="6.2" fill="url(#iL)" stroke="#00000030" stroke-width="0.8"/>
<path d="M2270.5 208.7L2280.1 205.7L2297.6 205.7L2305.5 208.7L2305.5 228L2270.5 228Z" fill="url(#iL)" />
<path d="M2270.5 208.7L2280.1 205.7L2297.6 205.7L2305.5 208.7Z" fill="#ffffff40" />
<path d="M2290.6 208.7V228" stroke="#00000040" stroke-width="1"/>
<path d="M2436 243V284.5Q2448 290.5 2460 284.5V243Z" fill="url(#iD)" />
<ellipse cx="2448" cy="240.2" rx="26" ry="6.8" fill="url(#iD)" />
<ellipse cx="2448" cy="237.8" rx="26" ry="5.2" fill="url(#iD)" stroke="#00000030" stroke-width="0.8"/>
<path d="M2432 214.2L2440.8 211.2L2456.8 211.2L2464 214.2L2464 237L2432 237Z" fill="url(#iD)" />
<path d="M2432 214.2L2440.8 211.2L2456.8 211.2L2464 214.2Z" fill="#ffffff40" />
<path d="M2450.4 214.2V237" stroke="#00000040" stroke-width="1"/>
<path d="M2432.8 313.5 L2468.7 328.6 L2467.7 374 L2461 376.6 L2431.6 362.7Z" fill="#96999e" stroke="#b9bcc0" stroke-width="1" stroke-linejoin="round"/>
<path d="M2468.7 328.6 L2467.7 374 L2461 376.6 L2462 373.6 L2464.2 372 L2465.2 330.1Z" fill="#787b80" />
<path d="M2431.6 362.7 L2461 376.6 L2459.5 370.6 L2432.1 357.7Z" fill="#bcbfc3" />
<ellipse cx="2447.2" cy="341.8" rx="8.6" ry="8" fill="#8b8e93" stroke="#6f7276" stroke-width="1.2"/>
<ellipse cx="2446.8" cy="341.8" rx="4.6" ry="4.8" fill="#7c7f84" stroke="#6a6d71" stroke-width="1"/>
<path d="M2432.6 502.7 L2469.2 517.9 L2468 563.3 L2461.6 567 L2431.3 553.2Z" fill="#96999e" stroke="#b9bcc0" stroke-width="1" stroke-linejoin="round"/>
<path d="M2469.2 517.9 L2468 563.3 L2461.6 567 L2462.6 564 L2464.5 561.3 L2465.7 519.4Z" fill="#787b80" />
<path d="M2431.3 553.2 L2461.6 567 L2460.1 561 L2431.8 548.2Z" fill="#bcbfc3" />
<ellipse cx="2447.3" cy="531" rx="8.6" ry="8" fill="#8b8e93" stroke="#6f7276" stroke-width="1.2"/>
<ellipse cx="2446.8" cy="531" rx="4.6" ry="4.8" fill="#7c7f84" stroke="#6a6d71" stroke-width="1"/>
<g transform="rotate(-8 2448 446)">
<ellipse cx="2449.5" cy="447" rx="26" ry="32.8" fill="#636568" />
<ellipse cx="2448" cy="446" rx="25" ry="32.3" fill="#87898c" />
<ellipse cx="2447.5" cy="446" rx="9.3" ry="12.4" fill="#5e6063" />
<ellipse cx="2449" cy="446.5" rx="7.6" ry="11" fill="#fff" />
</g>
<g transform="rotate(-8 2448.2 826.5)">
<ellipse cx="2449.7" cy="827.5" rx="26" ry="32.8" fill="#636568" />
<ellipse cx="2448.2" cy="826.5" rx="25" ry="32.3" fill="#87898c" />
<ellipse cx="2447.7" cy="826.5" rx="9.3" ry="12.4" fill="#5e6063" />
<ellipse cx="2449.2" cy="827" rx="7.6" ry="11" fill="#fff" />
</g>
<path d="M2436.4 620V660Q2447.1 666 2457.8 660V620Z" fill="url(#iM)" />
<path d="M2436.4 624L2457.8 625.2M2436.4 627.2L2457.8 628.4M2436.4 630.4L2457.8 631.6M2436.4 633.6L2457.8 634.8M2436.4 636.8L2457.8 638M2436.4 640L2457.8 641.2M2436.4 643.2L2457.8 644.4M2436.4 646.4L2457.8 647.6M2436.4 649.6L2457.8 650.8M2436.4 652.8L2457.8 654M2436.4 656L2457.8 657.2M2436.4 659.2L2457.8 660.4" stroke="#00000030" stroke-width="1" fill="none"/>
<ellipse cx="2447" cy="615" rx="25" ry="9.5" fill="#4a4c50" />
<ellipse cx="2447" cy="613" rx="25" ry="9.5" fill="url(#iM)" />
<path d="M2429 612Q2432 600.2 2447 601.2Q2462 600.2 2465 612Z" fill="url(#iM)" />
<ellipse cx="2447" cy="612" rx="18" ry="5.2" fill="url(#iM)" />
<ellipse cx="2447" cy="604.7" rx="8.2" ry="2.9" fill="#3c3e42" />
<path d="M2423.7 722L2436 710.5L2462 708.8L2476.8 719.5L2475.5 727L2462 734.5L2437 735.5L2424.5 728Z" fill="#b9bbbf" stroke="#8e9196" stroke-width="1"/>
<path d="M2428.5 729L2437 735.5L2437.5 748.5L2430.5 742.5Z" fill="#a5a8ac" />
<path d="M2437 735.5L2451 736L2451.5 752L2437.5 748.5Z" fill="#d6d8da" />
<path d="M2451 736L2462 734.5L2472.5 728L2471.5 743L2461.5 750.5L2451.5 752Z" fill="#66686c" />
<ellipse cx="2450.5" cy="721.5" rx="12.5" ry="6.4" fill="#d9dadd" stroke="#9a9da1" stroke-width="1"/>
<ellipse cx="2450.5" cy="722.3" rx="8" ry="3.8" fill="#5a5c60" />
<path d="M2438.4 912V949.2Q2449.4 955.2 2460.4 949.2V912Z" fill="url(#iM)" />
<path d="M2438.4 916L2460.4 917.2M2438.4 919.2L2460.4 920.4M2438.4 922.4L2460.4 923.6M2438.4 925.6L2460.4 926.8M2438.4 928.8L2460.4 930M2438.4 932L2460.4 933.2M2438.4 935.2L2460.4 936.4M2438.4 938.4L2460.4 939.6M2438.4 941.6L2460.4 942.8M2438.4 944.8L2460.4 946M2438.4 948L2460.4 949.2" stroke="#00000030" stroke-width="1" fill="none"/>
<ellipse cx="2449.5" cy="904.7" rx="26.5" ry="11" fill="#4a4c50" />
<ellipse cx="2449.5" cy="902.7" rx="26.5" ry="11" fill="url(#iM)" />
<path d="M2430.4 901.7Q2433.6 889.3 2449.5 890.3Q2465.4 889.3 2468.6 901.7Z" fill="url(#iM)" />
<ellipse cx="2449.5" cy="901.7" rx="19.1" ry="6.1" fill="url(#iM)" />
<ellipse cx="2449.5" cy="893.8" rx="8.7" ry="3.3" fill="#3c3e42" />
<path d="M2441.7 998.4L2430.7 1000.4L2434.7 1026.4L2439.7 1030L2428.7 1044L2441.7 1038" fill="none" stroke="#8b8e93" stroke-width="2.2" stroke-linejoin="round"/>
<path d="M2442.7 996.4 L2466.7 981.2 L2468 1036.8 L2444 1052Z" fill="#85888d" stroke="#a9acb1" stroke-width="1.2" stroke-linejoin="round"/>
<path d="M2442.7 996.4L2466.7 981.2L2465.7 977.2L2444.7 991.4Z" fill="#b4b7bb" />
<ellipse cx="2455.5" cy="1019" rx="3.6" ry="4.6" fill="#e9e9eb" stroke="#5c5e62" stroke-width="1" transform="rotate(20 2455.5 1019)"/>
<path d="M2442.3 1380.6L2431.3 1382.6L2435.3 1408.6L2440.3 1413.4L2429.3 1427.4L2442.3 1421.4" fill="none" stroke="#8b8e93" stroke-width="2.2" stroke-linejoin="round"/>
<path d="M2443.3 1378.6 L2467.8 1365.4 L2468.4 1422.4 L2443.3 1435.4Z" fill="#85888d" stroke="#a9acb1" stroke-width="1.2" stroke-linejoin="round"/>
<path d="M2443.3 1378.6L2467.8 1365.4L2466.8 1361.4L2445.3 1373.6Z" fill="#b4b7bb" />
<ellipse cx="2456" cy="1404" rx="3.6" ry="4.6" fill="#e9e9eb" stroke="#5c5e62" stroke-width="1" transform="rotate(20 2456 1404)"/>
<path d="M2443.4 1096V1145Q2452 1150.5 2461 1145V1096Z" fill="url(#iL)" />
<path d="M2430 1092Q2434 1080.5 2452 1080Q2470 1080.5 2474 1092Q2463 1098.5 2452 1098.5Q2441 1098.5 2430 1092Z" fill="url(#iL)" />
<ellipse cx="2452" cy="1082.8" rx="5" ry="1.8" fill="#6f7276" />
<path d="M2442.2 1182V1231Q2444 1238 2451.3 1239Q2458.6 1238 2460.4 1231V1182Z" fill="url(#iD)" />
<path d="M2432.6 1176.5Q2451 1173.5 2469.2 1175.7L2468.5 1182Q2462 1185 2451 1185Q2440 1185 2433.5 1183Z" fill="url(#iD)" />
<path d="M2442.5 1228Q2451.3 1231 2460.2 1228" stroke="#2e3033" stroke-width="1" fill="none"/>
<path d="M2437.3 1296V1341Q2448.3 1347 2459.3 1341V1296Z" fill="url(#iM)" />
<path d="M2437.3 1300L2459.3 1301.2M2437.3 1303.2L2459.3 1304.4M2437.3 1306.4L2459.3 1307.6M2437.3 1309.6L2459.3 1310.8M2437.3 1312.8L2459.3 1314M2437.3 1316L2459.3 1317.2M2437.3 1319.2L2459.3 1320.4M2437.3 1322.4L2459.3 1323.6M2437.3 1325.6L2459.3 1326.8M2437.3 1328.8L2459.3 1330M2437.3 1332L2459.3 1333.2M2437.3 1335.2L2459.3 1336.4M2437.3 1338.4L2459.3 1339.6" stroke="#00000030" stroke-width="1" fill="none"/>
<ellipse cx="2448.3" cy="1293.5" rx="23.2" ry="6.5" fill="url(#iM)" />
<ellipse cx="2448.3" cy="1291" rx="23.2" ry="5" fill="url(#iM)" stroke="#00000030" stroke-width="0.8"/>
<path d="M2433.7 1270.7L2441.7 1267.7L2456.3 1267.7L2462.9 1270.7L2462.9 1289.5L2433.7 1289.5Z" fill="url(#iM)" />
<path d="M2433.7 1270.7L2441.7 1267.7L2456.3 1267.7L2462.9 1270.7Z" fill="#ffffff40" />
<path d="M2450.5 1270.7V1289.5" stroke="#00000040" stroke-width="1"/>
<path d="M2451.8 1463.5L2453.5 1463.5L2456.8 1477V1519L2453.5 1532.5L2451.8 1532.5L2448.5 1519V1477Z" fill="#7b7e83" />
<rect x="2450.3" y="1484" width="4.6" height="27" rx="0" fill="#fff" />
<rect x="2448.8" y="1478.5" width="7.8" height="5.5" rx="0" fill="#ececee" />
<rect x="2448.8" y="1511" width="7.8" height="5.5" rx="0" fill="#ececee" />
<path d="M2438.4 1584V1623Q2449.8 1629 2461.2 1623V1584Z" fill="url(#iD)" />
<path d="M2438.4 1588L2461.2 1589.2M2438.4 1591.2L2461.2 1592.4M2438.4 1594.4L2461.2 1595.6M2438.4 1597.6L2461.2 1598.8M2438.4 1600.8L2461.2 1602M2438.4 1604L2461.2 1605.2M2438.4 1607.2L2461.2 1608.4M2438.4 1610.4L2461.2 1611.6M2438.4 1613.6L2461.2 1614.8M2438.4 1616.8L2461.2 1618M2438.4 1620L2461.2 1621.2" stroke="#00000030" stroke-width="1" fill="none"/>
<ellipse cx="2449.8" cy="1576.9" rx="26.7" ry="11" fill="#4a4c50" />
<ellipse cx="2449.8" cy="1574.9" rx="26.7" ry="11" fill="url(#iD)" />
<path d="M2430.6 1573.9Q2433.8 1561.5 2449.8 1562.5Q2465.8 1561.5 2469 1573.9Z" fill="url(#iD)" />
<ellipse cx="2449.8" cy="1573.9" rx="19.2" ry="6.1" fill="url(#iD)" />
<ellipse cx="2449.8" cy="1566" rx="8.8" ry="3.3" fill="#3c3e42" />
<path d="M2352.1 1720.8 L2422.1 1711 L2426.1 1714.9 L2351.5 1725.7Z" fill="#d7a68f" />
<path d="M2417.9 1700.3 L2469.4 1672.6 L2471.3 1675.8 L2421.2 1703.8Z" fill="#d7a68f" />
<path d="M2353.7 1716.2 L2376.5 1676.5 L2386.3 1683.6 L2396.1 1679.7 L2420.5 1700.9 L2414 1701.9 L2422.1 1709.7Z" fill="#e0600f" />
<path d="M2404.2 1674.9 L2415.6 1668.3 L2440.1 1684.6 L2428.7 1691.1Z" fill="#e0600f" />
<path d="M2423.8 1663.5 L2443.3 1653 L2467.8 1667.4 L2446.6 1679.7Z" fill="#e0600f" /></g>
<g id="wm" style="mix-blend-mode:multiply">
<path d="M1695.9 684.7 L1791 712.6 L1810.2 786.5 L1706.3 758.6ZM1720.3 847.5 L1828.3 868.4 L1851 963.2 L1735.9 945.1ZM1779.5 648.1 L1863.2 674.9 L1881.3 738.4 L1791 712.6ZM1810.2 786.5 L1903.3 809.2 L1925.9 889.3 L1828.3 868.4ZM1851 963.2 L1952.1 976.5 L1980 1077.6 L1875.4 1067.1ZM1881.3 738.4 L1962.5 763.8 L1985.2 830.8 L1903.3 809.2ZM1925.9 889.3 L2011.3 906.8 L2042.7 992.2 L1952.1 976.5ZM1941.6 701.1 L2009.6 723.7 L2032.9 783 L1962.5 763.8ZM1985.2 830.8 L2060.1 849.2 L2088 922.4 L2011.3 906.8ZM2042.7 992.2 L2119.4 1004.4 L2154.2 1091.5 L2074.1 1084.5ZM2032.9 783 L2098.5 802.2 L2126.4 866.7 L2060.1 849.2ZM2088 922.4 L2157.7 936.4 L2190.8 1013.8 L2119.4 1004.4ZM2075.8 745.7 L2133.3 763.8 L2157.7 820.3 L2098.5 802.2ZM2126.4 866.7 L2189.1 882.4 L2220.5 950.3 L2157.7 936.4ZM2190.8 1013.8 L2255.3 1023.5 L2291.9 1103.7 L2227.5 1098.5ZM2157.7 820.3 L2213.5 837 L2241.4 894.6 L2189.1 882.4ZM2220.5 950.3 L2276.3 962.5 L2311.1 1030.5 L2255.3 1023.5Z" fill="#f0e5e7" stroke="#dfdde0" stroke-width="1"/>
<g fill="#f1e4e6" stroke="#f1e4e6" stroke-linejoin="miter">
<g font-size="342" stroke-width="17">
<text transform="translate(190.8 941.5) scale(1.0 1)">s</text>
<text transform="translate(390.9 941.5) scale(1.044 1)">c</text>
<text transform="translate(589.9 941.5) scale(1.048 1)">u</text>
<text transform="translate(807.7 941.5) scale(1.055 1.033)">d</text>
<text transform="translate(1024.1 941.5) scale(0.98 1)">e</text>
<text transform="translate(1226.2 941.5) scale(1.165 1)">r</text>
<text transform="translate(1370 941.5) scale(1.043 1.033)">i</text>
<text transform="translate(1464.6 941.5) scale(0.907 1)">a</text>
</g>
<g font-size="97" stroke-width="5.8">
<text transform="translate(188.9 1096) scale(1.1 1)">c</text>
<text transform="translate(561.4 1096) scale(1.1 1)">r</text>
<text transform="translate(882.1 1096) scale(1.1 1)">p</text>
<text transform="translate(1075.9 1096) scale(1.1 1)">a</text>
<text transform="translate(1262 1096) scale(1.1 1)">r</text>
<text transform="translate(1428.5 1096) scale(1.1 1)">t</text>
<text transform="translate(1593.1 1096) scale(1.1 1)">s</text>
</g></g></g>
<g id="labels"><path d="M611.8 121.3L664.1 151.6M585.6 171.5L637.9 202.2M564.7 233.6L618.7 263.9M549 266.7L488 303.3M732 272.6L678 303.3M308.5 405.1L254.5 435.7M585.6 392.2L533.3 421.8M627.5 412.4L571.7 444.4M665.8 510.7L697.2 557.7M826.1 219.6L857.5 238.8M928.3 281.7L941.2 278.9M857.5 295.6L871.5 292.1M836.6 323.5L848.8 326.6M904.6 334.6L917.8 337.1M813.9 396.3L829.6 392.9M886.4 381L899.3 378.2M813.9 500.9L829.6 497.4M886.4 485.6L899.3 482.8M475.8 627L423.5 657.3M477.6 652.4L423.5 682.8M608.3 598.1L660.6 628.7M589.1 618.3L660.6 660.1M664.1 591.1L704.1 719.4M573.4 668.8L585.6 675.8M615.3 693.2L646.6 710.7M726.8 857.1L749.5 905.9M495 939L547.3 970.4M435.7 978.4L495 993M491.5 1027.9L554.2 1027.9M453.2 1074.9L515.9 1065.2M463.6 1113.3L515.9 1085.4M515.9 1132.1L557.7 1109.8M815.7 602.6L829.6 601.6M887.1 598.1L901.1 597.4M819.2 738.5L833.1 737.5M889.9 734L903.9 732.6M831.4 794.3L831.4 829.2M892.4 832.7L892.4 869.3M962.1 824L932.5 843.1M911.5 862.3L894.1 872.8M965.6 886.7L965.6 923.3M1014.4 885L1033.6 940.7M1058.6 914.6L1058.6 949.4M1098 918.1L1080.6 947.7M1120.7 877.3L1113.7 888.4M1201.9 853.6L1197.4 914.6M1349 803L1347.3 817M1345.5 850.1L1343.1 886.7M1480.8 775.2L1479 810M1477.3 844.9L1476.3 858.8M822.7 949.4L819.2 1008.7M870.8 980.8L866.2 1043.6M892.4 993L918.5 1048.8M949.9 1020.9L976 1078.4M1009.8 1050.5L1005.7 1111.5M1088.6 1078.4L1085.1 1155.1M1375.2 1015.7L1369.9 1026.1M1356 1057.5L1340.3 1085.4M1476.3 1026.1L1469.3 1036.6M1455.3 1066.2L1439.7 1095.8M1523.3 996.5L1534.8 1055.8M1585 956.4L1582.6 993M1737 748L1742.9 758.8M1758.6 789.8L1784.7 837.9M1652.3 793.3L1664.5 800.2M1693.4 816.3L1725.5 836.2M1601.7 806.5L1608.7 839.6M1839.8 752.5L1913.7 794.3M1842.3 907.6L1913.7 949.4M1814.4 956.4L1884.1 997.5M1774.3 1016.7L1844 1057.5M2022.8 1019.2L1950.3 1061M1645.3 1068L1641.8 1125.5M1587.8 757L1589.5 771.7M292.8 1139L292.8 1151.2M327 1161.6L327 1173.8M660.6 1166.9L608.3 1198.2M702.4 1201.7L650.1 1233.1M735.5 1191.3L707.6 1245.3M338.1 1349.9L325.9 1356.8M298 1374.3L285.8 1381.2M338.1 1381.2L327.7 1388.2M298 1407.4L285.8 1413.7M432.2 1381.2L362.5 1423.1M332.9 1442.2L301.5 1459.7M414.8 1426.6L402.6 1433.5M374.7 1451L362.5 1457.9M490.8 1309.8L490.8 1346.4M519.4 1322L519.4 1376M906.3 1245.3L881.9 1297.6M939.4 1247L915 1299.3M1036.3 1264.5L1026.6 1322M1129.4 1340.5L1152.1 1390M1169.5 1323L1223.5 1353.4M1303 1304.5L1303 1363.8M833.8 1457.9L833.8 1494.5M871.1 1462.5L871.1 1475.4M1194.9 1487.6L1194.9 1501.5M1246.2 1475.4L1246.2 1512M1684.7 1169.6L1737.7 1200M1655.1 1192L1706.3 1222.6M2129.8 1204.5L2056.6 1247M1851.7 1262L1779.5 1304.5M1694.8 1320.2L1668 1335.9M1668 1335.9L1692.4 1351.6M1613.9 1342.9L1579.1 1362.8M1575.6 1372.5L1613.9 1388.2M2038.5 1410.9L1966 1452.7M2119.4 1421.3L2119.4 1456.2M2049.7 1440.5L2039.9 1445.7M2009.6 1464.9L1999.1 1470.8M2251.9 1459.7L2185.6 1498M1666.2 1464.9L1633.1 1484.1M783 912L799.8 945" fill="none" stroke="#111" stroke-width="1.9" stroke-dasharray="15 9"/>
<path d="M244.8 1015.6L235.5 1025.4M229 1033L219.7 1042.8M213.2 1050.5L203.4 1059.7M197.4 1067.3L188.1 1077.7M250.2 1029.8L241 1039.6M234.4 1047.2L225.2 1056.7M218.6 1065.2L208.3 1074.4M237.1 1060.6L224.6 1066.3M244.2 1060.3L244.2 1072.2M244.2 1083.1L244.2 1089.7M196.8 1078.8L201.2 1078.8M201.2 1078.8L201.2 1086.4M201.2 1097.3L201.2 1110.4M292.9 1138.1L292.9 1150.7" fill="none" stroke="#111" stroke-width="1.9"/>
<g class="lt">
<text transform="translate(613.5 115.8) scale(1 1)">011</text>
<text transform="translate(578.3 164.3) scale(1 1)">011</text>
<text transform="translate(562.6 228.4) scale(1 1)">011</text>
<text transform="translate(547.3 261.5) scale(1 1)">017</text>
<text transform="translate(736.6 267.8) scale(1 1)">011</text>
<text transform="translate(335.3 406.9) scale(1 1)">050</text>
<text transform="translate(590.2 388.1) scale(1 1)">017</text>
<text transform="translate(628.1 408.3) scale(1 1)">017</text>
<text transform="translate(665.1 505.5) scale(1 1)">010</text>
<text transform="translate(880.2 257.3) scale(1 1)">027</text>
<text transform="translate(960.3 279) scale(1 1)">021</text>
<text transform="translate(901.1 292.9) scale(1 1)">012</text>
<text transform="translate(876.7 338.9) scale(1 1)">012</text>
<text transform="translate(946.4 348.7) scale(1 1)">010</text>
<text transform="translate(856.8 397.5) scale(1 1)">012</text>
<text transform="translate(924.8 387.7) scale(1 1)">010</text>
<text transform="translate(856.8 501) scale(1 1)">012</text>
<text transform="translate(911.5 479.4) scale(1 1)">010</text>
<text transform="translate(470.6 621.9) scale(1 1)">017</text>
<text transform="translate(499.5 647) scale(1 1)">017</text>
<text transform="translate(604.1 592.2) scale(1 1)">048</text>
<text transform="translate(651.9 588.7) scale(1 1)">010</text>
<text transform="translate(573.4 614.9) scale(1 1)">048</text>
<text transform="translate(563 664.7) scale(1 1)">010</text>
<text transform="translate(590.2 696.8) scale(1 1)">020</text>
<text transform="translate(547.3 900.7) scale(1 1)">020</text>
<text transform="translate(753.6 933.1) scale(1 1)">010</text>
<text transform="translate(574.1 984.4) scale(1 1)">020</text>
<text transform="translate(522.2 1008.1) scale(1 1)">020</text>
<text transform="translate(578.6 1035.6) scale(1 1)">020</text>
<text transform="translate(539.6 1070.5) scale(1 1)">020</text>
<text transform="translate(539.6 1092.4) scale(1 1)">020</text>
<text transform="translate(578.6 1113.4) scale(1 1)">020</text>
<text transform="translate(856.8 609.7) scale(1 1)">012</text>
<text transform="translate(927.9 609.7) scale(1 1)">010</text>
<text transform="translate(859.3 742.8) scale(1 1)">020</text>
<text transform="translate(932.5 739.3) scale(1 1)">010</text>
<text transform="translate(831.4 789.2) scale(1 1)">047</text>
<text transform="translate(892.4 827.5) scale(1 1)">047</text>
<text transform="translate(970.1 817.8) scale(1 1)">010</text>
<text transform="translate(929.7 864.8) scale(1 1)">024</text>
<text transform="translate(965.6 882.3) scale(1 1)">047</text>
<text transform="translate(1017.9 879.8) scale(1 1)">010</text>
<text transform="translate(1058.6 910.1) scale(1 1)">047</text>
<text transform="translate(1107.5 911.2) scale(1 1)">024</text>
<text transform="translate(1127 872.8) scale(1 1)">010</text>
<text transform="translate(1203.7 848.4) scale(1 1)">010</text>
<text transform="translate(1348.3 794.4) scale(1 1)">010</text>
<text transform="translate(1342.7 843.2) scale(1 1)">012</text>
<text transform="translate(1480.8 770.7) scale(1 1)">010</text>
<text transform="translate(1478 838.7) scale(1 1)">012</text>
<text transform="translate(1586.1 752.6) scale(1 1)">010</text>
<text transform="translate(1588.5 799.6) scale(1 1)">012</text>
<text transform="translate(1580.8 951.3) scale(1 1)">010</text>
<text transform="translate(1520.9 989.6) scale(1 1)">055</text>
<text transform="translate(1376.6 1009.8) scale(1 1)">010</text>
<text transform="translate(1480.8 1019.9) scale(1 1)">010</text>
<text transform="translate(1361.9 1052.4) scale(1 1)">020</text>
<text transform="translate(1462.3 1061.1) scale(1 1)">020</text>
<text transform="translate(819.2 1031.4) scale(1 1)">010</text>
<text transform="translate(863.4 1067) scale(1 1)">010</text>
<text transform="translate(917.8 1070.5) scale(1 1)">010</text>
<text transform="translate(972.9 1102.9) scale(1 1)">010</text>
<text transform="translate(1007.4 1132.5) scale(1 1)">010</text>
<text transform="translate(1728.3 743.9) scale(1 1)">010</text>
<text transform="translate(1838.1 745.6) scale(1 1)">027</text>
<text transform="translate(1749.9 784) scale(1 1)">012</text>
<text transform="translate(1644.6 790.9) scale(1 1)">021</text>
<text transform="translate(1669 821.6) scale(1 1)">012</text>
<text transform="translate(1838.1 901.4) scale(1 1)">011</text>
<text transform="translate(1808.5 950.6) scale(1 1)">011</text>
<text transform="translate(1768.4 1011.6) scale(1 1)">011</text>
<text transform="translate(2032.2 1015.8) scale(1 1)">011</text>
<text transform="translate(1662.7 1062.8) scale(1 1)">010</text>
<text transform="translate(290.4 1178.4) scale(1 1)">047</text>
<text transform="translate(324.9 1198.3) scale(1 1)">047</text>
<text transform="translate(657.1 1160) scale(1 1)">051</text>
<text transform="translate(698.2 1193.8) scale(1 1)">020</text>
<text transform="translate(745.3 1184.4) scale(1 1)">020</text>
<text transform="translate(300.8 1369.8) scale(1 1)">014</text>
<text transform="translate(258.6 1398.8) scale(1 1)">013</text>
<text transform="translate(321.7 1411) scale(1 1)">014</text>
<text transform="translate(260.7 1433.6) scale(1 1)">013</text>
<text transform="translate(338.1 1438.8) scale(1 1)">014</text>
<text transform="translate(277.8 1477.2) scale(1 1)">013</text>
<text transform="translate(338.1 1473.7) scale(1 1)">013</text>
<text transform="translate(399.1 1454.5) scale(1 1)">014</text>
<text transform="translate(488 1369.1) scale(1 1)">047</text>
<text transform="translate(514.2 1400.5) scale(1 1)">047</text>
<text transform="translate(245.8 1113.3) scale(1 1)">047</text>
<text transform="translate(196.9 1132.4) scale(1 1)">047</text>
<text transform="translate(1084.1 1164.2) scale(1 1)">010</text>
<text transform="translate(891.7 1237.4) scale(1 1)">020</text>
<text transform="translate(939.4 1240.1) scale(1 1)">020</text>
<text transform="translate(1036.3 1259.3) scale(1 1)">020</text>
<text transform="translate(1120 1332.5) scale(1 1)">020</text>
<text transform="translate(1169.5 1315.1) scale(1 1)">020</text>
<text transform="translate(1302.7 1299.4) scale(1 1)">020</text>
<text transform="translate(868 1499.8) scale(1 1)">047</text>
<text transform="translate(830.7 1518.3) scale(1 1)">047</text>
<text transform="translate(1193.2 1525.3) scale(1 1)">047</text>
<text transform="translate(1243.4 1535.4) scale(1 1)">047</text>
<text transform="translate(1760.3 1220.3) scale(1 1)">048</text>
<text transform="translate(1729.7 1242.9) scale(1 1)">048</text>
<text transform="translate(2132.3 1200.1) scale(1 1)">017</text>
<text transform="translate(1853.4 1256.9) scale(1 1)">017</text>
<text transform="translate(1696.6 1315.1) scale(1 1)">017</text>
<text transform="translate(1617.4 1340.2) scale(1 1)">017</text>
<text transform="translate(2038.5 1406.4) scale(1 1)">017</text>
<text transform="translate(2115.2 1416.2) scale(1 1)">052</text>
<text transform="translate(2052.5 1438.8) scale(1 1)">054</text>
<text transform="translate(2014.8 1463.2) scale(1 1)">050</text>
<text transform="translate(2274.5 1459.1) scale(1 1)">053</text>
<text transform="translate(794.2 969.3) scale(1 1)">010</text>
</g></g>
<g id="callouts"><g fill="none" stroke="#df6020" stroke-width="3.2" stroke-linecap="round" stroke-linejoin="miter">
<path d="M193.4 92 L193.4 318"/>
<path d="M335.3 92 L335.3 223"/>
<path d="M436.7 92 L436.7 313.7 L455.5 324.5"/>
<path d="M745.6 92 L745.6 159.6 L693.6 190"/>
<path d="M818.5 92 L818.5 201.5"/>
<path d="M983 92 L983 455"/>
<path d="M1115.4 92 L1115.4 455"/>
<path d="M1330.5 92 L1330.5 455"/>
<path d="M1427.7 92 L1427.7 345"/>
<path d="M1538.9 92 L1538.9 280"/>
<path d="M1921.3 92 L1921.3 791"/>
<path d="M2022.5 92 L2022.5 931.3 L1978.2 957"/>
<path d="M82 658.4 L250 658.4 L273 671"/>
<path d="M82 728.6 L142 728.6"/>
<path d="M82 833.7 L245 833.7"/>
<path d="M82 993 L245 993"/>
<path d="M82 1201.7 L191.4 1201.7 L295.4 1261.3 L310 1253"/>
<path d="M450.6 1678 L450.6 1444"/>
<path d="M714.4 1678 L714.4 1487.5"/>
<path d="M970.5 1678 L970.5 1194"/>
<path d="M1203.7 1678 L1203.7 1557"/>
<path d="M1356.3 1678 L1356.3 1510"/>
<path d="M1539.3 1678 L1539.3 1243"/>
<path d="M1787.3 1678 L1787.3 1484"/>
<path d="M2053.2 1678 L2053.2 1597"/>
<path d="M2237.4 1678 L2237.4 1433 L2181 1399"/>
<path d="M266.7 1243 L285.5 1232"/>
<path d="M564.7 1401 L834.9 1557.2 L862 1542.6"/>
</g>
<g fill="#fff" stroke="#df6020" stroke-width="3.3">
<circle cx="193.4" cy="61.8" r="30.3"/>
<circle cx="335.3" cy="61.8" r="30.3"/>
<circle cx="436.7" cy="61.8" r="30.3"/>
<circle cx="745.6" cy="61.8" r="30.3"/>
<circle cx="818.5" cy="61.8" r="30.3"/>
<circle cx="983" cy="61.8" r="30.3"/>
<circle cx="1115.4" cy="61.8" r="30.3"/>
<circle cx="1330.5" cy="61.8" r="30.3"/>
<circle cx="1427.7" cy="61.8" r="30.3"/>
<circle cx="1538.9" cy="61.8" r="30.3"/>
<circle cx="1921.3" cy="61.8" r="30.3"/>
<circle cx="2022.5" cy="61.8" r="30.3"/>
<circle cx="51.8" cy="658.4" r="30.3"/>
<circle cx="51.8" cy="728.6" r="30.3"/>
<circle cx="51.8" cy="833.7" r="30.3"/>
<circle cx="51.8" cy="993" r="30.3"/>
<circle cx="51.8" cy="1201.7" r="30.3"/>
<circle cx="450.6" cy="1708.4" r="30.3"/>
<circle cx="714.4" cy="1708.4" r="30.3"/>
<circle cx="970.5" cy="1708.4" r="30.3"/>
<circle cx="1203.7" cy="1708.4" r="30.3"/>
<circle cx="1356.3" cy="1708.4" r="30.3"/>
<circle cx="1539.3" cy="1708.4" r="30.3"/>
<circle cx="1787.3" cy="1708.4" r="30.3"/>
<circle cx="2053.2" cy="1708.4" r="30.3"/>
<circle cx="2237.4" cy="1708.4" r="30.3"/>
</g>
<g class="ct">
<text transform="translate(193.4 70.8) scale(1.06 1)">031</text>
<text transform="translate(335.3 70.8) scale(1.06 1)">033</text>
<text transform="translate(436.7 70.8) scale(1.06 1)">029</text>
<text transform="translate(745.6 70.8) scale(1.06 1)">019</text>
<text transform="translate(818.5 70.8) scale(1.06 1)">045</text>
<text transform="translate(983 70.8) scale(1.06 1)">036</text>
<text transform="translate(1115.4 70.8) scale(1.06 1)">026</text>
<text transform="translate(1330.5 70.8) scale(1.06 1)">041</text>
<text transform="translate(1427.7 70.8) scale(1.06 1)">042</text>
<text transform="translate(1538.9 70.8) scale(1.06 1)">043</text>
<text transform="translate(1921.3 70.8) scale(1.06 1)">044</text>
<text transform="translate(2022.5 70.8) scale(1.06 1)">018</text>
<text transform="translate(51.8 667.4) scale(1.06 1)">056</text>
<text transform="translate(51.8 737.6) scale(1.06 1)">040</text>
<text transform="translate(51.8 842.7) scale(1.06 1)">046</text>
<text transform="translate(51.8 1002) scale(1.06 1)">023</text>
<text transform="translate(51.8 1210.7) scale(1.06 1)">022</text>
<text transform="translate(450.6 1717.4) scale(1.06 1)">015</text>
<text transform="translate(714.4 1717.4) scale(1.06 1)">022</text>
<text transform="translate(970.5 1717.4) scale(1.06 1)">016</text>
<text transform="translate(1203.7 1717.4) scale(1.06 1)">022</text>
<text transform="translate(1356.3 1717.4) scale(1.06 1)">039</text>
<text transform="translate(1539.3 1717.4) scale(1.06 1)">025</text>
<text transform="translate(1787.3 1717.4) scale(1.06 1)">028</text>
<text transform="translate(2053.2 1717.4) scale(1.06 1)">030</text>
<text transform="translate(2237.4 1717.4) scale(1.06 1)">032</text>
</g></g>
</svg></body></html>
